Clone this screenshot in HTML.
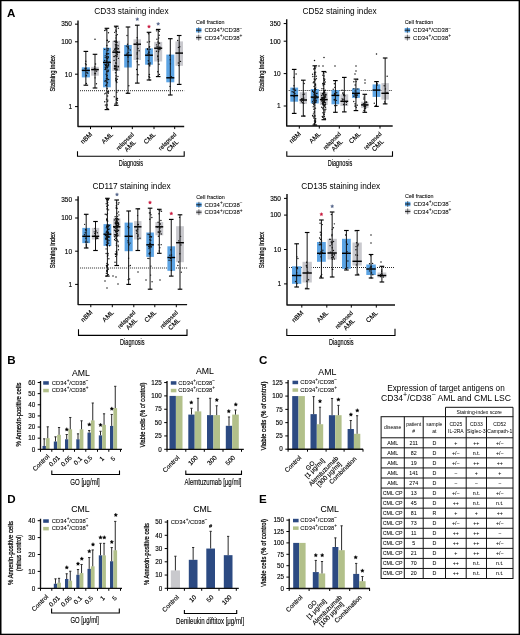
<!DOCTYPE html>
<html><head><meta charset="utf-8"><style>html,body{margin:0;padding:0;background:#fff;width:520px;height:635px;overflow:hidden}svg{display:block;will-change:transform}</style></head>
<body><svg width="520" height="635" viewBox="0 0 520 635" font-family="Liberation Sans">
<rect x="0.00" y="0.00" width="520.00" height="635.00" fill="#fff"/>
<text x="94.30" y="14.30" font-size="8.3" text-anchor="start" font-weight="normal" fill="#000">CD33 staining index</text>
<path d="M78,20.5 V126.5 H184.2" fill="none" stroke="#111" stroke-width="1.45" stroke-linejoin="round"/>
<line x1="75.00" y1="24.17" x2="78.00" y2="24.17" stroke="#000" stroke-width="1.0"/>
<text x="72.00" y="26.47" font-size="6.5" text-anchor="end" font-weight="normal" fill="#000" stroke="#000" stroke-width="0.13">350</text>
<line x1="75.00" y1="41.80" x2="78.00" y2="41.80" stroke="#000" stroke-width="1.0"/>
<text x="72.00" y="44.10" font-size="6.5" text-anchor="end" font-weight="normal" fill="#000" stroke="#000" stroke-width="0.13">100</text>
<line x1="75.00" y1="74.20" x2="78.00" y2="74.20" stroke="#000" stroke-width="1.0"/>
<text x="72.00" y="76.50" font-size="6.5" text-anchor="end" font-weight="normal" fill="#000" stroke="#000" stroke-width="0.13">10</text>
<line x1="75.00" y1="106.60" x2="78.00" y2="106.60" stroke="#000" stroke-width="1.0"/>
<text x="72.00" y="108.90" font-size="6.5" text-anchor="end" font-weight="normal" fill="#000" stroke="#000" stroke-width="0.13">1</text>
<text x="55.10" y="73.30" font-size="7.3" text-anchor="middle" font-weight="normal" fill="#000" transform="rotate(-90 55.10 73.30)" textLength="36.5" lengthAdjust="spacingAndGlyphs" stroke="#000" stroke-width="0.2">Staining index</text>
<line x1="90.50" y1="126.50" x2="90.50" y2="129.10" stroke="#000" stroke-width="1.0"/>
<line x1="111.50" y1="126.50" x2="111.50" y2="129.10" stroke="#000" stroke-width="1.0"/>
<line x1="132.30" y1="126.50" x2="132.30" y2="129.10" stroke="#000" stroke-width="1.0"/>
<line x1="154.00" y1="126.50" x2="154.00" y2="129.10" stroke="#000" stroke-width="1.0"/>
<line x1="174.70" y1="126.50" x2="174.70" y2="129.10" stroke="#000" stroke-width="1.0"/>
<line x1="80" y1="90.70" x2="184.2" y2="90.70" stroke="#000" stroke-width="0.85" stroke-dasharray="1,1"/>
<rect x="81.80" y="67.30" width="8.10" height="10.10" fill="#5ca4e4"/>
<line x1="85.85" y1="51.40" x2="85.85" y2="85.20" stroke="#111" stroke-width="1.0"/>
<line x1="83.55" y1="51.40" x2="88.15" y2="51.40" stroke="#000" stroke-width="1.15"/>
<line x1="83.55" y1="85.20" x2="88.15" y2="85.20" stroke="#000" stroke-width="1.15"/>
<line x1="81.80" y1="70.40" x2="89.90" y2="70.40" stroke="#000" stroke-width="1.45"/>
<circle cx="85.60" cy="68.82" r="0.7" fill="#111"/>
<circle cx="85.50" cy="63.76" r="0.7" fill="#111"/>
<circle cx="86.99" cy="72.43" r="0.7" fill="#111"/>
<circle cx="86.12" cy="68.22" r="0.7" fill="#111"/>
<circle cx="86.41" cy="75.65" r="0.7" fill="#111"/>
<circle cx="86.40" cy="83.43" r="0.7" fill="#111"/>
<circle cx="86.19" cy="64.81" r="0.7" fill="#111"/>
<circle cx="85.80" cy="61.19" r="0.7" fill="#111"/>
<circle cx="85.12" cy="68.49" r="0.7" fill="#111"/>
<circle cx="87.74" cy="73.17" r="0.7" fill="#111"/>
<rect x="91.20" y="66.80" width="7.60" height="8.90" fill="#c9c9ce"/>
<line x1="95.00" y1="54.30" x2="95.00" y2="88.00" stroke="#111" stroke-width="1.0"/>
<line x1="92.70" y1="54.30" x2="97.30" y2="54.30" stroke="#000" stroke-width="1.15"/>
<line x1="92.70" y1="88.00" x2="97.30" y2="88.00" stroke="#000" stroke-width="1.15"/>
<line x1="91.20" y1="69.60" x2="98.80" y2="69.60" stroke="#000" stroke-width="1.45"/>
<circle cx="94.62" cy="66.85" r="0.7" fill="#111"/>
<circle cx="94.88" cy="68.63" r="0.7" fill="#111"/>
<circle cx="94.43" cy="68.71" r="0.7" fill="#111"/>
<circle cx="96.34" cy="69.47" r="0.7" fill="#111"/>
<circle cx="95.05" cy="77.86" r="0.7" fill="#111"/>
<circle cx="96.44" cy="83.79" r="0.7" fill="#111"/>
<circle cx="95.55" cy="64.00" r="0.7" fill="#111"/>
<circle cx="94.93" cy="73.54" r="0.7" fill="#111"/>
<circle cx="96.58" cy="71.15" r="0.7" fill="#111"/>
<circle cx="95.40" cy="73.61" r="0.7" fill="#111"/>
<rect x="103.00" y="47.80" width="7.80" height="39.50" fill="#5ca4e4"/>
<line x1="106.90" y1="28.30" x2="106.90" y2="109.60" stroke="#111" stroke-width="1.0"/>
<line x1="104.60" y1="28.30" x2="109.20" y2="28.30" stroke="#000" stroke-width="1.15"/>
<line x1="104.60" y1="109.60" x2="109.20" y2="109.60" stroke="#000" stroke-width="1.15"/>
<line x1="103.00" y1="62.40" x2="110.80" y2="62.40" stroke="#000" stroke-width="1.45"/>
<circle cx="106.40" cy="53.81" r="0.7" fill="#111"/>
<circle cx="105.51" cy="65.39" r="0.7" fill="#111"/>
<circle cx="105.30" cy="105.10" r="0.7" fill="#111"/>
<circle cx="107.16" cy="75.51" r="0.7" fill="#111"/>
<circle cx="107.29" cy="109.04" r="0.7" fill="#111"/>
<circle cx="106.09" cy="74.21" r="0.7" fill="#111"/>
<circle cx="107.17" cy="66.04" r="0.7" fill="#111"/>
<circle cx="107.38" cy="78.15" r="0.7" fill="#111"/>
<circle cx="105.17" cy="57.58" r="0.7" fill="#111"/>
<circle cx="108.31" cy="65.54" r="0.7" fill="#111"/>
<circle cx="107.83" cy="100.12" r="0.7" fill="#111"/>
<circle cx="104.91" cy="64.20" r="0.7" fill="#111"/>
<circle cx="107.51" cy="82.73" r="0.7" fill="#111"/>
<circle cx="106.73" cy="56.96" r="0.7" fill="#111"/>
<circle cx="106.17" cy="66.96" r="0.7" fill="#111"/>
<circle cx="106.44" cy="64.35" r="0.7" fill="#111"/>
<circle cx="108.51" cy="70.17" r="0.7" fill="#111"/>
<circle cx="106.41" cy="78.51" r="0.7" fill="#111"/>
<circle cx="108.45" cy="32.69" r="0.7" fill="#111"/>
<circle cx="105.77" cy="93.17" r="0.7" fill="#111"/>
<circle cx="108.14" cy="63.56" r="0.7" fill="#111"/>
<circle cx="107.84" cy="50.46" r="0.7" fill="#111"/>
<circle cx="106.71" cy="54.21" r="0.7" fill="#111"/>
<circle cx="107.21" cy="53.77" r="0.7" fill="#111"/>
<circle cx="109.10" cy="62.16" r="0.7" fill="#111"/>
<circle cx="107.26" cy="40.38" r="0.7" fill="#111"/>
<circle cx="106.53" cy="61.52" r="0.7" fill="#111"/>
<circle cx="107.32" cy="109.04" r="0.7" fill="#111"/>
<circle cx="107.34" cy="67.64" r="0.7" fill="#111"/>
<circle cx="107.16" cy="58.26" r="0.7" fill="#111"/>
<circle cx="109.10" cy="41.42" r="0.7" fill="#111"/>
<circle cx="107.29" cy="40.22" r="0.7" fill="#111"/>
<circle cx="104.70" cy="30.50" r="0.7" fill="#111"/>
<circle cx="106.36" cy="84.90" r="0.7" fill="#111"/>
<circle cx="107.84" cy="62.28" r="0.7" fill="#111"/>
<circle cx="108.54" cy="91.64" r="0.7" fill="#111"/>
<circle cx="108.10" cy="56.61" r="0.7" fill="#111"/>
<circle cx="104.70" cy="93.83" r="0.7" fill="#111"/>
<circle cx="107.09" cy="88.45" r="0.7" fill="#111"/>
<circle cx="108.21" cy="48.94" r="0.7" fill="#111"/>
<circle cx="106.80" cy="58.84" r="0.7" fill="#111"/>
<circle cx="108.59" cy="64.66" r="0.7" fill="#111"/>
<circle cx="107.91" cy="108.63" r="0.7" fill="#111"/>
<circle cx="106.61" cy="56.76" r="0.7" fill="#111"/>
<circle cx="105.22" cy="55.87" r="0.7" fill="#111"/>
<circle cx="105.24" cy="67.28" r="0.7" fill="#111"/>
<circle cx="108.29" cy="93.31" r="0.7" fill="#111"/>
<circle cx="107.72" cy="91.90" r="0.7" fill="#111"/>
<circle cx="107.74" cy="67.16" r="0.7" fill="#111"/>
<circle cx="108.65" cy="79.43" r="0.7" fill="#111"/>
<circle cx="104.73" cy="60.48" r="0.7" fill="#111"/>
<circle cx="108.45" cy="42.12" r="0.7" fill="#111"/>
<circle cx="108.55" cy="53.77" r="0.7" fill="#111"/>
<circle cx="105.78" cy="80.45" r="0.7" fill="#111"/>
<circle cx="106.08" cy="81.74" r="0.7" fill="#111"/>
<circle cx="108.02" cy="48.36" r="0.7" fill="#111"/>
<circle cx="104.70" cy="81.12" r="0.7" fill="#111"/>
<circle cx="106.47" cy="99.17" r="0.7" fill="#111"/>
<circle cx="106.89" cy="45.46" r="0.7" fill="#111"/>
<circle cx="107.82" cy="70.96" r="0.7" fill="#111"/>
<circle cx="108.54" cy="64.35" r="0.7" fill="#111"/>
<circle cx="108.67" cy="65.90" r="0.7" fill="#111"/>
<circle cx="104.74" cy="101.82" r="0.7" fill="#111"/>
<circle cx="108.08" cy="71.54" r="0.7" fill="#111"/>
<circle cx="106.25" cy="29.82" r="0.7" fill="#111"/>
<circle cx="107.16" cy="79.37" r="0.7" fill="#111"/>
<circle cx="106.68" cy="66.50" r="0.7" fill="#111"/>
<circle cx="105.51" cy="68.27" r="0.7" fill="#111"/>
<circle cx="108.01" cy="92.06" r="0.7" fill="#111"/>
<circle cx="107.77" cy="58.74" r="0.7" fill="#111"/>
<circle cx="105.18" cy="69.58" r="0.7" fill="#111"/>
<circle cx="106.20" cy="64.34" r="0.7" fill="#111"/>
<circle cx="105.22" cy="69.40" r="0.7" fill="#111"/>
<circle cx="106.77" cy="71.66" r="0.7" fill="#111"/>
<circle cx="106.19" cy="104.84" r="0.7" fill="#111"/>
<circle cx="104.76" cy="49.40" r="0.7" fill="#111"/>
<circle cx="107.22" cy="104.99" r="0.7" fill="#111"/>
<circle cx="106.40" cy="65.26" r="0.7" fill="#111"/>
<circle cx="108.37" cy="57.31" r="0.7" fill="#111"/>
<circle cx="107.63" cy="101.23" r="0.7" fill="#111"/>
<circle cx="106.57" cy="76.09" r="0.7" fill="#111"/>
<circle cx="106.38" cy="106.96" r="0.7" fill="#111"/>
<circle cx="105.88" cy="85.42" r="0.7" fill="#111"/>
<circle cx="107.66" cy="95.98" r="0.7" fill="#111"/>
<circle cx="105.90" cy="64.85" r="0.7" fill="#111"/>
<circle cx="106.80" cy="60.38" r="0.7" fill="#111"/>
<circle cx="105.78" cy="29.88" r="0.7" fill="#111"/>
<rect x="112.30" y="40.80" width="7.80" height="30.20" fill="#c9c9ce"/>
<line x1="116.20" y1="26.20" x2="116.20" y2="105.30" stroke="#111" stroke-width="1.0"/>
<line x1="113.90" y1="26.20" x2="118.50" y2="26.20" stroke="#000" stroke-width="1.15"/>
<line x1="113.90" y1="105.30" x2="118.50" y2="105.30" stroke="#000" stroke-width="1.15"/>
<line x1="112.30" y1="52.20" x2="120.10" y2="52.20" stroke="#000" stroke-width="1.45"/>
<circle cx="115.81" cy="50.81" r="0.7" fill="#111"/>
<circle cx="118.40" cy="66.72" r="0.7" fill="#111"/>
<circle cx="117.45" cy="103.06" r="0.7" fill="#111"/>
<circle cx="118.05" cy="48.82" r="0.7" fill="#111"/>
<circle cx="116.67" cy="44.71" r="0.7" fill="#111"/>
<circle cx="116.56" cy="98.29" r="0.7" fill="#111"/>
<circle cx="115.43" cy="68.56" r="0.7" fill="#111"/>
<circle cx="116.52" cy="81.60" r="0.7" fill="#111"/>
<circle cx="116.40" cy="59.84" r="0.7" fill="#111"/>
<circle cx="114.89" cy="69.14" r="0.7" fill="#111"/>
<circle cx="114.72" cy="66.66" r="0.7" fill="#111"/>
<circle cx="115.24" cy="66.86" r="0.7" fill="#111"/>
<circle cx="116.49" cy="99.50" r="0.7" fill="#111"/>
<circle cx="115.40" cy="44.70" r="0.7" fill="#111"/>
<circle cx="116.06" cy="45.68" r="0.7" fill="#111"/>
<circle cx="115.84" cy="46.89" r="0.7" fill="#111"/>
<circle cx="117.07" cy="49.14" r="0.7" fill="#111"/>
<circle cx="116.08" cy="40.27" r="0.7" fill="#111"/>
<circle cx="116.37" cy="41.26" r="0.7" fill="#111"/>
<circle cx="116.66" cy="69.79" r="0.7" fill="#111"/>
<circle cx="117.36" cy="34.61" r="0.7" fill="#111"/>
<circle cx="114.11" cy="60.39" r="0.7" fill="#111"/>
<circle cx="116.27" cy="56.10" r="0.7" fill="#111"/>
<circle cx="115.06" cy="103.91" r="0.7" fill="#111"/>
<circle cx="117.94" cy="76.51" r="0.7" fill="#111"/>
<circle cx="116.75" cy="53.69" r="0.7" fill="#111"/>
<circle cx="116.39" cy="63.17" r="0.7" fill="#111"/>
<circle cx="118.02" cy="45.73" r="0.7" fill="#111"/>
<circle cx="117.27" cy="79.24" r="0.7" fill="#111"/>
<circle cx="115.87" cy="48.11" r="0.7" fill="#111"/>
<circle cx="117.38" cy="54.26" r="0.7" fill="#111"/>
<circle cx="117.56" cy="69.85" r="0.7" fill="#111"/>
<circle cx="115.96" cy="69.96" r="0.7" fill="#111"/>
<circle cx="117.28" cy="51.57" r="0.7" fill="#111"/>
<circle cx="116.21" cy="65.97" r="0.7" fill="#111"/>
<circle cx="117.06" cy="56.04" r="0.7" fill="#111"/>
<circle cx="116.23" cy="52.87" r="0.7" fill="#111"/>
<circle cx="115.93" cy="41.48" r="0.7" fill="#111"/>
<circle cx="116.95" cy="68.06" r="0.7" fill="#111"/>
<circle cx="115.72" cy="78.21" r="0.7" fill="#111"/>
<circle cx="114.00" cy="50.65" r="0.7" fill="#111"/>
<circle cx="115.94" cy="38.02" r="0.7" fill="#111"/>
<circle cx="114.64" cy="66.03" r="0.7" fill="#111"/>
<circle cx="116.00" cy="75.82" r="0.7" fill="#111"/>
<circle cx="114.20" cy="56.62" r="0.7" fill="#111"/>
<circle cx="116.89" cy="92.24" r="0.7" fill="#111"/>
<circle cx="114.26" cy="96.82" r="0.7" fill="#111"/>
<circle cx="116.23" cy="81.04" r="0.7" fill="#111"/>
<circle cx="116.47" cy="51.69" r="0.7" fill="#111"/>
<circle cx="114.76" cy="66.04" r="0.7" fill="#111"/>
<circle cx="115.64" cy="80.04" r="0.7" fill="#111"/>
<circle cx="116.74" cy="26.46" r="0.7" fill="#111"/>
<circle cx="114.45" cy="68.53" r="0.7" fill="#111"/>
<circle cx="116.13" cy="31.42" r="0.7" fill="#111"/>
<circle cx="115.36" cy="48.82" r="0.7" fill="#111"/>
<circle cx="116.01" cy="42.43" r="0.7" fill="#111"/>
<circle cx="114.00" cy="56.46" r="0.7" fill="#111"/>
<circle cx="116.36" cy="80.28" r="0.7" fill="#111"/>
<circle cx="114.68" cy="32.33" r="0.7" fill="#111"/>
<circle cx="116.16" cy="48.47" r="0.7" fill="#111"/>
<circle cx="115.26" cy="27.19" r="0.7" fill="#111"/>
<circle cx="115.41" cy="48.92" r="0.7" fill="#111"/>
<circle cx="114.71" cy="49.21" r="0.7" fill="#111"/>
<circle cx="115.66" cy="62.95" r="0.7" fill="#111"/>
<circle cx="116.32" cy="41.96" r="0.7" fill="#111"/>
<circle cx="117.41" cy="100.26" r="0.7" fill="#111"/>
<circle cx="116.33" cy="102.78" r="0.7" fill="#111"/>
<circle cx="116.86" cy="47.45" r="0.7" fill="#111"/>
<circle cx="118.40" cy="58.36" r="0.7" fill="#111"/>
<circle cx="116.76" cy="56.63" r="0.7" fill="#111"/>
<circle cx="116.03" cy="66.44" r="0.7" fill="#111"/>
<circle cx="116.47" cy="81.83" r="0.7" fill="#111"/>
<circle cx="118.40" cy="28.16" r="0.7" fill="#111"/>
<circle cx="115.31" cy="55.65" r="0.7" fill="#111"/>
<circle cx="116.48" cy="51.19" r="0.7" fill="#111"/>
<circle cx="118.03" cy="66.17" r="0.7" fill="#111"/>
<circle cx="116.22" cy="35.70" r="0.7" fill="#111"/>
<circle cx="116.94" cy="82.60" r="0.7" fill="#111"/>
<circle cx="115.67" cy="52.67" r="0.7" fill="#111"/>
<circle cx="115.45" cy="72.80" r="0.7" fill="#111"/>
<circle cx="117.09" cy="42.26" r="0.7" fill="#111"/>
<circle cx="115.63" cy="66.01" r="0.7" fill="#111"/>
<circle cx="118.40" cy="48.82" r="0.7" fill="#111"/>
<circle cx="114.28" cy="41.22" r="0.7" fill="#111"/>
<circle cx="118.17" cy="90.43" r="0.7" fill="#111"/>
<circle cx="117.49" cy="98.45" r="0.7" fill="#111"/>
<circle cx="115.69" cy="30.11" r="0.7" fill="#111"/>
<rect x="124.20" y="45.00" width="7.60" height="22.50" fill="#5ca4e4"/>
<line x1="128.00" y1="27.00" x2="128.00" y2="93.30" stroke="#111" stroke-width="1.0"/>
<line x1="125.70" y1="27.00" x2="130.30" y2="27.00" stroke="#000" stroke-width="1.15"/>
<line x1="125.70" y1="93.30" x2="130.30" y2="93.30" stroke="#000" stroke-width="1.15"/>
<line x1="124.20" y1="55.20" x2="131.80" y2="55.20" stroke="#000" stroke-width="1.45"/>
<circle cx="128.03" cy="56.89" r="0.7" fill="#111"/>
<circle cx="126.42" cy="46.10" r="0.7" fill="#111"/>
<circle cx="127.01" cy="35.44" r="0.7" fill="#111"/>
<circle cx="128.18" cy="61.63" r="0.7" fill="#111"/>
<circle cx="127.48" cy="44.25" r="0.7" fill="#111"/>
<circle cx="127.23" cy="53.15" r="0.7" fill="#111"/>
<circle cx="128.63" cy="48.64" r="0.7" fill="#111"/>
<circle cx="130.20" cy="49.95" r="0.7" fill="#111"/>
<circle cx="127.43" cy="93.07" r="0.7" fill="#111"/>
<circle cx="128.19" cy="47.04" r="0.7" fill="#111"/>
<circle cx="128.06" cy="47.05" r="0.7" fill="#111"/>
<circle cx="128.85" cy="85.82" r="0.7" fill="#111"/>
<circle cx="126.85" cy="54.37" r="0.7" fill="#111"/>
<circle cx="128.69" cy="52.61" r="0.7" fill="#111"/>
<rect x="133.50" y="39.30" width="7.50" height="20.70" fill="#c9c9ce"/>
<line x1="137.25" y1="25.20" x2="137.25" y2="83.10" stroke="#111" stroke-width="1.0"/>
<line x1="134.95" y1="25.20" x2="139.55" y2="25.20" stroke="#000" stroke-width="1.15"/>
<line x1="134.95" y1="83.10" x2="139.55" y2="83.10" stroke="#000" stroke-width="1.15"/>
<line x1="133.50" y1="44.20" x2="141.00" y2="44.20" stroke="#000" stroke-width="1.45"/>
<circle cx="137.81" cy="45.04" r="0.7" fill="#111"/>
<circle cx="137.13" cy="61.66" r="0.7" fill="#111"/>
<circle cx="137.14" cy="37.70" r="0.7" fill="#111"/>
<circle cx="138.07" cy="48.53" r="0.7" fill="#111"/>
<circle cx="137.41" cy="74.34" r="0.7" fill="#111"/>
<circle cx="137.08" cy="53.99" r="0.7" fill="#111"/>
<circle cx="137.23" cy="52.60" r="0.7" fill="#111"/>
<circle cx="137.24" cy="58.49" r="0.7" fill="#111"/>
<circle cx="138.07" cy="74.73" r="0.7" fill="#111"/>
<circle cx="137.11" cy="42.50" r="0.7" fill="#111"/>
<circle cx="138.89" cy="64.69" r="0.7" fill="#111"/>
<circle cx="136.62" cy="69.48" r="0.7" fill="#111"/>
<circle cx="139.11" cy="50.72" r="0.7" fill="#111"/>
<circle cx="137.72" cy="58.34" r="0.7" fill="#111"/>
<rect x="145.10" y="48.40" width="7.80" height="16.30" fill="#5ca4e4"/>
<line x1="149.00" y1="32.30" x2="149.00" y2="80.00" stroke="#111" stroke-width="1.0"/>
<line x1="146.70" y1="32.30" x2="151.30" y2="32.30" stroke="#000" stroke-width="1.15"/>
<line x1="146.70" y1="80.00" x2="151.30" y2="80.00" stroke="#000" stroke-width="1.15"/>
<line x1="145.10" y1="55.20" x2="152.90" y2="55.20" stroke="#000" stroke-width="1.45"/>
<circle cx="149.58" cy="46.79" r="0.7" fill="#111"/>
<circle cx="149.60" cy="65.62" r="0.7" fill="#111"/>
<circle cx="147.56" cy="49.55" r="0.7" fill="#111"/>
<circle cx="148.78" cy="52.04" r="0.7" fill="#111"/>
<circle cx="148.61" cy="32.80" r="0.7" fill="#111"/>
<circle cx="150.16" cy="63.05" r="0.7" fill="#111"/>
<circle cx="149.08" cy="54.97" r="0.7" fill="#111"/>
<circle cx="149.82" cy="65.91" r="0.7" fill="#111"/>
<circle cx="147.35" cy="48.76" r="0.7" fill="#111"/>
<circle cx="149.02" cy="52.59" r="0.7" fill="#111"/>
<circle cx="149.04" cy="76.43" r="0.7" fill="#111"/>
<circle cx="149.29" cy="55.26" r="0.7" fill="#111"/>
<circle cx="149.53" cy="41.75" r="0.7" fill="#111"/>
<circle cx="147.27" cy="42.09" r="0.7" fill="#111"/>
<circle cx="149.34" cy="47.17" r="0.7" fill="#111"/>
<circle cx="148.28" cy="60.80" r="0.7" fill="#111"/>
<circle cx="148.29" cy="63.92" r="0.7" fill="#111"/>
<circle cx="149.02" cy="55.20" r="0.7" fill="#111"/>
<circle cx="149.67" cy="77.56" r="0.7" fill="#111"/>
<circle cx="149.87" cy="64.28" r="0.7" fill="#111"/>
<circle cx="150.02" cy="49.25" r="0.7" fill="#111"/>
<circle cx="149.41" cy="74.45" r="0.7" fill="#111"/>
<circle cx="149.89" cy="79.88" r="0.7" fill="#111"/>
<circle cx="148.59" cy="63.65" r="0.7" fill="#111"/>
<circle cx="148.45" cy="33.82" r="0.7" fill="#111"/>
<circle cx="148.08" cy="53.81" r="0.7" fill="#111"/>
<rect x="154.20" y="41.90" width="8.00" height="19.60" fill="#c9c9ce"/>
<line x1="158.20" y1="29.40" x2="158.20" y2="76.60" stroke="#111" stroke-width="1.0"/>
<line x1="155.90" y1="29.40" x2="160.50" y2="29.40" stroke="#000" stroke-width="1.15"/>
<line x1="155.90" y1="76.60" x2="160.50" y2="76.60" stroke="#000" stroke-width="1.15"/>
<line x1="154.20" y1="48.20" x2="162.20" y2="48.20" stroke="#000" stroke-width="1.45"/>
<circle cx="158.01" cy="41.96" r="0.7" fill="#111"/>
<circle cx="159.21" cy="35.24" r="0.7" fill="#111"/>
<circle cx="156.93" cy="39.19" r="0.7" fill="#111"/>
<circle cx="159.80" cy="49.81" r="0.7" fill="#111"/>
<circle cx="156.48" cy="51.18" r="0.7" fill="#111"/>
<circle cx="159.97" cy="49.04" r="0.7" fill="#111"/>
<circle cx="156.50" cy="30.83" r="0.7" fill="#111"/>
<circle cx="159.27" cy="31.32" r="0.7" fill="#111"/>
<circle cx="158.94" cy="43.13" r="0.7" fill="#111"/>
<circle cx="157.79" cy="71.81" r="0.7" fill="#111"/>
<circle cx="159.67" cy="47.24" r="0.7" fill="#111"/>
<circle cx="157.80" cy="55.95" r="0.7" fill="#111"/>
<circle cx="160.05" cy="47.30" r="0.7" fill="#111"/>
<circle cx="158.24" cy="59.32" r="0.7" fill="#111"/>
<circle cx="158.33" cy="30.54" r="0.7" fill="#111"/>
<circle cx="159.44" cy="74.42" r="0.7" fill="#111"/>
<circle cx="157.04" cy="46.82" r="0.7" fill="#111"/>
<circle cx="158.75" cy="38.03" r="0.7" fill="#111"/>
<circle cx="159.04" cy="64.26" r="0.7" fill="#111"/>
<circle cx="156.50" cy="44.87" r="0.7" fill="#111"/>
<circle cx="158.29" cy="48.99" r="0.7" fill="#111"/>
<circle cx="157.76" cy="56.66" r="0.7" fill="#111"/>
<circle cx="159.56" cy="43.17" r="0.7" fill="#111"/>
<circle cx="158.49" cy="61.11" r="0.7" fill="#111"/>
<circle cx="158.16" cy="76.03" r="0.7" fill="#111"/>
<circle cx="158.66" cy="51.67" r="0.7" fill="#111"/>
<rect x="166.30" y="54.60" width="8.00" height="27.70" fill="#5ca4e4"/>
<line x1="170.30" y1="38.70" x2="170.30" y2="95.00" stroke="#111" stroke-width="1.0"/>
<line x1="168.00" y1="38.70" x2="172.60" y2="38.70" stroke="#000" stroke-width="1.15"/>
<line x1="168.00" y1="95.00" x2="172.60" y2="95.00" stroke="#000" stroke-width="1.15"/>
<line x1="166.30" y1="77.80" x2="174.30" y2="77.80" stroke="#000" stroke-width="1.45"/>
<circle cx="170.41" cy="63.86" r="0.7" fill="#111"/>
<circle cx="171.44" cy="76.65" r="0.7" fill="#111"/>
<circle cx="170.01" cy="86.39" r="0.7" fill="#111"/>
<circle cx="169.82" cy="55.24" r="0.7" fill="#111"/>
<circle cx="170.25" cy="59.70" r="0.7" fill="#111"/>
<rect x="175.40" y="41.40" width="7.60" height="24.40" fill="#c9c9ce"/>
<line x1="179.20" y1="35.50" x2="179.20" y2="84.40" stroke="#111" stroke-width="1.0"/>
<line x1="176.90" y1="35.50" x2="181.50" y2="35.50" stroke="#000" stroke-width="1.15"/>
<line x1="176.90" y1="84.40" x2="181.50" y2="84.40" stroke="#000" stroke-width="1.15"/>
<line x1="175.40" y1="53.10" x2="183.00" y2="53.10" stroke="#000" stroke-width="1.45"/>
<circle cx="178.47" cy="47.39" r="0.7" fill="#111"/>
<circle cx="178.34" cy="62.97" r="0.7" fill="#111"/>
<circle cx="178.74" cy="65.62" r="0.7" fill="#111"/>
<circle cx="179.77" cy="46.81" r="0.7" fill="#111"/>
<circle cx="177.71" cy="40.50" r="0.7" fill="#111"/>
<circle cx="180.51" cy="61.39" r="0.7" fill="#111"/>
<polygon points="137.30,17.44 137.82,18.49 138.98,18.65 138.14,19.47 138.34,20.63 137.30,20.08 136.26,20.63 136.46,19.47 135.62,18.65 136.78,18.49" fill="#55658a" stroke="#55658a" stroke-width="0.3"/>
<polygon points="149.00,24.84 149.52,25.89 150.68,26.05 149.84,26.87 150.04,28.03 149.00,27.48 147.96,28.03 148.16,26.87 147.32,26.05 148.48,25.89" fill="#c8183c" stroke="#c8183c" stroke-width="0.3"/>
<polygon points="158.20,22.14 158.72,23.19 159.88,23.35 159.04,24.17 159.24,25.33 158.20,24.78 157.16,25.33 157.36,24.17 156.52,23.35 157.68,23.19" fill="#55658a" stroke="#55658a" stroke-width="0.3"/>
<circle cx="95.00" cy="39.30" r="0.75" fill="#111"/>
<text x="87.84" y="139.56" font-size="6.55" text-anchor="middle" font-weight="normal" fill="#000" transform="rotate(-45 87.84 139.56)" stroke="#000" stroke-width="0.13">nBM</text>
<text x="108.84" y="139.56" font-size="6.55" text-anchor="middle" font-weight="normal" fill="#000" transform="rotate(-45 108.84 139.56)" stroke="#000" stroke-width="0.13">AML</text>
<text x="126.40" y="142.80" font-size="5.9" text-anchor="middle" font-weight="normal" fill="#000" transform="rotate(-45 126.40 142.80)" stroke="#000" stroke-width="0.13">relapsed</text>
<text x="131.70" y="147.40" font-size="6.55" text-anchor="middle" font-weight="normal" fill="#000" transform="rotate(-45 131.70 147.40)" stroke="#000" stroke-width="0.13">AML</text>
<text x="151.21" y="139.69" font-size="6.55" text-anchor="middle" font-weight="normal" fill="#000" transform="rotate(-45 151.21 139.69)" stroke="#000" stroke-width="0.13">CML</text>
<text x="168.80" y="142.80" font-size="5.9" text-anchor="middle" font-weight="normal" fill="#000" transform="rotate(-45 168.80 142.80)" stroke="#000" stroke-width="0.13">relapsed</text>
<text x="174.10" y="147.40" font-size="6.55" text-anchor="middle" font-weight="normal" fill="#000" transform="rotate(-45 174.10 147.40)" stroke="#000" stroke-width="0.13">CML</text>
<path d="M77.5,151.3 V156.2 H184.2 V151.3" fill="none" stroke="#000" stroke-width="1.1"/>
<text x="130.90" y="166.00" font-size="8.2" text-anchor="middle" font-weight="normal" fill="#000" textLength="24.5" lengthAdjust="spacingAndGlyphs" stroke="#000" stroke-width="0.13">Diagnosis</text>
<text x="196.00" y="24.20" font-size="5.4" text-anchor="start" font-weight="normal" fill="#000" stroke="#000" stroke-width="0.06">Cell fraction</text>
<rect x="196.00" y="28.00" width="5.40" height="4.40" fill="#5ca4e4"/>
<line x1="198.70" y1="27.20" x2="198.70" y2="33.20" stroke="#222" stroke-width="0.6"/>
<line x1="196.00" y1="30.20" x2="201.40" y2="30.20" stroke="#111" stroke-width="0.9"/>
<text x="204.40" y="32.30" font-size="6.0" text-anchor="start" font-weight="normal" fill="#000" stroke="#000" stroke-width="0.06">CD34<tspan dy="-2.7" font-size="0.8em">+</tspan><tspan dy="2.7">/CD38</tspan><tspan dy="-2.7" font-size="0.8em">−</tspan></text>
<rect x="196.00" y="35.40" width="5.40" height="4.40" fill="#c9c9ce"/>
<line x1="198.70" y1="34.60" x2="198.70" y2="40.60" stroke="#222" stroke-width="0.6"/>
<line x1="196.00" y1="37.60" x2="201.40" y2="37.60" stroke="#111" stroke-width="0.9"/>
<text x="204.40" y="39.70" font-size="6.0" text-anchor="start" font-weight="normal" fill="#000" stroke="#000" stroke-width="0.06">CD34<tspan dy="-2.7" font-size="0.8em">+</tspan><tspan dy="2.7">/CD38</tspan><tspan dy="-2.7" font-size="0.8em">+</tspan></text>
<text x="302.50" y="14.30" font-size="8.3" text-anchor="start" font-weight="normal" fill="#000">CD52 staining index</text>
<path d="M286.7,19.2 V126 H392.7" fill="none" stroke="#111" stroke-width="1.45" stroke-linejoin="round"/>
<line x1="283.70" y1="23.57" x2="286.70" y2="23.57" stroke="#000" stroke-width="1.0"/>
<text x="280.70" y="25.87" font-size="6.5" text-anchor="end" font-weight="normal" fill="#000" stroke="#000" stroke-width="0.13">350</text>
<line x1="283.70" y1="41.20" x2="286.70" y2="41.20" stroke="#000" stroke-width="1.0"/>
<text x="280.70" y="43.50" font-size="6.5" text-anchor="end" font-weight="normal" fill="#000" stroke="#000" stroke-width="0.13">100</text>
<line x1="283.70" y1="73.60" x2="286.70" y2="73.60" stroke="#000" stroke-width="1.0"/>
<text x="280.70" y="75.90" font-size="6.5" text-anchor="end" font-weight="normal" fill="#000" stroke="#000" stroke-width="0.13">10</text>
<line x1="283.70" y1="106.00" x2="286.70" y2="106.00" stroke="#000" stroke-width="1.0"/>
<text x="280.70" y="108.30" font-size="6.5" text-anchor="end" font-weight="normal" fill="#000" stroke="#000" stroke-width="0.13">1</text>
<text x="263.80" y="73.30" font-size="7.3" text-anchor="middle" font-weight="normal" fill="#000" transform="rotate(-90 263.80 73.30)" textLength="36.5" lengthAdjust="spacingAndGlyphs" stroke="#000" stroke-width="0.2">Staining index</text>
<line x1="299.30" y1="126.00" x2="299.30" y2="128.60" stroke="#000" stroke-width="1.0"/>
<line x1="319.30" y1="126.00" x2="319.30" y2="128.60" stroke="#000" stroke-width="1.0"/>
<line x1="339.30" y1="126.00" x2="339.30" y2="128.60" stroke="#000" stroke-width="1.0"/>
<line x1="359.30" y1="126.00" x2="359.30" y2="128.60" stroke="#000" stroke-width="1.0"/>
<line x1="380.00" y1="126.00" x2="380.00" y2="128.60" stroke="#000" stroke-width="1.0"/>
<line x1="288.7" y1="90.50" x2="392.7" y2="90.50" stroke="#000" stroke-width="0.85" stroke-dasharray="1,1"/>
<rect x="290.30" y="87.60" width="7.80" height="14.10" fill="#5ca4e4"/>
<line x1="294.20" y1="69.40" x2="294.20" y2="113.40" stroke="#111" stroke-width="1.0"/>
<line x1="291.90" y1="69.40" x2="296.50" y2="69.40" stroke="#000" stroke-width="1.15"/>
<line x1="291.90" y1="113.40" x2="296.50" y2="113.40" stroke="#000" stroke-width="1.15"/>
<line x1="290.30" y1="95.60" x2="298.10" y2="95.60" stroke="#000" stroke-width="1.45"/>
<circle cx="292.15" cy="91.74" r="0.7" fill="#111"/>
<circle cx="295.63" cy="90.27" r="0.7" fill="#111"/>
<circle cx="293.95" cy="85.78" r="0.7" fill="#111"/>
<circle cx="294.08" cy="89.16" r="0.7" fill="#111"/>
<circle cx="296.10" cy="74.05" r="0.7" fill="#111"/>
<circle cx="294.41" cy="96.68" r="0.7" fill="#111"/>
<circle cx="295.23" cy="90.48" r="0.7" fill="#111"/>
<circle cx="293.77" cy="96.05" r="0.7" fill="#111"/>
<circle cx="293.60" cy="92.21" r="0.7" fill="#111"/>
<circle cx="293.92" cy="77.55" r="0.7" fill="#111"/>
<circle cx="294.89" cy="93.51" r="0.7" fill="#111"/>
<circle cx="293.10" cy="89.03" r="0.7" fill="#111"/>
<rect x="299.60" y="92.20" width="7.40" height="11.70" fill="#c9c9ce"/>
<line x1="303.30" y1="80.20" x2="303.30" y2="116.10" stroke="#111" stroke-width="1.0"/>
<line x1="301.00" y1="80.20" x2="305.60" y2="80.20" stroke="#000" stroke-width="1.15"/>
<line x1="301.00" y1="116.10" x2="305.60" y2="116.10" stroke="#000" stroke-width="1.15"/>
<line x1="299.60" y1="100.00" x2="307.00" y2="100.00" stroke="#000" stroke-width="1.45"/>
<circle cx="304.15" cy="83.47" r="0.7" fill="#111"/>
<circle cx="302.54" cy="100.34" r="0.7" fill="#111"/>
<circle cx="303.78" cy="103.35" r="0.7" fill="#111"/>
<circle cx="302.59" cy="98.83" r="0.7" fill="#111"/>
<circle cx="304.19" cy="115.98" r="0.7" fill="#111"/>
<circle cx="303.20" cy="94.51" r="0.7" fill="#111"/>
<circle cx="302.56" cy="102.75" r="0.7" fill="#111"/>
<circle cx="301.41" cy="101.80" r="0.7" fill="#111"/>
<circle cx="304.57" cy="94.10" r="0.7" fill="#111"/>
<circle cx="301.77" cy="98.65" r="0.7" fill="#111"/>
<circle cx="301.43" cy="99.48" r="0.7" fill="#111"/>
<circle cx="303.85" cy="98.10" r="0.7" fill="#111"/>
<rect x="310.80" y="89.00" width="8.00" height="14.40" fill="#5ca4e4"/>
<line x1="314.80" y1="65.80" x2="314.80" y2="125.00" stroke="#111" stroke-width="1.0"/>
<line x1="312.50" y1="65.80" x2="317.10" y2="65.80" stroke="#000" stroke-width="1.15"/>
<line x1="312.50" y1="125.00" x2="317.10" y2="125.00" stroke="#000" stroke-width="1.15"/>
<line x1="310.80" y1="97.10" x2="318.80" y2="97.10" stroke="#000" stroke-width="1.45"/>
<circle cx="315.51" cy="120.59" r="0.7" fill="#111"/>
<circle cx="315.77" cy="96.06" r="0.7" fill="#111"/>
<circle cx="312.60" cy="90.82" r="0.7" fill="#111"/>
<circle cx="314.44" cy="123.55" r="0.7" fill="#111"/>
<circle cx="314.84" cy="88.76" r="0.7" fill="#111"/>
<circle cx="315.09" cy="102.52" r="0.7" fill="#111"/>
<circle cx="314.22" cy="78.95" r="0.7" fill="#111"/>
<circle cx="315.13" cy="115.90" r="0.7" fill="#111"/>
<circle cx="314.19" cy="94.76" r="0.7" fill="#111"/>
<circle cx="315.39" cy="88.51" r="0.7" fill="#111"/>
<circle cx="315.38" cy="118.92" r="0.7" fill="#111"/>
<circle cx="314.81" cy="97.10" r="0.7" fill="#111"/>
<circle cx="314.49" cy="72.77" r="0.7" fill="#111"/>
<circle cx="314.14" cy="98.36" r="0.7" fill="#111"/>
<circle cx="314.13" cy="100.29" r="0.7" fill="#111"/>
<circle cx="313.68" cy="104.80" r="0.7" fill="#111"/>
<circle cx="315.19" cy="97.91" r="0.7" fill="#111"/>
<circle cx="314.96" cy="79.73" r="0.7" fill="#111"/>
<circle cx="312.89" cy="76.43" r="0.7" fill="#111"/>
<circle cx="315.61" cy="72.14" r="0.7" fill="#111"/>
<circle cx="315.64" cy="95.36" r="0.7" fill="#111"/>
<circle cx="314.50" cy="68.21" r="0.7" fill="#111"/>
<circle cx="314.46" cy="111.84" r="0.7" fill="#111"/>
<circle cx="313.73" cy="69.01" r="0.7" fill="#111"/>
<circle cx="314.77" cy="73.86" r="0.7" fill="#111"/>
<circle cx="314.57" cy="124.77" r="0.7" fill="#111"/>
<circle cx="312.79" cy="103.14" r="0.7" fill="#111"/>
<circle cx="315.37" cy="122.43" r="0.7" fill="#111"/>
<circle cx="314.47" cy="120.89" r="0.7" fill="#111"/>
<circle cx="314.83" cy="94.05" r="0.7" fill="#111"/>
<circle cx="314.15" cy="82.08" r="0.7" fill="#111"/>
<circle cx="312.60" cy="74.30" r="0.7" fill="#111"/>
<circle cx="314.77" cy="92.79" r="0.7" fill="#111"/>
<circle cx="315.48" cy="84.69" r="0.7" fill="#111"/>
<circle cx="314.96" cy="102.48" r="0.7" fill="#111"/>
<circle cx="315.74" cy="118.81" r="0.7" fill="#111"/>
<circle cx="316.48" cy="96.64" r="0.7" fill="#111"/>
<circle cx="315.78" cy="87.10" r="0.7" fill="#111"/>
<circle cx="313.80" cy="118.05" r="0.7" fill="#111"/>
<circle cx="314.04" cy="103.30" r="0.7" fill="#111"/>
<circle cx="314.00" cy="81.47" r="0.7" fill="#111"/>
<circle cx="313.61" cy="99.98" r="0.7" fill="#111"/>
<circle cx="316.24" cy="76.26" r="0.7" fill="#111"/>
<circle cx="315.16" cy="68.66" r="0.7" fill="#111"/>
<circle cx="314.04" cy="124.06" r="0.7" fill="#111"/>
<circle cx="314.77" cy="105.09" r="0.7" fill="#111"/>
<circle cx="314.86" cy="91.15" r="0.7" fill="#111"/>
<circle cx="312.60" cy="91.39" r="0.7" fill="#111"/>
<circle cx="314.61" cy="92.27" r="0.7" fill="#111"/>
<circle cx="315.83" cy="67.12" r="0.7" fill="#111"/>
<circle cx="314.82" cy="94.14" r="0.7" fill="#111"/>
<circle cx="314.17" cy="97.40" r="0.7" fill="#111"/>
<circle cx="314.41" cy="93.91" r="0.7" fill="#111"/>
<circle cx="314.83" cy="102.49" r="0.7" fill="#111"/>
<circle cx="315.43" cy="98.19" r="0.7" fill="#111"/>
<circle cx="314.10" cy="112.10" r="0.7" fill="#111"/>
<circle cx="315.30" cy="98.29" r="0.7" fill="#111"/>
<circle cx="314.07" cy="86.54" r="0.7" fill="#111"/>
<circle cx="313.86" cy="109.22" r="0.7" fill="#111"/>
<circle cx="316.10" cy="102.01" r="0.7" fill="#111"/>
<circle cx="315.17" cy="79.87" r="0.7" fill="#111"/>
<circle cx="316.19" cy="100.22" r="0.7" fill="#111"/>
<circle cx="314.91" cy="74.22" r="0.7" fill="#111"/>
<circle cx="313.23" cy="97.76" r="0.7" fill="#111"/>
<circle cx="314.73" cy="76.14" r="0.7" fill="#111"/>
<circle cx="317.00" cy="93.32" r="0.7" fill="#111"/>
<circle cx="315.49" cy="108.15" r="0.7" fill="#111"/>
<circle cx="314.76" cy="101.16" r="0.7" fill="#111"/>
<circle cx="313.57" cy="92.59" r="0.7" fill="#111"/>
<circle cx="314.83" cy="90.52" r="0.7" fill="#111"/>
<circle cx="315.11" cy="99.80" r="0.7" fill="#111"/>
<circle cx="314.59" cy="115.84" r="0.7" fill="#111"/>
<circle cx="313.96" cy="91.61" r="0.7" fill="#111"/>
<circle cx="314.65" cy="96.78" r="0.7" fill="#111"/>
<circle cx="316.37" cy="78.65" r="0.7" fill="#111"/>
<circle cx="314.75" cy="66.70" r="0.7" fill="#111"/>
<circle cx="315.61" cy="121.73" r="0.7" fill="#111"/>
<circle cx="315.52" cy="85.15" r="0.7" fill="#111"/>
<circle cx="314.13" cy="102.07" r="0.7" fill="#111"/>
<circle cx="313.25" cy="106.82" r="0.7" fill="#111"/>
<circle cx="312.60" cy="115.51" r="0.7" fill="#111"/>
<circle cx="313.17" cy="116.57" r="0.7" fill="#111"/>
<circle cx="315.48" cy="84.02" r="0.7" fill="#111"/>
<circle cx="316.94" cy="97.97" r="0.7" fill="#111"/>
<circle cx="315.94" cy="89.39" r="0.7" fill="#111"/>
<circle cx="314.46" cy="102.38" r="0.7" fill="#111"/>
<circle cx="315.30" cy="89.60" r="0.7" fill="#111"/>
<circle cx="314.21" cy="103.33" r="0.7" fill="#111"/>
<circle cx="313.10" cy="97.50" r="0.7" fill="#111"/>
<circle cx="315.78" cy="100.77" r="0.7" fill="#111"/>
<circle cx="312.70" cy="101.50" r="0.7" fill="#111"/>
<circle cx="315.38" cy="121.70" r="0.7" fill="#111"/>
<circle cx="315.27" cy="89.50" r="0.7" fill="#111"/>
<circle cx="313.43" cy="113.87" r="0.7" fill="#111"/>
<circle cx="313.27" cy="82.81" r="0.7" fill="#111"/>
<circle cx="314.83" cy="90.41" r="0.7" fill="#111"/>
<circle cx="314.06" cy="95.10" r="0.7" fill="#111"/>
<circle cx="314.45" cy="92.70" r="0.7" fill="#111"/>
<circle cx="316.51" cy="93.62" r="0.7" fill="#111"/>
<circle cx="315.71" cy="95.62" r="0.7" fill="#111"/>
<rect x="319.90" y="92.20" width="7.80" height="12.80" fill="#c9c9ce"/>
<line x1="323.80" y1="71.50" x2="323.80" y2="119.70" stroke="#111" stroke-width="1.0"/>
<line x1="321.50" y1="71.50" x2="326.10" y2="71.50" stroke="#000" stroke-width="1.15"/>
<line x1="321.50" y1="119.70" x2="326.10" y2="119.70" stroke="#000" stroke-width="1.15"/>
<line x1="319.90" y1="99.60" x2="327.70" y2="99.60" stroke="#000" stroke-width="1.45"/>
<circle cx="322.57" cy="97.49" r="0.7" fill="#111"/>
<circle cx="322.82" cy="108.76" r="0.7" fill="#111"/>
<circle cx="325.21" cy="81.94" r="0.7" fill="#111"/>
<circle cx="324.09" cy="75.88" r="0.7" fill="#111"/>
<circle cx="323.19" cy="94.79" r="0.7" fill="#111"/>
<circle cx="325.08" cy="118.63" r="0.7" fill="#111"/>
<circle cx="323.84" cy="109.90" r="0.7" fill="#111"/>
<circle cx="322.61" cy="98.53" r="0.7" fill="#111"/>
<circle cx="325.50" cy="104.28" r="0.7" fill="#111"/>
<circle cx="323.40" cy="94.95" r="0.7" fill="#111"/>
<circle cx="322.57" cy="100.35" r="0.7" fill="#111"/>
<circle cx="323.17" cy="102.29" r="0.7" fill="#111"/>
<circle cx="321.97" cy="88.64" r="0.7" fill="#111"/>
<circle cx="324.16" cy="90.52" r="0.7" fill="#111"/>
<circle cx="323.50" cy="72.71" r="0.7" fill="#111"/>
<circle cx="324.86" cy="95.57" r="0.7" fill="#111"/>
<circle cx="323.05" cy="103.51" r="0.7" fill="#111"/>
<circle cx="321.99" cy="98.10" r="0.7" fill="#111"/>
<circle cx="323.44" cy="102.65" r="0.7" fill="#111"/>
<circle cx="324.99" cy="96.38" r="0.7" fill="#111"/>
<circle cx="325.55" cy="107.26" r="0.7" fill="#111"/>
<circle cx="324.01" cy="97.82" r="0.7" fill="#111"/>
<circle cx="322.37" cy="98.11" r="0.7" fill="#111"/>
<circle cx="324.13" cy="82.97" r="0.7" fill="#111"/>
<circle cx="324.67" cy="112.16" r="0.7" fill="#111"/>
<circle cx="323.81" cy="94.20" r="0.7" fill="#111"/>
<circle cx="324.78" cy="79.26" r="0.7" fill="#111"/>
<circle cx="325.56" cy="94.62" r="0.7" fill="#111"/>
<circle cx="323.52" cy="104.52" r="0.7" fill="#111"/>
<circle cx="325.75" cy="97.12" r="0.7" fill="#111"/>
<circle cx="323.60" cy="92.46" r="0.7" fill="#111"/>
<circle cx="324.39" cy="100.37" r="0.7" fill="#111"/>
<circle cx="324.27" cy="92.63" r="0.7" fill="#111"/>
<circle cx="323.35" cy="102.32" r="0.7" fill="#111"/>
<circle cx="322.58" cy="93.83" r="0.7" fill="#111"/>
<circle cx="322.31" cy="99.93" r="0.7" fill="#111"/>
<circle cx="324.82" cy="92.23" r="0.7" fill="#111"/>
<circle cx="323.10" cy="107.61" r="0.7" fill="#111"/>
<circle cx="324.18" cy="113.92" r="0.7" fill="#111"/>
<circle cx="324.80" cy="105.24" r="0.7" fill="#111"/>
<circle cx="322.47" cy="93.38" r="0.7" fill="#111"/>
<circle cx="324.74" cy="100.24" r="0.7" fill="#111"/>
<circle cx="324.46" cy="105.87" r="0.7" fill="#111"/>
<circle cx="322.72" cy="83.55" r="0.7" fill="#111"/>
<circle cx="324.36" cy="91.23" r="0.7" fill="#111"/>
<circle cx="324.45" cy="116.34" r="0.7" fill="#111"/>
<circle cx="325.26" cy="90.24" r="0.7" fill="#111"/>
<circle cx="325.14" cy="118.48" r="0.7" fill="#111"/>
<circle cx="324.13" cy="102.21" r="0.7" fill="#111"/>
<circle cx="324.96" cy="96.53" r="0.7" fill="#111"/>
<circle cx="324.65" cy="106.07" r="0.7" fill="#111"/>
<circle cx="324.44" cy="102.31" r="0.7" fill="#111"/>
<circle cx="322.63" cy="117.19" r="0.7" fill="#111"/>
<circle cx="322.34" cy="100.96" r="0.7" fill="#111"/>
<circle cx="324.97" cy="104.80" r="0.7" fill="#111"/>
<circle cx="323.63" cy="92.92" r="0.7" fill="#111"/>
<circle cx="324.90" cy="97.56" r="0.7" fill="#111"/>
<circle cx="323.28" cy="105.16" r="0.7" fill="#111"/>
<circle cx="324.49" cy="101.69" r="0.7" fill="#111"/>
<circle cx="324.18" cy="96.91" r="0.7" fill="#111"/>
<circle cx="325.74" cy="94.91" r="0.7" fill="#111"/>
<circle cx="324.37" cy="102.14" r="0.7" fill="#111"/>
<circle cx="322.35" cy="98.59" r="0.7" fill="#111"/>
<circle cx="322.85" cy="104.54" r="0.7" fill="#111"/>
<circle cx="325.05" cy="110.84" r="0.7" fill="#111"/>
<circle cx="323.26" cy="85.69" r="0.7" fill="#111"/>
<circle cx="323.63" cy="88.60" r="0.7" fill="#111"/>
<circle cx="323.20" cy="84.39" r="0.7" fill="#111"/>
<circle cx="324.39" cy="80.46" r="0.7" fill="#111"/>
<circle cx="323.64" cy="101.44" r="0.7" fill="#111"/>
<circle cx="324.61" cy="98.34" r="0.7" fill="#111"/>
<circle cx="323.24" cy="102.22" r="0.7" fill="#111"/>
<circle cx="322.92" cy="112.68" r="0.7" fill="#111"/>
<circle cx="325.40" cy="102.80" r="0.7" fill="#111"/>
<circle cx="322.73" cy="102.84" r="0.7" fill="#111"/>
<circle cx="326.00" cy="72.22" r="0.7" fill="#111"/>
<circle cx="324.00" cy="83.55" r="0.7" fill="#111"/>
<circle cx="324.00" cy="94.03" r="0.7" fill="#111"/>
<circle cx="325.69" cy="94.15" r="0.7" fill="#111"/>
<circle cx="324.94" cy="109.66" r="0.7" fill="#111"/>
<circle cx="325.82" cy="109.16" r="0.7" fill="#111"/>
<circle cx="324.30" cy="114.59" r="0.7" fill="#111"/>
<circle cx="321.76" cy="101.07" r="0.7" fill="#111"/>
<circle cx="321.69" cy="107.26" r="0.7" fill="#111"/>
<circle cx="324.66" cy="84.25" r="0.7" fill="#111"/>
<circle cx="323.42" cy="93.98" r="0.7" fill="#111"/>
<circle cx="323.82" cy="78.46" r="0.7" fill="#111"/>
<circle cx="321.67" cy="95.51" r="0.7" fill="#111"/>
<circle cx="323.26" cy="102.96" r="0.7" fill="#111"/>
<circle cx="322.73" cy="98.62" r="0.7" fill="#111"/>
<circle cx="321.98" cy="97.56" r="0.7" fill="#111"/>
<circle cx="322.78" cy="75.13" r="0.7" fill="#111"/>
<circle cx="322.61" cy="100.00" r="0.7" fill="#111"/>
<circle cx="322.29" cy="116.40" r="0.7" fill="#111"/>
<circle cx="326.00" cy="94.86" r="0.7" fill="#111"/>
<circle cx="323.49" cy="73.13" r="0.7" fill="#111"/>
<circle cx="322.29" cy="103.23" r="0.7" fill="#111"/>
<circle cx="321.94" cy="98.27" r="0.7" fill="#111"/>
<circle cx="323.50" cy="97.77" r="0.7" fill="#111"/>
<circle cx="324.22" cy="98.20" r="0.7" fill="#111"/>
<rect x="331.50" y="90.10" width="7.80" height="14.20" fill="#5ca4e4"/>
<line x1="335.40" y1="80.60" x2="335.40" y2="112.30" stroke="#111" stroke-width="1.0"/>
<line x1="333.10" y1="80.60" x2="337.70" y2="80.60" stroke="#000" stroke-width="1.15"/>
<line x1="333.10" y1="112.30" x2="337.70" y2="112.30" stroke="#000" stroke-width="1.15"/>
<line x1="331.50" y1="95.40" x2="339.30" y2="95.40" stroke="#000" stroke-width="1.45"/>
<circle cx="334.59" cy="93.40" r="0.7" fill="#111"/>
<circle cx="333.20" cy="89.21" r="0.7" fill="#111"/>
<circle cx="335.28" cy="105.70" r="0.7" fill="#111"/>
<circle cx="334.96" cy="94.60" r="0.7" fill="#111"/>
<circle cx="336.79" cy="105.46" r="0.7" fill="#111"/>
<circle cx="336.44" cy="100.36" r="0.7" fill="#111"/>
<circle cx="334.49" cy="94.37" r="0.7" fill="#111"/>
<circle cx="336.73" cy="92.80" r="0.7" fill="#111"/>
<circle cx="334.69" cy="105.61" r="0.7" fill="#111"/>
<circle cx="334.25" cy="99.99" r="0.7" fill="#111"/>
<circle cx="334.37" cy="99.50" r="0.7" fill="#111"/>
<circle cx="334.79" cy="87.34" r="0.7" fill="#111"/>
<circle cx="334.34" cy="83.81" r="0.7" fill="#111"/>
<circle cx="335.77" cy="90.63" r="0.7" fill="#111"/>
<rect x="340.40" y="94.30" width="7.80" height="11.70" fill="#c9c9ce"/>
<line x1="344.30" y1="77.40" x2="344.30" y2="111.90" stroke="#111" stroke-width="1.0"/>
<line x1="342.00" y1="77.40" x2="346.60" y2="77.40" stroke="#000" stroke-width="1.15"/>
<line x1="342.00" y1="111.90" x2="346.60" y2="111.90" stroke="#000" stroke-width="1.15"/>
<line x1="340.40" y1="101.30" x2="348.20" y2="101.30" stroke="#000" stroke-width="1.45"/>
<circle cx="342.10" cy="90.13" r="0.7" fill="#111"/>
<circle cx="343.51" cy="104.54" r="0.7" fill="#111"/>
<circle cx="343.98" cy="99.23" r="0.7" fill="#111"/>
<circle cx="342.69" cy="99.34" r="0.7" fill="#111"/>
<circle cx="342.31" cy="100.94" r="0.7" fill="#111"/>
<circle cx="344.83" cy="95.69" r="0.7" fill="#111"/>
<circle cx="342.96" cy="92.80" r="0.7" fill="#111"/>
<circle cx="342.13" cy="98.83" r="0.7" fill="#111"/>
<circle cx="342.88" cy="93.80" r="0.7" fill="#111"/>
<circle cx="343.83" cy="95.49" r="0.7" fill="#111"/>
<circle cx="343.70" cy="94.48" r="0.7" fill="#111"/>
<circle cx="346.37" cy="102.30" r="0.7" fill="#111"/>
<circle cx="346.28" cy="104.47" r="0.7" fill="#111"/>
<circle cx="344.14" cy="94.51" r="0.7" fill="#111"/>
<rect x="352.00" y="88.40" width="7.90" height="9.50" fill="#5ca4e4"/>
<line x1="355.95" y1="79.10" x2="355.95" y2="110.60" stroke="#111" stroke-width="1.0"/>
<line x1="353.65" y1="79.10" x2="358.25" y2="79.10" stroke="#000" stroke-width="1.15"/>
<line x1="353.65" y1="110.60" x2="358.25" y2="110.60" stroke="#000" stroke-width="1.15"/>
<line x1="352.00" y1="93.30" x2="359.90" y2="93.30" stroke="#000" stroke-width="1.45"/>
<circle cx="355.15" cy="85.00" r="0.7" fill="#111"/>
<circle cx="355.46" cy="95.75" r="0.7" fill="#111"/>
<circle cx="353.84" cy="81.76" r="0.7" fill="#111"/>
<circle cx="353.75" cy="101.44" r="0.7" fill="#111"/>
<circle cx="356.58" cy="97.56" r="0.7" fill="#111"/>
<circle cx="357.54" cy="79.46" r="0.7" fill="#111"/>
<circle cx="356.10" cy="81.61" r="0.7" fill="#111"/>
<circle cx="357.05" cy="95.33" r="0.7" fill="#111"/>
<circle cx="357.84" cy="88.97" r="0.7" fill="#111"/>
<circle cx="354.42" cy="93.86" r="0.7" fill="#111"/>
<circle cx="356.57" cy="95.97" r="0.7" fill="#111"/>
<circle cx="355.17" cy="94.53" r="0.7" fill="#111"/>
<circle cx="355.12" cy="95.87" r="0.7" fill="#111"/>
<circle cx="355.11" cy="103.82" r="0.7" fill="#111"/>
<circle cx="355.58" cy="97.65" r="0.7" fill="#111"/>
<circle cx="355.21" cy="105.16" r="0.7" fill="#111"/>
<circle cx="357.26" cy="105.29" r="0.7" fill="#111"/>
<circle cx="353.88" cy="88.82" r="0.7" fill="#111"/>
<circle cx="356.95" cy="94.91" r="0.7" fill="#111"/>
<circle cx="356.27" cy="107.33" r="0.7" fill="#111"/>
<circle cx="355.11" cy="90.90" r="0.7" fill="#111"/>
<circle cx="356.88" cy="93.97" r="0.7" fill="#111"/>
<circle cx="353.85" cy="96.32" r="0.7" fill="#111"/>
<circle cx="355.16" cy="106.42" r="0.7" fill="#111"/>
<rect x="361.10" y="101.70" width="7.40" height="6.30" fill="#c9c9ce"/>
<line x1="364.80" y1="94.30" x2="364.80" y2="112.30" stroke="#111" stroke-width="1.0"/>
<line x1="362.50" y1="94.30" x2="367.10" y2="94.30" stroke="#000" stroke-width="1.15"/>
<line x1="362.50" y1="112.30" x2="367.10" y2="112.30" stroke="#000" stroke-width="1.15"/>
<line x1="361.10" y1="104.90" x2="368.50" y2="104.90" stroke="#000" stroke-width="1.45"/>
<circle cx="364.42" cy="108.83" r="0.7" fill="#111"/>
<circle cx="364.53" cy="110.75" r="0.7" fill="#111"/>
<circle cx="365.18" cy="108.65" r="0.7" fill="#111"/>
<circle cx="365.53" cy="106.43" r="0.7" fill="#111"/>
<circle cx="364.47" cy="106.50" r="0.7" fill="#111"/>
<circle cx="364.75" cy="103.00" r="0.7" fill="#111"/>
<circle cx="366.63" cy="102.57" r="0.7" fill="#111"/>
<circle cx="364.91" cy="106.78" r="0.7" fill="#111"/>
<circle cx="364.01" cy="110.44" r="0.7" fill="#111"/>
<circle cx="363.35" cy="103.69" r="0.7" fill="#111"/>
<circle cx="365.02" cy="102.91" r="0.7" fill="#111"/>
<circle cx="363.88" cy="106.12" r="0.7" fill="#111"/>
<circle cx="365.88" cy="104.96" r="0.7" fill="#111"/>
<circle cx="365.86" cy="101.98" r="0.7" fill="#111"/>
<circle cx="364.78" cy="105.69" r="0.7" fill="#111"/>
<circle cx="363.97" cy="97.11" r="0.7" fill="#111"/>
<circle cx="364.22" cy="94.67" r="0.7" fill="#111"/>
<circle cx="365.65" cy="107.94" r="0.7" fill="#111"/>
<circle cx="363.85" cy="99.01" r="0.7" fill="#111"/>
<circle cx="366.57" cy="101.97" r="0.7" fill="#111"/>
<rect x="372.60" y="84.40" width="7.80" height="12.50" fill="#5ca4e4"/>
<line x1="376.50" y1="81.60" x2="376.50" y2="106.40" stroke="#111" stroke-width="1.0"/>
<line x1="374.20" y1="81.60" x2="378.80" y2="81.60" stroke="#000" stroke-width="1.15"/>
<line x1="374.20" y1="106.40" x2="378.80" y2="106.40" stroke="#000" stroke-width="1.15"/>
<line x1="372.60" y1="90.10" x2="380.40" y2="90.10" stroke="#000" stroke-width="1.45"/>
<circle cx="375.88" cy="105.49" r="0.7" fill="#111"/>
<circle cx="376.71" cy="84.87" r="0.7" fill="#111"/>
<circle cx="377.16" cy="85.04" r="0.7" fill="#111"/>
<circle cx="374.30" cy="103.19" r="0.7" fill="#111"/>
<circle cx="377.19" cy="83.19" r="0.7" fill="#111"/>
<rect x="381.40" y="83.10" width="7.50" height="16.50" fill="#c9c9ce"/>
<line x1="385.15" y1="58.00" x2="385.15" y2="103.90" stroke="#111" stroke-width="1.0"/>
<line x1="382.85" y1="58.00" x2="387.45" y2="58.00" stroke="#000" stroke-width="1.15"/>
<line x1="382.85" y1="103.90" x2="387.45" y2="103.90" stroke="#000" stroke-width="1.15"/>
<line x1="381.40" y1="93.30" x2="388.90" y2="93.30" stroke="#000" stroke-width="1.45"/>
<circle cx="387.18" cy="76.24" r="0.7" fill="#111"/>
<circle cx="387.05" cy="92.41" r="0.7" fill="#111"/>
<circle cx="384.62" cy="101.90" r="0.7" fill="#111"/>
<circle cx="384.19" cy="85.74" r="0.7" fill="#111"/>
<circle cx="385.20" cy="103.52" r="0.7" fill="#111"/>
<circle cx="385.45" cy="88.91" r="0.7" fill="#111"/>
<circle cx="376.50" cy="54.10" r="0.75" fill="#111"/>
<circle cx="324.00" cy="57.50" r="0.75" fill="#111"/>
<circle cx="314.50" cy="60.50" r="0.75" fill="#111"/>
<circle cx="335.00" cy="66.00" r="0.75" fill="#111"/>
<circle cx="356.00" cy="66.00" r="0.75" fill="#111"/>
<circle cx="356.00" cy="71.00" r="0.75" fill="#111"/>
<circle cx="365.00" cy="80.00" r="0.75" fill="#111"/>
<circle cx="365.00" cy="83.00" r="0.75" fill="#111"/>
<circle cx="323.00" cy="66.00" r="0.75" fill="#111"/>
<circle cx="319.00" cy="66.00" r="0.75" fill="#111"/>
<circle cx="355.00" cy="74.00" r="0.75" fill="#111"/>
<text x="296.64" y="139.06" font-size="6.55" text-anchor="middle" font-weight="normal" fill="#000" transform="rotate(-45 296.64 139.06)" stroke="#000" stroke-width="0.13">nBM</text>
<text x="316.64" y="139.06" font-size="6.55" text-anchor="middle" font-weight="normal" fill="#000" transform="rotate(-45 316.64 139.06)" stroke="#000" stroke-width="0.13">AML</text>
<text x="333.40" y="142.30" font-size="5.9" text-anchor="middle" font-weight="normal" fill="#000" transform="rotate(-45 333.40 142.30)" stroke="#000" stroke-width="0.13">relapsed</text>
<text x="338.70" y="146.90" font-size="6.55" text-anchor="middle" font-weight="normal" fill="#000" transform="rotate(-45 338.70 146.90)" stroke="#000" stroke-width="0.13">AML</text>
<text x="356.51" y="139.19" font-size="6.55" text-anchor="middle" font-weight="normal" fill="#000" transform="rotate(-45 356.51 139.19)" stroke="#000" stroke-width="0.13">CML</text>
<text x="374.10" y="142.30" font-size="5.9" text-anchor="middle" font-weight="normal" fill="#000" transform="rotate(-45 374.10 142.30)" stroke="#000" stroke-width="0.13">relapsed</text>
<text x="379.40" y="146.90" font-size="6.55" text-anchor="middle" font-weight="normal" fill="#000" transform="rotate(-45 379.40 146.90)" stroke="#000" stroke-width="0.13">CML</text>
<path d="M286.8,151.3 V156.3 H392.5 V151.3" fill="none" stroke="#000" stroke-width="1.1"/>
<text x="340.00" y="166.30" font-size="8.2" text-anchor="middle" font-weight="normal" fill="#000" textLength="24.5" lengthAdjust="spacingAndGlyphs" stroke="#000" stroke-width="0.13">Diagnosis</text>
<text x="404.70" y="24.20" font-size="5.4" text-anchor="start" font-weight="normal" fill="#000" stroke="#000" stroke-width="0.06">Cell fraction</text>
<rect x="404.70" y="28.00" width="5.40" height="4.40" fill="#5ca4e4"/>
<line x1="407.40" y1="27.20" x2="407.40" y2="33.20" stroke="#222" stroke-width="0.6"/>
<line x1="404.70" y1="30.20" x2="410.10" y2="30.20" stroke="#111" stroke-width="0.9"/>
<text x="413.10" y="32.30" font-size="6.0" text-anchor="start" font-weight="normal" fill="#000" stroke="#000" stroke-width="0.06">CD34<tspan dy="-2.7" font-size="0.8em">+</tspan><tspan dy="2.7">/CD38</tspan><tspan dy="-2.7" font-size="0.8em">−</tspan></text>
<rect x="404.70" y="35.40" width="5.40" height="4.40" fill="#c9c9ce"/>
<line x1="407.40" y1="34.60" x2="407.40" y2="40.60" stroke="#222" stroke-width="0.6"/>
<line x1="404.70" y1="37.60" x2="410.10" y2="37.60" stroke="#111" stroke-width="0.9"/>
<text x="413.10" y="39.70" font-size="6.0" text-anchor="start" font-weight="normal" fill="#000" stroke="#000" stroke-width="0.06">CD34<tspan dy="-2.7" font-size="0.8em">+</tspan><tspan dy="2.7">/CD38</tspan><tspan dy="-2.7" font-size="0.8em">+</tspan></text>
<text x="92.50" y="189.00" font-size="8.3" text-anchor="start" font-weight="normal" fill="#000">CD117 staining index</text>
<path d="M78.1,196.2 V304.6 H187.1" fill="none" stroke="#111" stroke-width="1.45" stroke-linejoin="round"/>
<line x1="75.10" y1="199.94" x2="78.10" y2="199.94" stroke="#000" stroke-width="1.0"/>
<text x="72.10" y="202.24" font-size="6.5" text-anchor="end" font-weight="normal" fill="#000" stroke="#000" stroke-width="0.13">350</text>
<line x1="75.10" y1="218.00" x2="78.10" y2="218.00" stroke="#000" stroke-width="1.0"/>
<text x="72.10" y="220.30" font-size="6.5" text-anchor="end" font-weight="normal" fill="#000" stroke="#000" stroke-width="0.13">100</text>
<line x1="75.10" y1="251.20" x2="78.10" y2="251.20" stroke="#000" stroke-width="1.0"/>
<text x="72.10" y="253.50" font-size="6.5" text-anchor="end" font-weight="normal" fill="#000" stroke="#000" stroke-width="0.13">10</text>
<line x1="75.10" y1="284.40" x2="78.10" y2="284.40" stroke="#000" stroke-width="1.0"/>
<text x="72.10" y="286.70" font-size="6.5" text-anchor="end" font-weight="normal" fill="#000" stroke="#000" stroke-width="0.13">1</text>
<text x="55.20" y="250.00" font-size="7.3" text-anchor="middle" font-weight="normal" fill="#000" transform="rotate(-90 55.20 250.00)" textLength="36.5" lengthAdjust="spacingAndGlyphs" stroke="#000" stroke-width="0.2">Staining index</text>
<line x1="90.80" y1="304.60" x2="90.80" y2="307.20" stroke="#000" stroke-width="1.0"/>
<line x1="112.30" y1="304.60" x2="112.30" y2="307.20" stroke="#000" stroke-width="1.0"/>
<line x1="133.80" y1="304.60" x2="133.80" y2="307.20" stroke="#000" stroke-width="1.0"/>
<line x1="154.80" y1="304.60" x2="154.80" y2="307.20" stroke="#000" stroke-width="1.0"/>
<line x1="176.30" y1="304.60" x2="176.30" y2="307.20" stroke="#000" stroke-width="1.0"/>
<line x1="80.1" y1="268.00" x2="187.1" y2="268.00" stroke="#000" stroke-width="0.85" stroke-dasharray="1,1"/>
<rect x="82.30" y="227.90" width="7.80" height="15.20" fill="#5ca4e4"/>
<line x1="86.20" y1="214.30" x2="86.20" y2="248.00" stroke="#111" stroke-width="1.0"/>
<line x1="83.90" y1="214.30" x2="88.50" y2="214.30" stroke="#000" stroke-width="1.15"/>
<line x1="83.90" y1="248.00" x2="88.50" y2="248.00" stroke="#000" stroke-width="1.15"/>
<line x1="82.30" y1="236.30" x2="90.10" y2="236.30" stroke="#000" stroke-width="1.45"/>
<circle cx="86.38" cy="244.78" r="0.7" fill="#111"/>
<circle cx="85.91" cy="238.21" r="0.7" fill="#111"/>
<circle cx="86.78" cy="247.51" r="0.7" fill="#111"/>
<circle cx="86.41" cy="245.96" r="0.7" fill="#111"/>
<circle cx="84.64" cy="224.37" r="0.7" fill="#111"/>
<circle cx="85.19" cy="232.82" r="0.7" fill="#111"/>
<circle cx="85.54" cy="229.79" r="0.7" fill="#111"/>
<circle cx="86.28" cy="230.08" r="0.7" fill="#111"/>
<circle cx="86.05" cy="214.73" r="0.7" fill="#111"/>
<circle cx="85.49" cy="242.00" r="0.7" fill="#111"/>
<circle cx="87.74" cy="242.10" r="0.7" fill="#111"/>
<circle cx="84.49" cy="234.70" r="0.7" fill="#111"/>
<rect x="91.80" y="227.90" width="7.40" height="11.60" fill="#c9c9ce"/>
<line x1="95.50" y1="221.50" x2="95.50" y2="250.50" stroke="#111" stroke-width="1.0"/>
<line x1="93.20" y1="221.50" x2="97.80" y2="221.50" stroke="#000" stroke-width="1.15"/>
<line x1="93.20" y1="250.50" x2="97.80" y2="250.50" stroke="#000" stroke-width="1.15"/>
<line x1="91.80" y1="236.30" x2="99.20" y2="236.30" stroke="#000" stroke-width="1.45"/>
<circle cx="96.35" cy="238.67" r="0.7" fill="#111"/>
<circle cx="94.21" cy="231.84" r="0.7" fill="#111"/>
<circle cx="95.08" cy="235.35" r="0.7" fill="#111"/>
<circle cx="95.06" cy="228.56" r="0.7" fill="#111"/>
<circle cx="96.87" cy="237.55" r="0.7" fill="#111"/>
<circle cx="97.26" cy="232.68" r="0.7" fill="#111"/>
<circle cx="96.03" cy="231.04" r="0.7" fill="#111"/>
<circle cx="94.66" cy="233.60" r="0.7" fill="#111"/>
<circle cx="97.70" cy="238.38" r="0.7" fill="#111"/>
<circle cx="97.51" cy="238.28" r="0.7" fill="#111"/>
<rect x="103.50" y="224.10" width="7.80" height="21.80" fill="#5ca4e4"/>
<line x1="107.40" y1="198.30" x2="107.40" y2="276.10" stroke="#111" stroke-width="1.0"/>
<line x1="105.10" y1="198.30" x2="109.70" y2="198.30" stroke="#000" stroke-width="1.15"/>
<line x1="105.10" y1="276.10" x2="109.70" y2="276.10" stroke="#000" stroke-width="1.15"/>
<line x1="103.50" y1="234.20" x2="111.30" y2="234.20" stroke="#000" stroke-width="1.45"/>
<circle cx="106.51" cy="214.73" r="0.7" fill="#111"/>
<circle cx="107.53" cy="228.50" r="0.7" fill="#111"/>
<circle cx="109.60" cy="245.70" r="0.7" fill="#111"/>
<circle cx="107.37" cy="230.41" r="0.7" fill="#111"/>
<circle cx="107.26" cy="202.77" r="0.7" fill="#111"/>
<circle cx="106.49" cy="199.55" r="0.7" fill="#111"/>
<circle cx="107.44" cy="224.82" r="0.7" fill="#111"/>
<circle cx="107.45" cy="239.27" r="0.7" fill="#111"/>
<circle cx="108.06" cy="233.59" r="0.7" fill="#111"/>
<circle cx="106.99" cy="209.04" r="0.7" fill="#111"/>
<circle cx="107.23" cy="240.90" r="0.7" fill="#111"/>
<circle cx="106.69" cy="226.01" r="0.7" fill="#111"/>
<circle cx="107.29" cy="236.85" r="0.7" fill="#111"/>
<circle cx="108.14" cy="253.36" r="0.7" fill="#111"/>
<circle cx="107.52" cy="243.65" r="0.7" fill="#111"/>
<circle cx="107.79" cy="230.05" r="0.7" fill="#111"/>
<circle cx="107.77" cy="202.61" r="0.7" fill="#111"/>
<circle cx="106.48" cy="265.56" r="0.7" fill="#111"/>
<circle cx="108.46" cy="199.50" r="0.7" fill="#111"/>
<circle cx="106.73" cy="219.01" r="0.7" fill="#111"/>
<circle cx="106.96" cy="242.23" r="0.7" fill="#111"/>
<circle cx="107.89" cy="237.07" r="0.7" fill="#111"/>
<circle cx="106.15" cy="235.43" r="0.7" fill="#111"/>
<circle cx="107.84" cy="239.68" r="0.7" fill="#111"/>
<circle cx="106.65" cy="265.63" r="0.7" fill="#111"/>
<circle cx="108.96" cy="240.48" r="0.7" fill="#111"/>
<circle cx="108.63" cy="243.13" r="0.7" fill="#111"/>
<circle cx="107.03" cy="239.57" r="0.7" fill="#111"/>
<circle cx="108.17" cy="199.91" r="0.7" fill="#111"/>
<circle cx="107.24" cy="226.34" r="0.7" fill="#111"/>
<circle cx="107.89" cy="241.91" r="0.7" fill="#111"/>
<circle cx="107.49" cy="213.48" r="0.7" fill="#111"/>
<circle cx="106.21" cy="237.17" r="0.7" fill="#111"/>
<circle cx="106.78" cy="206.30" r="0.7" fill="#111"/>
<circle cx="107.94" cy="254.09" r="0.7" fill="#111"/>
<circle cx="107.56" cy="237.26" r="0.7" fill="#111"/>
<circle cx="106.90" cy="226.76" r="0.7" fill="#111"/>
<circle cx="107.73" cy="265.29" r="0.7" fill="#111"/>
<circle cx="107.39" cy="236.59" r="0.7" fill="#111"/>
<circle cx="106.74" cy="271.24" r="0.7" fill="#111"/>
<circle cx="108.12" cy="233.27" r="0.7" fill="#111"/>
<circle cx="106.26" cy="244.62" r="0.7" fill="#111"/>
<circle cx="107.46" cy="224.64" r="0.7" fill="#111"/>
<circle cx="108.39" cy="274.64" r="0.7" fill="#111"/>
<circle cx="108.25" cy="269.31" r="0.7" fill="#111"/>
<circle cx="105.44" cy="235.38" r="0.7" fill="#111"/>
<circle cx="107.41" cy="270.99" r="0.7" fill="#111"/>
<circle cx="108.55" cy="226.65" r="0.7" fill="#111"/>
<circle cx="106.21" cy="203.69" r="0.7" fill="#111"/>
<circle cx="107.93" cy="227.14" r="0.7" fill="#111"/>
<circle cx="108.84" cy="258.72" r="0.7" fill="#111"/>
<circle cx="106.80" cy="267.10" r="0.7" fill="#111"/>
<circle cx="106.86" cy="200.97" r="0.7" fill="#111"/>
<circle cx="106.73" cy="219.57" r="0.7" fill="#111"/>
<circle cx="106.80" cy="270.22" r="0.7" fill="#111"/>
<circle cx="106.82" cy="232.04" r="0.7" fill="#111"/>
<circle cx="106.86" cy="220.67" r="0.7" fill="#111"/>
<circle cx="108.89" cy="237.06" r="0.7" fill="#111"/>
<circle cx="107.26" cy="238.27" r="0.7" fill="#111"/>
<circle cx="108.62" cy="209.85" r="0.7" fill="#111"/>
<circle cx="107.10" cy="226.96" r="0.7" fill="#111"/>
<circle cx="108.48" cy="229.41" r="0.7" fill="#111"/>
<circle cx="108.21" cy="236.01" r="0.7" fill="#111"/>
<circle cx="106.12" cy="248.90" r="0.7" fill="#111"/>
<circle cx="106.06" cy="239.59" r="0.7" fill="#111"/>
<circle cx="107.74" cy="234.79" r="0.7" fill="#111"/>
<circle cx="107.63" cy="229.38" r="0.7" fill="#111"/>
<circle cx="108.70" cy="236.87" r="0.7" fill="#111"/>
<circle cx="107.92" cy="231.79" r="0.7" fill="#111"/>
<circle cx="106.78" cy="236.53" r="0.7" fill="#111"/>
<circle cx="106.87" cy="245.63" r="0.7" fill="#111"/>
<circle cx="109.22" cy="225.56" r="0.7" fill="#111"/>
<circle cx="108.41" cy="232.53" r="0.7" fill="#111"/>
<circle cx="107.81" cy="255.52" r="0.7" fill="#111"/>
<circle cx="109.14" cy="229.01" r="0.7" fill="#111"/>
<circle cx="106.94" cy="231.45" r="0.7" fill="#111"/>
<circle cx="105.80" cy="238.82" r="0.7" fill="#111"/>
<circle cx="105.97" cy="238.58" r="0.7" fill="#111"/>
<circle cx="107.48" cy="256.13" r="0.7" fill="#111"/>
<circle cx="106.15" cy="253.43" r="0.7" fill="#111"/>
<circle cx="107.47" cy="208.20" r="0.7" fill="#111"/>
<circle cx="107.33" cy="243.88" r="0.7" fill="#111"/>
<circle cx="106.37" cy="273.20" r="0.7" fill="#111"/>
<circle cx="106.90" cy="266.20" r="0.7" fill="#111"/>
<circle cx="106.24" cy="227.83" r="0.7" fill="#111"/>
<circle cx="107.76" cy="221.09" r="0.7" fill="#111"/>
<circle cx="106.67" cy="236.21" r="0.7" fill="#111"/>
<circle cx="108.04" cy="264.40" r="0.7" fill="#111"/>
<circle cx="107.78" cy="232.85" r="0.7" fill="#111"/>
<circle cx="108.26" cy="236.64" r="0.7" fill="#111"/>
<circle cx="108.25" cy="205.14" r="0.7" fill="#111"/>
<circle cx="106.93" cy="263.51" r="0.7" fill="#111"/>
<circle cx="105.24" cy="214.20" r="0.7" fill="#111"/>
<circle cx="108.48" cy="225.13" r="0.7" fill="#111"/>
<circle cx="109.06" cy="236.99" r="0.7" fill="#111"/>
<circle cx="106.49" cy="275.97" r="0.7" fill="#111"/>
<circle cx="106.97" cy="238.54" r="0.7" fill="#111"/>
<circle cx="106.40" cy="237.06" r="0.7" fill="#111"/>
<circle cx="106.80" cy="244.76" r="0.7" fill="#111"/>
<circle cx="106.20" cy="232.26" r="0.7" fill="#111"/>
<rect x="113.00" y="218.40" width="7.40" height="18.40" fill="#c9c9ce"/>
<line x1="116.70" y1="200.00" x2="116.70" y2="265.50" stroke="#111" stroke-width="1.0"/>
<line x1="114.40" y1="200.00" x2="119.00" y2="200.00" stroke="#000" stroke-width="1.15"/>
<line x1="114.40" y1="265.50" x2="119.00" y2="265.50" stroke="#000" stroke-width="1.15"/>
<line x1="113.00" y1="226.80" x2="120.40" y2="226.80" stroke="#000" stroke-width="1.45"/>
<circle cx="114.68" cy="236.77" r="0.7" fill="#111"/>
<circle cx="115.68" cy="231.88" r="0.7" fill="#111"/>
<circle cx="117.71" cy="240.91" r="0.7" fill="#111"/>
<circle cx="116.68" cy="253.44" r="0.7" fill="#111"/>
<circle cx="118.74" cy="224.25" r="0.7" fill="#111"/>
<circle cx="116.42" cy="207.24" r="0.7" fill="#111"/>
<circle cx="118.14" cy="245.19" r="0.7" fill="#111"/>
<circle cx="114.50" cy="227.57" r="0.7" fill="#111"/>
<circle cx="115.40" cy="223.73" r="0.7" fill="#111"/>
<circle cx="116.60" cy="221.76" r="0.7" fill="#111"/>
<circle cx="114.58" cy="239.50" r="0.7" fill="#111"/>
<circle cx="118.90" cy="202.77" r="0.7" fill="#111"/>
<circle cx="116.11" cy="251.59" r="0.7" fill="#111"/>
<circle cx="118.28" cy="224.00" r="0.7" fill="#111"/>
<circle cx="116.34" cy="238.40" r="0.7" fill="#111"/>
<circle cx="116.07" cy="236.24" r="0.7" fill="#111"/>
<circle cx="114.50" cy="230.30" r="0.7" fill="#111"/>
<circle cx="115.96" cy="226.93" r="0.7" fill="#111"/>
<circle cx="116.73" cy="221.28" r="0.7" fill="#111"/>
<circle cx="116.18" cy="221.54" r="0.7" fill="#111"/>
<circle cx="115.19" cy="253.92" r="0.7" fill="#111"/>
<circle cx="115.40" cy="218.63" r="0.7" fill="#111"/>
<circle cx="116.48" cy="221.14" r="0.7" fill="#111"/>
<circle cx="115.70" cy="223.31" r="0.7" fill="#111"/>
<circle cx="115.81" cy="235.03" r="0.7" fill="#111"/>
<circle cx="116.20" cy="225.26" r="0.7" fill="#111"/>
<circle cx="114.50" cy="234.79" r="0.7" fill="#111"/>
<circle cx="115.32" cy="240.62" r="0.7" fill="#111"/>
<circle cx="118.66" cy="219.21" r="0.7" fill="#111"/>
<circle cx="115.79" cy="234.94" r="0.7" fill="#111"/>
<circle cx="114.50" cy="219.89" r="0.7" fill="#111"/>
<circle cx="115.02" cy="262.21" r="0.7" fill="#111"/>
<circle cx="116.55" cy="225.57" r="0.7" fill="#111"/>
<circle cx="115.94" cy="234.51" r="0.7" fill="#111"/>
<circle cx="116.73" cy="251.93" r="0.7" fill="#111"/>
<circle cx="117.38" cy="221.83" r="0.7" fill="#111"/>
<circle cx="116.20" cy="219.04" r="0.7" fill="#111"/>
<circle cx="116.50" cy="225.26" r="0.7" fill="#111"/>
<circle cx="118.17" cy="204.29" r="0.7" fill="#111"/>
<circle cx="118.14" cy="222.91" r="0.7" fill="#111"/>
<circle cx="116.72" cy="223.62" r="0.7" fill="#111"/>
<circle cx="116.99" cy="222.36" r="0.7" fill="#111"/>
<circle cx="117.43" cy="231.39" r="0.7" fill="#111"/>
<circle cx="117.18" cy="208.37" r="0.7" fill="#111"/>
<circle cx="116.92" cy="254.78" r="0.7" fill="#111"/>
<circle cx="116.09" cy="231.69" r="0.7" fill="#111"/>
<circle cx="117.40" cy="236.03" r="0.7" fill="#111"/>
<circle cx="118.90" cy="214.89" r="0.7" fill="#111"/>
<circle cx="116.47" cy="208.58" r="0.7" fill="#111"/>
<circle cx="115.88" cy="238.49" r="0.7" fill="#111"/>
<circle cx="116.11" cy="222.93" r="0.7" fill="#111"/>
<circle cx="116.22" cy="208.04" r="0.7" fill="#111"/>
<circle cx="116.46" cy="235.54" r="0.7" fill="#111"/>
<circle cx="118.58" cy="230.50" r="0.7" fill="#111"/>
<circle cx="116.34" cy="220.36" r="0.7" fill="#111"/>
<circle cx="117.00" cy="234.06" r="0.7" fill="#111"/>
<circle cx="117.79" cy="230.59" r="0.7" fill="#111"/>
<circle cx="117.59" cy="227.61" r="0.7" fill="#111"/>
<circle cx="116.40" cy="219.61" r="0.7" fill="#111"/>
<circle cx="117.43" cy="231.59" r="0.7" fill="#111"/>
<circle cx="118.30" cy="225.82" r="0.7" fill="#111"/>
<circle cx="115.67" cy="256.41" r="0.7" fill="#111"/>
<circle cx="118.33" cy="223.49" r="0.7" fill="#111"/>
<circle cx="117.01" cy="223.02" r="0.7" fill="#111"/>
<circle cx="116.44" cy="243.17" r="0.7" fill="#111"/>
<circle cx="115.91" cy="223.06" r="0.7" fill="#111"/>
<circle cx="118.52" cy="211.90" r="0.7" fill="#111"/>
<circle cx="118.31" cy="246.67" r="0.7" fill="#111"/>
<circle cx="117.08" cy="219.14" r="0.7" fill="#111"/>
<circle cx="117.32" cy="225.41" r="0.7" fill="#111"/>
<circle cx="116.25" cy="224.12" r="0.7" fill="#111"/>
<circle cx="116.17" cy="237.35" r="0.7" fill="#111"/>
<circle cx="115.17" cy="216.68" r="0.7" fill="#111"/>
<circle cx="117.36" cy="218.42" r="0.7" fill="#111"/>
<circle cx="116.63" cy="250.86" r="0.7" fill="#111"/>
<circle cx="117.02" cy="239.78" r="0.7" fill="#111"/>
<circle cx="118.19" cy="222.90" r="0.7" fill="#111"/>
<circle cx="117.95" cy="235.23" r="0.7" fill="#111"/>
<circle cx="116.33" cy="205.64" r="0.7" fill="#111"/>
<circle cx="115.67" cy="254.28" r="0.7" fill="#111"/>
<circle cx="117.79" cy="220.05" r="0.7" fill="#111"/>
<circle cx="116.32" cy="245.30" r="0.7" fill="#111"/>
<circle cx="115.86" cy="254.36" r="0.7" fill="#111"/>
<circle cx="115.83" cy="231.25" r="0.7" fill="#111"/>
<circle cx="117.22" cy="233.53" r="0.7" fill="#111"/>
<circle cx="116.45" cy="202.86" r="0.7" fill="#111"/>
<circle cx="116.60" cy="252.78" r="0.7" fill="#111"/>
<circle cx="118.08" cy="241.76" r="0.7" fill="#111"/>
<circle cx="117.66" cy="216.35" r="0.7" fill="#111"/>
<circle cx="117.08" cy="213.19" r="0.7" fill="#111"/>
<circle cx="116.26" cy="220.91" r="0.7" fill="#111"/>
<circle cx="115.12" cy="222.85" r="0.7" fill="#111"/>
<circle cx="117.64" cy="229.15" r="0.7" fill="#111"/>
<circle cx="116.30" cy="234.68" r="0.7" fill="#111"/>
<circle cx="115.69" cy="228.76" r="0.7" fill="#111"/>
<circle cx="118.45" cy="249.81" r="0.7" fill="#111"/>
<circle cx="115.70" cy="230.66" r="0.7" fill="#111"/>
<circle cx="115.99" cy="254.44" r="0.7" fill="#111"/>
<circle cx="116.22" cy="223.72" r="0.7" fill="#111"/>
<circle cx="117.27" cy="223.57" r="0.7" fill="#111"/>
<rect x="124.60" y="222.60" width="8.10" height="28.60" fill="#5ca4e4"/>
<line x1="128.65" y1="211.00" x2="128.65" y2="284.40" stroke="#111" stroke-width="1.0"/>
<line x1="126.35" y1="211.00" x2="130.95" y2="211.00" stroke="#000" stroke-width="1.15"/>
<line x1="126.35" y1="284.40" x2="130.95" y2="284.40" stroke="#000" stroke-width="1.15"/>
<line x1="124.60" y1="236.30" x2="132.70" y2="236.30" stroke="#000" stroke-width="1.45"/>
<circle cx="128.14" cy="242.67" r="0.7" fill="#111"/>
<circle cx="128.82" cy="236.00" r="0.7" fill="#111"/>
<circle cx="128.80" cy="227.41" r="0.7" fill="#111"/>
<circle cx="128.72" cy="266.08" r="0.7" fill="#111"/>
<circle cx="130.06" cy="243.11" r="0.7" fill="#111"/>
<circle cx="128.47" cy="236.58" r="0.7" fill="#111"/>
<circle cx="128.51" cy="228.03" r="0.7" fill="#111"/>
<circle cx="128.61" cy="258.31" r="0.7" fill="#111"/>
<circle cx="128.17" cy="279.65" r="0.7" fill="#111"/>
<circle cx="127.96" cy="226.57" r="0.7" fill="#111"/>
<circle cx="129.14" cy="244.75" r="0.7" fill="#111"/>
<circle cx="127.87" cy="240.85" r="0.7" fill="#111"/>
<circle cx="129.59" cy="279.02" r="0.7" fill="#111"/>
<circle cx="130.33" cy="265.49" r="0.7" fill="#111"/>
<rect x="134.10" y="221.10" width="7.40" height="18.40" fill="#c9c9ce"/>
<line x1="137.80" y1="208.80" x2="137.80" y2="250.50" stroke="#111" stroke-width="1.0"/>
<line x1="135.50" y1="208.80" x2="140.10" y2="208.80" stroke="#000" stroke-width="1.15"/>
<line x1="135.50" y1="250.50" x2="140.10" y2="250.50" stroke="#000" stroke-width="1.15"/>
<line x1="134.10" y1="226.80" x2="141.50" y2="226.80" stroke="#000" stroke-width="1.45"/>
<circle cx="138.24" cy="224.50" r="0.7" fill="#111"/>
<circle cx="136.94" cy="231.24" r="0.7" fill="#111"/>
<circle cx="137.82" cy="236.40" r="0.7" fill="#111"/>
<circle cx="138.12" cy="235.00" r="0.7" fill="#111"/>
<circle cx="139.99" cy="238.22" r="0.7" fill="#111"/>
<circle cx="136.31" cy="230.29" r="0.7" fill="#111"/>
<circle cx="137.41" cy="226.61" r="0.7" fill="#111"/>
<circle cx="137.58" cy="215.62" r="0.7" fill="#111"/>
<circle cx="138.07" cy="238.94" r="0.7" fill="#111"/>
<circle cx="137.97" cy="224.61" r="0.7" fill="#111"/>
<circle cx="138.97" cy="208.92" r="0.7" fill="#111"/>
<circle cx="135.98" cy="226.54" r="0.7" fill="#111"/>
<circle cx="136.65" cy="233.27" r="0.7" fill="#111"/>
<circle cx="137.69" cy="229.17" r="0.7" fill="#111"/>
<rect x="146.30" y="232.50" width="7.60" height="24.40" fill="#5ca4e4"/>
<line x1="150.10" y1="208.20" x2="150.10" y2="289.20" stroke="#111" stroke-width="1.0"/>
<line x1="147.80" y1="208.20" x2="152.40" y2="208.20" stroke="#000" stroke-width="1.15"/>
<line x1="147.80" y1="289.20" x2="152.40" y2="289.20" stroke="#000" stroke-width="1.15"/>
<line x1="146.30" y1="244.80" x2="153.90" y2="244.80" stroke="#000" stroke-width="1.45"/>
<circle cx="150.64" cy="275.11" r="0.7" fill="#111"/>
<circle cx="149.73" cy="243.31" r="0.7" fill="#111"/>
<circle cx="150.26" cy="236.40" r="0.7" fill="#111"/>
<circle cx="150.54" cy="243.74" r="0.7" fill="#111"/>
<circle cx="152.08" cy="281.81" r="0.7" fill="#111"/>
<circle cx="147.90" cy="258.41" r="0.7" fill="#111"/>
<circle cx="149.43" cy="213.06" r="0.7" fill="#111"/>
<circle cx="148.75" cy="246.44" r="0.7" fill="#111"/>
<circle cx="149.54" cy="247.14" r="0.7" fill="#111"/>
<circle cx="149.36" cy="254.10" r="0.7" fill="#111"/>
<circle cx="149.58" cy="237.11" r="0.7" fill="#111"/>
<circle cx="149.02" cy="248.62" r="0.7" fill="#111"/>
<circle cx="148.93" cy="246.67" r="0.7" fill="#111"/>
<circle cx="150.78" cy="240.30" r="0.7" fill="#111"/>
<circle cx="151.17" cy="236.90" r="0.7" fill="#111"/>
<circle cx="149.22" cy="253.54" r="0.7" fill="#111"/>
<circle cx="149.28" cy="234.82" r="0.7" fill="#111"/>
<circle cx="149.94" cy="246.02" r="0.7" fill="#111"/>
<circle cx="151.10" cy="246.47" r="0.7" fill="#111"/>
<circle cx="150.96" cy="214.70" r="0.7" fill="#111"/>
<circle cx="148.06" cy="234.29" r="0.7" fill="#111"/>
<circle cx="150.91" cy="266.08" r="0.7" fill="#111"/>
<circle cx="151.86" cy="217.48" r="0.7" fill="#111"/>
<circle cx="150.00" cy="252.76" r="0.7" fill="#111"/>
<circle cx="151.47" cy="236.68" r="0.7" fill="#111"/>
<circle cx="149.75" cy="219.28" r="0.7" fill="#111"/>
<circle cx="150.19" cy="212.86" r="0.7" fill="#111"/>
<circle cx="151.16" cy="247.00" r="0.7" fill="#111"/>
<circle cx="149.79" cy="239.82" r="0.7" fill="#111"/>
<circle cx="148.98" cy="258.51" r="0.7" fill="#111"/>
<rect x="155.40" y="222.00" width="7.80" height="13.30" fill="#c9c9ce"/>
<line x1="159.30" y1="209.30" x2="159.30" y2="253.30" stroke="#111" stroke-width="1.0"/>
<line x1="157.00" y1="209.30" x2="161.60" y2="209.30" stroke="#000" stroke-width="1.15"/>
<line x1="157.00" y1="253.30" x2="161.60" y2="253.30" stroke="#000" stroke-width="1.15"/>
<line x1="155.40" y1="226.80" x2="163.20" y2="226.80" stroke="#000" stroke-width="1.45"/>
<circle cx="161.23" cy="234.07" r="0.7" fill="#111"/>
<circle cx="158.20" cy="231.91" r="0.7" fill="#111"/>
<circle cx="158.43" cy="232.16" r="0.7" fill="#111"/>
<circle cx="157.44" cy="226.96" r="0.7" fill="#111"/>
<circle cx="159.24" cy="251.01" r="0.7" fill="#111"/>
<circle cx="158.98" cy="213.68" r="0.7" fill="#111"/>
<circle cx="161.20" cy="244.63" r="0.7" fill="#111"/>
<circle cx="160.93" cy="220.50" r="0.7" fill="#111"/>
<circle cx="160.06" cy="227.94" r="0.7" fill="#111"/>
<circle cx="158.07" cy="222.28" r="0.7" fill="#111"/>
<circle cx="159.85" cy="232.65" r="0.7" fill="#111"/>
<circle cx="160.58" cy="231.14" r="0.7" fill="#111"/>
<circle cx="160.27" cy="223.92" r="0.7" fill="#111"/>
<circle cx="158.34" cy="244.86" r="0.7" fill="#111"/>
<circle cx="158.95" cy="209.91" r="0.7" fill="#111"/>
<circle cx="159.83" cy="247.71" r="0.7" fill="#111"/>
<circle cx="160.14" cy="210.86" r="0.7" fill="#111"/>
<circle cx="161.15" cy="226.57" r="0.7" fill="#111"/>
<circle cx="159.92" cy="224.11" r="0.7" fill="#111"/>
<circle cx="158.39" cy="236.18" r="0.7" fill="#111"/>
<circle cx="159.79" cy="226.38" r="0.7" fill="#111"/>
<circle cx="161.50" cy="211.22" r="0.7" fill="#111"/>
<rect x="167.40" y="246.30" width="7.70" height="24.50" fill="#5ca4e4"/>
<line x1="171.25" y1="219.40" x2="171.25" y2="276.10" stroke="#111" stroke-width="1.0"/>
<line x1="168.95" y1="219.40" x2="173.55" y2="219.40" stroke="#000" stroke-width="1.15"/>
<line x1="168.95" y1="276.10" x2="173.55" y2="276.10" stroke="#000" stroke-width="1.15"/>
<line x1="167.40" y1="257.50" x2="175.10" y2="257.50" stroke="#000" stroke-width="1.45"/>
<circle cx="169.84" cy="255.14" r="0.7" fill="#111"/>
<circle cx="171.54" cy="254.97" r="0.7" fill="#111"/>
<circle cx="171.14" cy="260.49" r="0.7" fill="#111"/>
<circle cx="171.44" cy="270.47" r="0.7" fill="#111"/>
<circle cx="170.83" cy="249.87" r="0.7" fill="#111"/>
<circle cx="170.48" cy="258.55" r="0.7" fill="#111"/>
<circle cx="169.05" cy="260.24" r="0.7" fill="#111"/>
<rect x="176.10" y="226.20" width="7.80" height="36.00" fill="#c9c9ce"/>
<line x1="180.00" y1="214.80" x2="180.00" y2="289.20" stroke="#111" stroke-width="1.0"/>
<line x1="177.70" y1="214.80" x2="182.30" y2="214.80" stroke="#000" stroke-width="1.15"/>
<line x1="177.70" y1="289.20" x2="182.30" y2="289.20" stroke="#000" stroke-width="1.15"/>
<line x1="176.10" y1="242.70" x2="183.90" y2="242.70" stroke="#000" stroke-width="1.45"/>
<circle cx="179.51" cy="217.34" r="0.7" fill="#111"/>
<circle cx="181.32" cy="272.16" r="0.7" fill="#111"/>
<circle cx="178.64" cy="262.02" r="0.7" fill="#111"/>
<circle cx="180.63" cy="236.34" r="0.7" fill="#111"/>
<circle cx="177.86" cy="265.49" r="0.7" fill="#111"/>
<circle cx="179.91" cy="253.68" r="0.7" fill="#111"/>
<circle cx="178.69" cy="240.87" r="0.7" fill="#111"/>
<circle cx="180.93" cy="245.00" r="0.7" fill="#111"/>
<polygon points="117.00,192.74 117.52,193.79 118.68,193.95 117.84,194.77 118.04,195.93 117.00,195.38 115.96,195.93 116.16,194.77 115.32,193.95 116.48,193.79" fill="#55658a" stroke="#55658a" stroke-width="0.3"/>
<polygon points="150.00,200.74 150.52,201.79 151.68,201.95 150.84,202.77 151.04,203.93 150.00,203.38 148.96,203.93 149.16,202.77 148.32,201.95 149.48,201.79" fill="#c8183c" stroke="#c8183c" stroke-width="0.3"/>
<polygon points="171.30,211.74 171.82,212.79 172.98,212.95 172.14,213.77 172.34,214.93 171.30,214.38 170.26,214.93 170.46,213.77 169.62,212.95 170.78,212.79" fill="#c8183c" stroke="#c8183c" stroke-width="0.3"/>
<circle cx="105.00" cy="281.00" r="0.75" fill="#111"/>
<circle cx="107.00" cy="288.00" r="0.75" fill="#111"/>
<circle cx="116.00" cy="277.00" r="0.75" fill="#111"/>
<circle cx="118.00" cy="284.00" r="0.75" fill="#111"/>
<circle cx="113.00" cy="276.00" r="0.75" fill="#111"/>
<circle cx="138.00" cy="272.00" r="0.75" fill="#111"/>
<circle cx="146.00" cy="280.00" r="0.75" fill="#111"/>
<circle cx="160.00" cy="280.00" r="0.75" fill="#111"/>
<text x="88.14" y="317.66" font-size="6.55" text-anchor="middle" font-weight="normal" fill="#000" transform="rotate(-45 88.14 317.66)" stroke="#000" stroke-width="0.13">nBM</text>
<text x="109.64" y="317.66" font-size="6.55" text-anchor="middle" font-weight="normal" fill="#000" transform="rotate(-45 109.64 317.66)" stroke="#000" stroke-width="0.13">AML</text>
<text x="127.90" y="320.90" font-size="5.9" text-anchor="middle" font-weight="normal" fill="#000" transform="rotate(-45 127.90 320.90)" stroke="#000" stroke-width="0.13">relapsed</text>
<text x="133.20" y="325.50" font-size="6.55" text-anchor="middle" font-weight="normal" fill="#000" transform="rotate(-45 133.20 325.50)" stroke="#000" stroke-width="0.13">AML</text>
<text x="152.01" y="317.79" font-size="6.55" text-anchor="middle" font-weight="normal" fill="#000" transform="rotate(-45 152.01 317.79)" stroke="#000" stroke-width="0.13">CML</text>
<text x="170.40" y="320.90" font-size="5.9" text-anchor="middle" font-weight="normal" fill="#000" transform="rotate(-45 170.40 320.90)" stroke="#000" stroke-width="0.13">relapsed</text>
<text x="175.70" y="325.50" font-size="6.55" text-anchor="middle" font-weight="normal" fill="#000" transform="rotate(-45 175.70 325.50)" stroke="#000" stroke-width="0.13">CML</text>
<path d="M78.5,329.2 V335.4 H187 V329.2" fill="none" stroke="#000" stroke-width="1.1"/>
<text x="132.30" y="345.00" font-size="8.2" text-anchor="middle" font-weight="normal" fill="#000" textLength="24.5" lengthAdjust="spacingAndGlyphs" stroke="#000" stroke-width="0.13">Diagnosis</text>
<text x="196.20" y="198.80" font-size="5.4" text-anchor="start" font-weight="normal" fill="#000" stroke="#000" stroke-width="0.06">Cell fraction</text>
<rect x="196.20" y="202.60" width="5.40" height="4.40" fill="#5ca4e4"/>
<line x1="198.90" y1="201.80" x2="198.90" y2="207.80" stroke="#222" stroke-width="0.6"/>
<line x1="196.20" y1="204.80" x2="201.60" y2="204.80" stroke="#111" stroke-width="0.9"/>
<text x="204.60" y="206.90" font-size="6.0" text-anchor="start" font-weight="normal" fill="#000" stroke="#000" stroke-width="0.06">CD34<tspan dy="-2.7" font-size="0.8em">+</tspan><tspan dy="2.7">/CD38</tspan><tspan dy="-2.7" font-size="0.8em">−</tspan></text>
<rect x="196.20" y="210.00" width="5.40" height="4.40" fill="#c9c9ce"/>
<line x1="198.90" y1="209.20" x2="198.90" y2="215.20" stroke="#222" stroke-width="0.6"/>
<line x1="196.20" y1="212.20" x2="201.60" y2="212.20" stroke="#111" stroke-width="0.9"/>
<text x="204.60" y="214.30" font-size="6.0" text-anchor="start" font-weight="normal" fill="#000" stroke="#000" stroke-width="0.06">CD34<tspan dy="-2.7" font-size="0.8em">+</tspan><tspan dy="2.7">/CD38</tspan><tspan dy="-2.7" font-size="0.8em">+</tspan></text>
<text x="301.30" y="189.20" font-size="8.3" text-anchor="start" font-weight="normal" fill="#000">CD135 staining index</text>
<path d="M287,194 V305 H395" fill="none" stroke="#111" stroke-width="1.45" stroke-linejoin="round"/>
<line x1="284.00" y1="198.40" x2="287.00" y2="198.40" stroke="#000" stroke-width="1.0"/>
<text x="281.00" y="200.70" font-size="6.5" text-anchor="end" font-weight="normal" fill="#000" stroke="#000" stroke-width="0.13">350</text>
<line x1="284.00" y1="215.10" x2="287.00" y2="215.10" stroke="#000" stroke-width="1.0"/>
<text x="281.00" y="217.40" font-size="6.5" text-anchor="end" font-weight="normal" fill="#000" stroke="#000" stroke-width="0.13">100</text>
<line x1="284.00" y1="249.50" x2="287.00" y2="249.50" stroke="#000" stroke-width="1.0"/>
<text x="281.00" y="251.80" font-size="6.5" text-anchor="end" font-weight="normal" fill="#000" stroke="#000" stroke-width="0.13">10</text>
<line x1="284.00" y1="283.90" x2="287.00" y2="283.90" stroke="#000" stroke-width="1.0"/>
<text x="281.00" y="286.20" font-size="6.5" text-anchor="end" font-weight="normal" fill="#000" stroke="#000" stroke-width="0.13">1</text>
<text x="264.10" y="250.00" font-size="7.3" text-anchor="middle" font-weight="normal" fill="#000" transform="rotate(-90 264.10 250.00)" textLength="36.5" lengthAdjust="spacingAndGlyphs" stroke="#000" stroke-width="0.2">Staining index</text>
<line x1="301.80" y1="305.00" x2="301.80" y2="307.60" stroke="#000" stroke-width="1.0"/>
<line x1="326.80" y1="305.00" x2="326.80" y2="307.60" stroke="#000" stroke-width="1.0"/>
<line x1="351.30" y1="305.00" x2="351.30" y2="307.60" stroke="#000" stroke-width="1.0"/>
<line x1="376.30" y1="305.00" x2="376.30" y2="307.60" stroke="#000" stroke-width="1.0"/>
<line x1="289" y1="267.50" x2="395" y2="267.50" stroke="#000" stroke-width="0.85" stroke-dasharray="1,1"/>
<rect x="292.00" y="266.30" width="9.30" height="17.50" fill="#5ca4e4"/>
<line x1="296.65" y1="243.80" x2="296.65" y2="287.00" stroke="#111" stroke-width="1.0"/>
<line x1="294.35" y1="243.80" x2="298.95" y2="243.80" stroke="#000" stroke-width="1.15"/>
<line x1="294.35" y1="287.00" x2="298.95" y2="287.00" stroke="#000" stroke-width="1.15"/>
<line x1="292.00" y1="275.50" x2="301.30" y2="275.50" stroke="#000" stroke-width="1.45"/>
<circle cx="297.02" cy="283.60" r="0.7" fill="#111"/>
<circle cx="296.68" cy="272.73" r="0.7" fill="#111"/>
<circle cx="297.45" cy="268.67" r="0.7" fill="#111"/>
<circle cx="295.51" cy="281.54" r="0.7" fill="#111"/>
<circle cx="297.00" cy="256.86" r="0.7" fill="#111"/>
<circle cx="296.35" cy="267.46" r="0.7" fill="#111"/>
<circle cx="297.55" cy="267.61" r="0.7" fill="#111"/>
<circle cx="297.93" cy="258.51" r="0.7" fill="#111"/>
<rect x="302.50" y="261.80" width="9.30" height="20.70" fill="#c9c9ce"/>
<line x1="307.15" y1="232.50" x2="307.15" y2="288.80" stroke="#111" stroke-width="1.0"/>
<line x1="304.85" y1="232.50" x2="309.45" y2="232.50" stroke="#000" stroke-width="1.15"/>
<line x1="304.85" y1="288.80" x2="309.45" y2="288.80" stroke="#000" stroke-width="1.15"/>
<line x1="302.50" y1="273.00" x2="311.80" y2="273.00" stroke="#000" stroke-width="1.45"/>
<circle cx="306.46" cy="265.50" r="0.7" fill="#111"/>
<circle cx="305.97" cy="288.09" r="0.7" fill="#111"/>
<circle cx="308.64" cy="279.77" r="0.7" fill="#111"/>
<circle cx="307.86" cy="271.83" r="0.7" fill="#111"/>
<circle cx="306.63" cy="262.28" r="0.7" fill="#111"/>
<circle cx="306.93" cy="267.35" r="0.7" fill="#111"/>
<circle cx="306.41" cy="265.95" r="0.7" fill="#111"/>
<circle cx="306.72" cy="281.15" r="0.7" fill="#111"/>
<rect x="317.00" y="242.00" width="8.80" height="19.80" fill="#5ca4e4"/>
<line x1="321.40" y1="220.00" x2="321.40" y2="278.00" stroke="#111" stroke-width="1.0"/>
<line x1="319.10" y1="220.00" x2="323.70" y2="220.00" stroke="#000" stroke-width="1.15"/>
<line x1="319.10" y1="278.00" x2="323.70" y2="278.00" stroke="#000" stroke-width="1.15"/>
<line x1="317.00" y1="253.30" x2="325.80" y2="253.30" stroke="#000" stroke-width="1.45"/>
<circle cx="320.82" cy="275.86" r="0.7" fill="#111"/>
<circle cx="322.22" cy="224.60" r="0.7" fill="#111"/>
<circle cx="319.31" cy="244.71" r="0.7" fill="#111"/>
<circle cx="322.51" cy="252.63" r="0.7" fill="#111"/>
<circle cx="320.29" cy="232.31" r="0.7" fill="#111"/>
<circle cx="320.73" cy="256.84" r="0.7" fill="#111"/>
<circle cx="320.50" cy="239.59" r="0.7" fill="#111"/>
<circle cx="322.88" cy="250.20" r="0.7" fill="#111"/>
<circle cx="321.83" cy="251.79" r="0.7" fill="#111"/>
<circle cx="321.22" cy="234.91" r="0.7" fill="#111"/>
<circle cx="321.44" cy="252.72" r="0.7" fill="#111"/>
<circle cx="320.07" cy="223.25" r="0.7" fill="#111"/>
<circle cx="320.24" cy="243.85" r="0.7" fill="#111"/>
<circle cx="321.45" cy="244.82" r="0.7" fill="#111"/>
<circle cx="320.93" cy="244.55" r="0.7" fill="#111"/>
<circle cx="319.89" cy="254.13" r="0.7" fill="#111"/>
<circle cx="320.85" cy="239.19" r="0.7" fill="#111"/>
<circle cx="320.95" cy="234.95" r="0.7" fill="#111"/>
<circle cx="319.59" cy="237.94" r="0.7" fill="#111"/>
<circle cx="320.55" cy="276.69" r="0.7" fill="#111"/>
<circle cx="321.66" cy="274.57" r="0.7" fill="#111"/>
<circle cx="319.81" cy="242.18" r="0.7" fill="#111"/>
<circle cx="321.64" cy="241.02" r="0.7" fill="#111"/>
<circle cx="321.42" cy="233.23" r="0.7" fill="#111"/>
<circle cx="320.92" cy="244.66" r="0.7" fill="#111"/>
<circle cx="320.74" cy="251.94" r="0.7" fill="#111"/>
<rect x="327.50" y="238.80" width="9.30" height="20.70" fill="#c9c9ce"/>
<line x1="332.15" y1="212.00" x2="332.15" y2="277.00" stroke="#111" stroke-width="1.0"/>
<line x1="329.85" y1="212.00" x2="334.45" y2="212.00" stroke="#000" stroke-width="1.15"/>
<line x1="329.85" y1="277.00" x2="334.45" y2="277.00" stroke="#000" stroke-width="1.15"/>
<line x1="327.50" y1="253.00" x2="336.80" y2="253.00" stroke="#000" stroke-width="1.45"/>
<circle cx="331.91" cy="235.76" r="0.7" fill="#111"/>
<circle cx="331.96" cy="242.47" r="0.7" fill="#111"/>
<circle cx="329.95" cy="239.40" r="0.7" fill="#111"/>
<circle cx="333.44" cy="227.77" r="0.7" fill="#111"/>
<circle cx="332.01" cy="234.37" r="0.7" fill="#111"/>
<circle cx="331.09" cy="241.91" r="0.7" fill="#111"/>
<circle cx="334.28" cy="253.98" r="0.7" fill="#111"/>
<circle cx="330.36" cy="252.16" r="0.7" fill="#111"/>
<circle cx="333.42" cy="250.48" r="0.7" fill="#111"/>
<circle cx="333.60" cy="257.83" r="0.7" fill="#111"/>
<circle cx="331.63" cy="244.01" r="0.7" fill="#111"/>
<circle cx="332.24" cy="247.78" r="0.7" fill="#111"/>
<circle cx="332.89" cy="253.78" r="0.7" fill="#111"/>
<circle cx="332.45" cy="259.38" r="0.7" fill="#111"/>
<circle cx="333.55" cy="256.67" r="0.7" fill="#111"/>
<circle cx="332.17" cy="229.37" r="0.7" fill="#111"/>
<circle cx="330.10" cy="245.66" r="0.7" fill="#111"/>
<circle cx="333.03" cy="257.24" r="0.7" fill="#111"/>
<circle cx="333.57" cy="241.45" r="0.7" fill="#111"/>
<circle cx="332.72" cy="269.39" r="0.7" fill="#111"/>
<circle cx="334.35" cy="254.94" r="0.7" fill="#111"/>
<circle cx="334.35" cy="223.85" r="0.7" fill="#111"/>
<circle cx="329.95" cy="239.31" r="0.7" fill="#111"/>
<circle cx="334.35" cy="258.97" r="0.7" fill="#111"/>
<circle cx="332.29" cy="254.04" r="0.7" fill="#111"/>
<circle cx="331.95" cy="242.29" r="0.7" fill="#111"/>
<circle cx="331.71" cy="257.81" r="0.7" fill="#111"/>
<circle cx="332.43" cy="269.33" r="0.7" fill="#111"/>
<circle cx="332.11" cy="255.20" r="0.7" fill="#111"/>
<circle cx="331.35" cy="214.46" r="0.7" fill="#111"/>
<rect x="342.00" y="238.80" width="8.80" height="30.00" fill="#5ca4e4"/>
<line x1="346.40" y1="230.50" x2="346.40" y2="270.00" stroke="#111" stroke-width="1.0"/>
<line x1="344.10" y1="230.50" x2="348.70" y2="230.50" stroke="#000" stroke-width="1.15"/>
<line x1="344.10" y1="270.00" x2="348.70" y2="270.00" stroke="#000" stroke-width="1.15"/>
<line x1="342.00" y1="253.30" x2="350.80" y2="253.30" stroke="#000" stroke-width="1.45"/>
<circle cx="346.38" cy="241.95" r="0.7" fill="#111"/>
<circle cx="345.48" cy="268.52" r="0.7" fill="#111"/>
<circle cx="348.46" cy="253.42" r="0.7" fill="#111"/>
<circle cx="347.12" cy="251.65" r="0.7" fill="#111"/>
<circle cx="347.91" cy="260.95" r="0.7" fill="#111"/>
<circle cx="345.62" cy="234.94" r="0.7" fill="#111"/>
<circle cx="347.42" cy="244.30" r="0.7" fill="#111"/>
<circle cx="347.72" cy="267.83" r="0.7" fill="#111"/>
<rect x="352.50" y="242.50" width="9.30" height="23.00" fill="#c9c9ce"/>
<line x1="357.15" y1="230.50" x2="357.15" y2="275.00" stroke="#111" stroke-width="1.0"/>
<line x1="354.85" y1="230.50" x2="359.45" y2="230.50" stroke="#000" stroke-width="1.15"/>
<line x1="354.85" y1="275.00" x2="359.45" y2="275.00" stroke="#000" stroke-width="1.15"/>
<line x1="352.50" y1="261.30" x2="361.80" y2="261.30" stroke="#000" stroke-width="1.45"/>
<circle cx="355.96" cy="246.58" r="0.7" fill="#111"/>
<circle cx="358.41" cy="244.09" r="0.7" fill="#111"/>
<circle cx="357.50" cy="255.30" r="0.7" fill="#111"/>
<circle cx="356.54" cy="242.74" r="0.7" fill="#111"/>
<circle cx="355.67" cy="254.92" r="0.7" fill="#111"/>
<circle cx="358.38" cy="274.22" r="0.7" fill="#111"/>
<circle cx="355.91" cy="249.82" r="0.7" fill="#111"/>
<circle cx="356.33" cy="264.88" r="0.7" fill="#111"/>
<circle cx="357.86" cy="245.79" r="0.7" fill="#111"/>
<circle cx="355.19" cy="230.73" r="0.7" fill="#111"/>
<rect x="366.30" y="264.50" width="9.50" height="10.50" fill="#5ca4e4"/>
<line x1="371.05" y1="254.50" x2="371.05" y2="278.00" stroke="#111" stroke-width="1.0"/>
<line x1="368.75" y1="254.50" x2="373.35" y2="254.50" stroke="#000" stroke-width="1.15"/>
<line x1="368.75" y1="278.00" x2="373.35" y2="278.00" stroke="#000" stroke-width="1.15"/>
<line x1="366.30" y1="269.00" x2="375.80" y2="269.00" stroke="#000" stroke-width="1.45"/>
<circle cx="369.48" cy="270.91" r="0.7" fill="#111"/>
<circle cx="371.22" cy="267.03" r="0.7" fill="#111"/>
<circle cx="371.57" cy="272.92" r="0.7" fill="#111"/>
<circle cx="370.72" cy="255.66" r="0.7" fill="#111"/>
<circle cx="370.14" cy="267.40" r="0.7" fill="#111"/>
<circle cx="372.87" cy="274.70" r="0.7" fill="#111"/>
<circle cx="371.06" cy="266.49" r="0.7" fill="#111"/>
<circle cx="371.20" cy="277.88" r="0.7" fill="#111"/>
<circle cx="372.59" cy="263.40" r="0.7" fill="#111"/>
<circle cx="369.56" cy="263.75" r="0.7" fill="#111"/>
<rect x="377.50" y="272.50" width="8.80" height="5.00" fill="#c9c9ce"/>
<line x1="381.90" y1="266.30" x2="381.90" y2="282.00" stroke="#111" stroke-width="1.0"/>
<line x1="379.60" y1="266.30" x2="384.20" y2="266.30" stroke="#000" stroke-width="1.15"/>
<line x1="379.60" y1="282.00" x2="384.20" y2="282.00" stroke="#000" stroke-width="1.15"/>
<line x1="377.50" y1="275.50" x2="386.30" y2="275.50" stroke="#000" stroke-width="1.45"/>
<circle cx="381.65" cy="271.36" r="0.7" fill="#111"/>
<circle cx="382.15" cy="274.83" r="0.7" fill="#111"/>
<circle cx="383.39" cy="277.04" r="0.7" fill="#111"/>
<circle cx="380.66" cy="276.11" r="0.7" fill="#111"/>
<circle cx="381.73" cy="273.21" r="0.7" fill="#111"/>
<circle cx="380.57" cy="274.60" r="0.7" fill="#111"/>
<circle cx="381.70" cy="270.05" r="0.7" fill="#111"/>
<circle cx="380.38" cy="276.61" r="0.7" fill="#111"/>
<polygon points="321.40,212.54 321.92,213.59 323.08,213.75 322.24,214.57 322.44,215.73 321.40,215.18 320.36,215.73 320.56,214.57 319.72,213.75 320.88,213.59" fill="#c8183c" stroke="#c8183c" stroke-width="0.3"/>
<polygon points="332.20,204.54 332.72,205.59 333.88,205.75 333.04,206.57 333.24,207.73 332.20,207.18 331.16,207.73 331.36,206.57 330.52,205.75 331.68,205.59" fill="#55658a" stroke="#55658a" stroke-width="0.3"/>
<circle cx="371.00" cy="235.00" r="0.75" fill="#111"/>
<circle cx="371.00" cy="243.00" r="0.75" fill="#111"/>
<circle cx="381.00" cy="262.00" r="0.75" fill="#111"/>
<text x="299.14" y="318.06" font-size="6.55" text-anchor="middle" font-weight="normal" fill="#000" transform="rotate(-45 299.14 318.06)" stroke="#000" stroke-width="0.13">nBM</text>
<text x="324.14" y="318.06" font-size="6.55" text-anchor="middle" font-weight="normal" fill="#000" transform="rotate(-45 324.14 318.06)" stroke="#000" stroke-width="0.13">AML</text>
<text x="345.40" y="321.30" font-size="5.9" text-anchor="middle" font-weight="normal" fill="#000" transform="rotate(-45 345.40 321.30)" stroke="#000" stroke-width="0.13">relapsed</text>
<text x="350.70" y="325.90" font-size="6.55" text-anchor="middle" font-weight="normal" fill="#000" transform="rotate(-45 350.70 325.90)" stroke="#000" stroke-width="0.13">AML</text>
<text x="373.51" y="318.19" font-size="6.55" text-anchor="middle" font-weight="normal" fill="#000" transform="rotate(-45 373.51 318.19)" stroke="#000" stroke-width="0.13">CML</text>
<path d="M286.8,328.8 V335.5 H395 V328.8" fill="none" stroke="#000" stroke-width="1.1"/>
<text x="341.30" y="345.00" font-size="8.2" text-anchor="middle" font-weight="normal" fill="#000" textLength="24.5" lengthAdjust="spacingAndGlyphs" stroke="#000" stroke-width="0.13">Diagnosis</text>
<text x="405.00" y="198.00" font-size="5.4" text-anchor="start" font-weight="normal" fill="#000" stroke="#000" stroke-width="0.06">Cell fraction</text>
<rect x="405.00" y="201.80" width="5.40" height="4.40" fill="#5ca4e4"/>
<line x1="407.70" y1="201.00" x2="407.70" y2="207.00" stroke="#222" stroke-width="0.6"/>
<line x1="405.00" y1="204.00" x2="410.40" y2="204.00" stroke="#111" stroke-width="0.9"/>
<text x="413.40" y="206.10" font-size="6.0" text-anchor="start" font-weight="normal" fill="#000" stroke="#000" stroke-width="0.06">CD34<tspan dy="-2.7" font-size="0.8em">+</tspan><tspan dy="2.7">/CD38</tspan><tspan dy="-2.7" font-size="0.8em">−</tspan></text>
<rect x="405.00" y="209.20" width="5.40" height="4.40" fill="#c9c9ce"/>
<line x1="407.70" y1="208.40" x2="407.70" y2="214.40" stroke="#222" stroke-width="0.6"/>
<line x1="405.00" y1="211.40" x2="410.40" y2="211.40" stroke="#111" stroke-width="0.9"/>
<text x="413.40" y="213.50" font-size="6.0" text-anchor="start" font-weight="normal" fill="#000" stroke="#000" stroke-width="0.06">CD34<tspan dy="-2.7" font-size="0.8em">+</tspan><tspan dy="2.7">/CD38</tspan><tspan dy="-2.7" font-size="0.8em">+</tspan></text>
<rect x="42.50" y="445.96" width="3.40" height="3.34" fill="#2c4a82"/>
<line x1="44.20" y1="445.96" x2="44.20" y2="438.84" stroke="#2a2a2a" stroke-width="1.0"/>
<line x1="43.10" y1="438.84" x2="45.30" y2="438.84" stroke="#2a2a2a" stroke-width="1.0"/>
<rect x="45.90" y="438.17" width="3.70" height="11.13" fill="#b2c08a"/>
<line x1="47.75" y1="438.17" x2="47.75" y2="426.82" stroke="#2a2a2a" stroke-width="1.0"/>
<line x1="46.65" y1="426.82" x2="48.85" y2="426.82" stroke="#2a2a2a" stroke-width="1.0"/>
<rect x="53.80" y="441.51" width="3.40" height="7.79" fill="#2c4a82"/>
<line x1="55.50" y1="441.51" x2="55.50" y2="436.83" stroke="#2a2a2a" stroke-width="1.0"/>
<line x1="54.40" y1="436.83" x2="56.60" y2="436.83" stroke="#2a2a2a" stroke-width="1.0"/>
<rect x="57.20" y="434.83" width="3.70" height="14.47" fill="#b2c08a"/>
<line x1="59.05" y1="434.83" x2="59.05" y2="427.49" stroke="#2a2a2a" stroke-width="1.0"/>
<line x1="57.95" y1="427.49" x2="60.15" y2="427.49" stroke="#2a2a2a" stroke-width="1.0"/>
<rect x="65.00" y="439.28" width="3.40" height="10.02" fill="#2c4a82"/>
<line x1="66.70" y1="439.28" x2="66.70" y2="434.50" stroke="#2a2a2a" stroke-width="1.0"/>
<line x1="65.60" y1="434.50" x2="67.80" y2="434.50" stroke="#2a2a2a" stroke-width="1.0"/>
<rect x="68.40" y="429.27" width="3.70" height="20.03" fill="#b2c08a"/>
<line x1="70.25" y1="429.27" x2="70.25" y2="417.47" stroke="#2a2a2a" stroke-width="1.0"/>
<line x1="69.15" y1="417.47" x2="71.35" y2="417.47" stroke="#2a2a2a" stroke-width="1.0"/>
<rect x="76.30" y="439.28" width="3.40" height="10.02" fill="#2c4a82"/>
<line x1="78.00" y1="439.28" x2="78.00" y2="433.83" stroke="#2a2a2a" stroke-width="1.0"/>
<line x1="76.90" y1="433.83" x2="79.10" y2="433.83" stroke="#2a2a2a" stroke-width="1.0"/>
<rect x="79.70" y="429.27" width="3.70" height="20.03" fill="#b2c08a"/>
<line x1="81.55" y1="429.27" x2="81.55" y2="420.81" stroke="#2a2a2a" stroke-width="1.0"/>
<line x1="80.45" y1="420.81" x2="82.65" y2="420.81" stroke="#2a2a2a" stroke-width="1.0"/>
<rect x="87.50" y="432.61" width="3.40" height="16.70" fill="#2c4a82"/>
<line x1="89.20" y1="432.61" x2="89.20" y2="430.49" stroke="#2a2a2a" stroke-width="1.0"/>
<line x1="88.10" y1="430.49" x2="90.30" y2="430.49" stroke="#2a2a2a" stroke-width="1.0"/>
<rect x="90.90" y="420.36" width="3.70" height="28.94" fill="#b2c08a"/>
<line x1="92.75" y1="420.36" x2="92.75" y2="403.00" stroke="#2a2a2a" stroke-width="1.0"/>
<line x1="91.65" y1="403.00" x2="93.85" y2="403.00" stroke="#2a2a2a" stroke-width="1.0"/>
<rect x="98.80" y="435.39" width="3.40" height="13.91" fill="#2c4a82"/>
<line x1="100.50" y1="435.39" x2="100.50" y2="431.27" stroke="#2a2a2a" stroke-width="1.0"/>
<line x1="99.40" y1="431.27" x2="101.60" y2="431.27" stroke="#2a2a2a" stroke-width="1.0"/>
<rect x="102.20" y="424.81" width="3.70" height="24.49" fill="#b2c08a"/>
<line x1="104.05" y1="424.81" x2="104.05" y2="413.80" stroke="#2a2a2a" stroke-width="1.0"/>
<line x1="102.95" y1="413.80" x2="105.15" y2="413.80" stroke="#2a2a2a" stroke-width="1.0"/>
<rect x="110.00" y="425.93" width="3.40" height="23.37" fill="#2c4a82"/>
<line x1="111.70" y1="425.93" x2="111.70" y2="414.46" stroke="#2a2a2a" stroke-width="1.0"/>
<line x1="110.60" y1="414.46" x2="112.80" y2="414.46" stroke="#2a2a2a" stroke-width="1.0"/>
<rect x="113.40" y="408.12" width="3.70" height="41.18" fill="#b2c08a"/>
<line x1="115.25" y1="408.12" x2="115.25" y2="386.30" stroke="#2a2a2a" stroke-width="1.0"/>
<line x1="114.15" y1="386.30" x2="116.35" y2="386.30" stroke="#2a2a2a" stroke-width="1.0"/>
<path d="M40.5,381 V449.3 H122" fill="none" stroke="#111" stroke-width="1.35" stroke-linejoin="round"/>
<line x1="37.70" y1="449.30" x2="40.50" y2="449.30" stroke="#000" stroke-width="1.0"/>
<text x="35.20" y="451.50" font-size="6.3" text-anchor="end" font-weight="normal" fill="#000" stroke="#000" stroke-width="0.13">0</text>
<line x1="37.70" y1="438.17" x2="40.50" y2="438.17" stroke="#000" stroke-width="1.0"/>
<text x="35.20" y="440.37" font-size="6.3" text-anchor="end" font-weight="normal" fill="#000" stroke="#000" stroke-width="0.13">10</text>
<line x1="37.70" y1="427.04" x2="40.50" y2="427.04" stroke="#000" stroke-width="1.0"/>
<text x="35.20" y="429.24" font-size="6.3" text-anchor="end" font-weight="normal" fill="#000" stroke="#000" stroke-width="0.13">20</text>
<line x1="37.70" y1="415.91" x2="40.50" y2="415.91" stroke="#000" stroke-width="1.0"/>
<text x="35.20" y="418.11" font-size="6.3" text-anchor="end" font-weight="normal" fill="#000" stroke="#000" stroke-width="0.13">30</text>
<line x1="37.70" y1="404.78" x2="40.50" y2="404.78" stroke="#000" stroke-width="1.0"/>
<text x="35.20" y="406.98" font-size="6.3" text-anchor="end" font-weight="normal" fill="#000" stroke="#000" stroke-width="0.13">40</text>
<line x1="37.70" y1="393.65" x2="40.50" y2="393.65" stroke="#000" stroke-width="1.0"/>
<text x="35.20" y="395.85" font-size="6.3" text-anchor="end" font-weight="normal" fill="#000" stroke="#000" stroke-width="0.13">50</text>
<line x1="37.70" y1="382.52" x2="40.50" y2="382.52" stroke="#000" stroke-width="1.0"/>
<text x="35.20" y="384.72" font-size="6.3" text-anchor="end" font-weight="normal" fill="#000" stroke="#000" stroke-width="0.13">60</text>
<line x1="40.50" y1="449.30" x2="40.50" y2="451.80" stroke="#000" stroke-width="1.0"/>
<line x1="51.80" y1="449.30" x2="51.80" y2="451.80" stroke="#000" stroke-width="1.0"/>
<line x1="63.30" y1="449.30" x2="63.30" y2="451.80" stroke="#000" stroke-width="1.0"/>
<line x1="74.50" y1="449.30" x2="74.50" y2="451.80" stroke="#000" stroke-width="1.0"/>
<line x1="85.80" y1="449.30" x2="85.80" y2="451.80" stroke="#000" stroke-width="1.0"/>
<line x1="97.50" y1="449.30" x2="97.50" y2="451.80" stroke="#000" stroke-width="1.0"/>
<line x1="108.80" y1="449.30" x2="108.80" y2="451.80" stroke="#000" stroke-width="1.0"/>
<line x1="120.50" y1="449.30" x2="120.50" y2="451.80" stroke="#000" stroke-width="1.0"/>
<polygon points="66.80,427.57 67.37,428.72 68.64,428.90 67.72,429.80 67.94,431.06 66.80,430.47 65.66,431.06 65.88,429.80 64.96,428.90 66.23,428.72" fill="#000" stroke="#000" stroke-width="0.3"/>
<polygon points="89.30,422.57 89.87,423.72 91.14,423.90 90.22,424.80 90.44,426.06 89.30,425.47 88.16,426.06 88.38,424.80 87.46,423.90 88.73,423.72" fill="#000" stroke="#000" stroke-width="0.3"/>
<polygon points="100.50,423.07 101.07,424.22 102.34,424.40 101.42,425.30 101.64,426.56 100.50,425.97 99.36,426.56 99.58,425.30 98.66,424.40 99.93,424.22" fill="#000" stroke="#000" stroke-width="0.3"/>
<polygon points="111.80,406.87 112.37,408.02 113.64,408.20 112.72,409.10 112.94,410.36 111.80,409.77 110.66,410.36 110.88,409.10 109.96,408.20 111.23,408.02" fill="#000" stroke="#000" stroke-width="0.3"/>
<text x="81.00" y="375.50" font-size="8.7" text-anchor="middle" font-weight="normal" fill="#000" stroke="#000" stroke-width="0.05">AML</text>
<rect x="169.50" y="395.90" width="6.40" height="53.40" fill="#2c4a82"/>
<rect x="175.90" y="395.90" width="6.60" height="53.40" fill="#b2c08a"/>
<rect x="188.30" y="414.59" width="6.40" height="34.71" fill="#2c4a82"/>
<line x1="191.50" y1="414.59" x2="191.50" y2="408.29" stroke="#2a2a2a" stroke-width="1.0"/>
<line x1="190.40" y1="408.29" x2="192.60" y2="408.29" stroke="#2a2a2a" stroke-width="1.0"/>
<rect x="194.70" y="411.39" width="6.60" height="37.91" fill="#b2c08a"/>
<line x1="198.00" y1="411.39" x2="198.00" y2="398.30" stroke="#2a2a2a" stroke-width="1.0"/>
<line x1="196.90" y1="398.30" x2="199.10" y2="398.30" stroke="#2a2a2a" stroke-width="1.0"/>
<rect x="207.00" y="415.12" width="6.40" height="34.18" fill="#2c4a82"/>
<line x1="210.20" y1="415.12" x2="210.20" y2="398.30" stroke="#2a2a2a" stroke-width="1.0"/>
<line x1="209.10" y1="398.30" x2="211.30" y2="398.30" stroke="#2a2a2a" stroke-width="1.0"/>
<rect x="213.40" y="415.12" width="6.60" height="34.18" fill="#b2c08a"/>
<line x1="216.70" y1="415.12" x2="216.70" y2="405.78" stroke="#2a2a2a" stroke-width="1.0"/>
<line x1="215.60" y1="405.78" x2="217.80" y2="405.78" stroke="#2a2a2a" stroke-width="1.0"/>
<rect x="225.80" y="425.80" width="6.40" height="23.50" fill="#2c4a82"/>
<line x1="229.00" y1="425.80" x2="229.00" y2="416.99" stroke="#2a2a2a" stroke-width="1.0"/>
<line x1="227.90" y1="416.99" x2="230.10" y2="416.99" stroke="#2a2a2a" stroke-width="1.0"/>
<rect x="232.20" y="414.59" width="6.60" height="34.71" fill="#b2c08a"/>
<line x1="235.50" y1="414.59" x2="235.50" y2="410.00" stroke="#2a2a2a" stroke-width="1.0"/>
<line x1="234.40" y1="410.00" x2="236.60" y2="410.00" stroke="#2a2a2a" stroke-width="1.0"/>
<path d="M167,381 V449.3 H243.8" fill="none" stroke="#111" stroke-width="1.35" stroke-linejoin="round"/>
<line x1="164.20" y1="449.30" x2="167.00" y2="449.30" stroke="#000" stroke-width="1.0"/>
<text x="161.70" y="451.50" font-size="6.3" text-anchor="end" font-weight="normal" fill="#000" stroke="#000" stroke-width="0.13">0</text>
<line x1="164.20" y1="435.95" x2="167.00" y2="435.95" stroke="#000" stroke-width="1.0"/>
<text x="161.70" y="438.15" font-size="6.3" text-anchor="end" font-weight="normal" fill="#000" stroke="#000" stroke-width="0.13">25</text>
<line x1="164.20" y1="422.60" x2="167.00" y2="422.60" stroke="#000" stroke-width="1.0"/>
<text x="161.70" y="424.80" font-size="6.3" text-anchor="end" font-weight="normal" fill="#000" stroke="#000" stroke-width="0.13">50</text>
<line x1="164.20" y1="409.25" x2="167.00" y2="409.25" stroke="#000" stroke-width="1.0"/>
<text x="161.70" y="411.45" font-size="6.3" text-anchor="end" font-weight="normal" fill="#000" stroke="#000" stroke-width="0.13">75</text>
<line x1="164.20" y1="395.90" x2="167.00" y2="395.90" stroke="#000" stroke-width="1.0"/>
<text x="161.70" y="398.10" font-size="6.3" text-anchor="end" font-weight="normal" fill="#000" stroke="#000" stroke-width="0.13">100</text>
<line x1="164.20" y1="382.55" x2="167.00" y2="382.55" stroke="#000" stroke-width="1.0"/>
<text x="161.70" y="384.75" font-size="6.3" text-anchor="end" font-weight="normal" fill="#000" stroke="#000" stroke-width="0.13">125</text>
<line x1="167.00" y1="449.30" x2="167.00" y2="451.80" stroke="#000" stroke-width="1.0"/>
<line x1="185.80" y1="449.30" x2="185.80" y2="451.80" stroke="#000" stroke-width="1.0"/>
<line x1="204.30" y1="449.30" x2="204.30" y2="451.80" stroke="#000" stroke-width="1.0"/>
<line x1="223.00" y1="449.30" x2="223.00" y2="451.80" stroke="#000" stroke-width="1.0"/>
<line x1="241.50" y1="449.30" x2="241.50" y2="451.80" stroke="#000" stroke-width="1.0"/>
<polygon points="191.30,400.57 191.87,401.72 193.14,401.90 192.22,402.80 192.44,404.06 191.30,403.47 190.16,404.06 190.38,402.80 189.46,401.90 190.73,401.72" fill="#000" stroke="#000" stroke-width="0.3"/>
<polygon points="216.80,398.07 217.37,399.22 218.64,399.40 217.72,400.30 217.94,401.56 216.80,400.97 215.66,401.56 215.88,400.30 214.96,399.40 216.23,399.22" fill="#000" stroke="#000" stroke-width="0.3"/>
<polygon points="228.80,409.37 229.37,410.52 230.64,410.70 229.72,411.60 229.94,412.86 228.80,412.27 227.66,412.86 227.88,411.60 226.96,410.70 228.23,410.52" fill="#000" stroke="#000" stroke-width="0.3"/>
<polygon points="235.80,402.57 236.37,403.72 237.64,403.90 236.72,404.80 236.94,406.06 235.80,405.47 234.66,406.06 234.88,404.80 233.96,403.90 235.23,403.72" fill="#000" stroke="#000" stroke-width="0.3"/>
<text x="205.00" y="374.30" font-size="8.7" text-anchor="middle" font-weight="normal" fill="#000" stroke="#000" stroke-width="0.05">AML</text>
<rect x="292.20" y="396.08" width="6.30" height="53.12" fill="#2c4a82"/>
<rect x="298.50" y="396.08" width="6.40" height="53.12" fill="#b2c08a"/>
<rect x="310.50" y="414.14" width="6.30" height="35.06" fill="#2c4a82"/>
<line x1="313.65" y1="414.14" x2="313.65" y2="396.61" stroke="#2a2a2a" stroke-width="1.0"/>
<line x1="312.55" y1="396.61" x2="314.75" y2="396.61" stroke="#2a2a2a" stroke-width="1.0"/>
<rect x="316.80" y="424.23" width="6.40" height="24.97" fill="#b2c08a"/>
<line x1="320.00" y1="424.23" x2="320.00" y2="407.24" stroke="#2a2a2a" stroke-width="1.0"/>
<line x1="318.90" y1="407.24" x2="321.10" y2="407.24" stroke="#2a2a2a" stroke-width="1.0"/>
<rect x="328.90" y="415.20" width="6.30" height="34.00" fill="#2c4a82"/>
<line x1="332.05" y1="415.20" x2="332.05" y2="398.47" stroke="#2a2a2a" stroke-width="1.0"/>
<line x1="330.95" y1="398.47" x2="333.15" y2="398.47" stroke="#2a2a2a" stroke-width="1.0"/>
<rect x="335.20" y="415.20" width="6.40" height="34.00" fill="#b2c08a"/>
<line x1="338.40" y1="415.20" x2="338.40" y2="405.38" stroke="#2a2a2a" stroke-width="1.0"/>
<line x1="337.30" y1="405.38" x2="339.50" y2="405.38" stroke="#2a2a2a" stroke-width="1.0"/>
<rect x="347.60" y="429.01" width="6.30" height="20.19" fill="#2c4a82"/>
<line x1="350.75" y1="429.01" x2="350.75" y2="420.52" stroke="#2a2a2a" stroke-width="1.0"/>
<line x1="349.65" y1="420.52" x2="351.85" y2="420.52" stroke="#2a2a2a" stroke-width="1.0"/>
<rect x="353.90" y="433.80" width="6.40" height="15.40" fill="#b2c08a"/>
<line x1="357.10" y1="433.80" x2="357.10" y2="415.73" stroke="#2a2a2a" stroke-width="1.0"/>
<line x1="356.00" y1="415.73" x2="358.20" y2="415.73" stroke="#2a2a2a" stroke-width="1.0"/>
<path d="M288.1,380 V449.2 H363.1" fill="none" stroke="#111" stroke-width="1.35" stroke-linejoin="round"/>
<line x1="285.30" y1="449.20" x2="288.10" y2="449.20" stroke="#000" stroke-width="1.0"/>
<text x="282.80" y="451.40" font-size="6.3" text-anchor="end" font-weight="normal" fill="#000" stroke="#000" stroke-width="0.13">0</text>
<line x1="285.30" y1="435.92" x2="288.10" y2="435.92" stroke="#000" stroke-width="1.0"/>
<text x="282.80" y="438.12" font-size="6.3" text-anchor="end" font-weight="normal" fill="#000" stroke="#000" stroke-width="0.13">25</text>
<line x1="285.30" y1="422.64" x2="288.10" y2="422.64" stroke="#000" stroke-width="1.0"/>
<text x="282.80" y="424.84" font-size="6.3" text-anchor="end" font-weight="normal" fill="#000" stroke="#000" stroke-width="0.13">50</text>
<line x1="285.30" y1="409.36" x2="288.10" y2="409.36" stroke="#000" stroke-width="1.0"/>
<text x="282.80" y="411.56" font-size="6.3" text-anchor="end" font-weight="normal" fill="#000" stroke="#000" stroke-width="0.13">75</text>
<line x1="285.30" y1="396.08" x2="288.10" y2="396.08" stroke="#000" stroke-width="1.0"/>
<text x="282.80" y="398.28" font-size="6.3" text-anchor="end" font-weight="normal" fill="#000" stroke="#000" stroke-width="0.13">100</text>
<line x1="285.30" y1="382.80" x2="288.10" y2="382.80" stroke="#000" stroke-width="1.0"/>
<text x="282.80" y="385.00" font-size="6.3" text-anchor="end" font-weight="normal" fill="#000" stroke="#000" stroke-width="0.13">125</text>
<line x1="288.10" y1="449.20" x2="288.10" y2="451.70" stroke="#000" stroke-width="1.0"/>
<line x1="307.50" y1="449.20" x2="307.50" y2="451.70" stroke="#000" stroke-width="1.0"/>
<line x1="326.10" y1="449.20" x2="326.10" y2="451.70" stroke="#000" stroke-width="1.0"/>
<line x1="344.10" y1="449.20" x2="344.10" y2="451.70" stroke="#000" stroke-width="1.0"/>
<line x1="363.00" y1="449.20" x2="363.00" y2="451.70" stroke="#000" stroke-width="1.0"/>
<polygon points="320.00,399.27 320.57,400.42 321.84,400.60 320.92,401.50 321.14,402.76 320.00,402.17 318.86,402.76 319.08,401.50 318.16,400.60 319.43,400.42" fill="#000" stroke="#000" stroke-width="0.3"/>
<polygon points="338.40,397.67 338.97,398.82 340.24,399.00 339.32,399.90 339.54,401.16 338.40,400.57 337.26,401.16 337.48,399.90 336.56,399.00 337.83,398.82" fill="#000" stroke="#000" stroke-width="0.3"/>
<polygon points="350.90,412.67 351.47,413.82 352.74,414.00 351.82,414.90 352.04,416.16 350.90,415.57 349.76,416.16 349.98,414.90 349.06,414.00 350.33,413.82" fill="#000" stroke="#000" stroke-width="0.3"/>
<polygon points="357.30,408.57 357.87,409.72 359.14,409.90 358.22,410.80 358.44,412.06 357.30,411.47 356.16,412.06 356.38,410.80 355.46,409.90 356.73,409.72" fill="#000" stroke="#000" stroke-width="0.3"/>
<text x="327.30" y="375.20" font-size="8.7" text-anchor="middle" font-weight="normal" fill="#000" stroke="#000" stroke-width="0.05">AML</text>
<rect x="293.20" y="542.90" width="6.00" height="45.60" fill="#2c4a82"/>
<rect x="299.20" y="542.90" width="6.40" height="45.60" fill="#b2c08a"/>
<rect x="312.80" y="572.08" width="6.00" height="16.42" fill="#2c4a82"/>
<line x1="315.80" y1="572.08" x2="315.80" y2="560.41" stroke="#2a2a2a" stroke-width="1.0"/>
<line x1="314.70" y1="560.41" x2="316.90" y2="560.41" stroke="#2a2a2a" stroke-width="1.0"/>
<rect x="318.80" y="573.45" width="6.40" height="15.05" fill="#b2c08a"/>
<line x1="322.00" y1="573.45" x2="322.00" y2="561.50" stroke="#2a2a2a" stroke-width="1.0"/>
<line x1="320.90" y1="561.50" x2="323.10" y2="561.50" stroke="#2a2a2a" stroke-width="1.0"/>
<rect x="332.40" y="547.00" width="6.00" height="41.50" fill="#2c4a82"/>
<line x1="335.40" y1="547.00" x2="335.40" y2="537.88" stroke="#2a2a2a" stroke-width="1.0"/>
<line x1="334.30" y1="537.88" x2="336.50" y2="537.88" stroke="#2a2a2a" stroke-width="1.0"/>
<rect x="338.40" y="550.20" width="6.40" height="38.30" fill="#b2c08a"/>
<line x1="341.60" y1="550.20" x2="341.60" y2="525.80" stroke="#2a2a2a" stroke-width="1.0"/>
<line x1="340.50" y1="525.80" x2="342.70" y2="525.80" stroke="#2a2a2a" stroke-width="1.0"/>
<rect x="353.20" y="573.91" width="6.00" height="14.59" fill="#2c4a82"/>
<line x1="356.20" y1="573.91" x2="356.20" y2="563.42" stroke="#2a2a2a" stroke-width="1.0"/>
<line x1="355.10" y1="563.42" x2="357.30" y2="563.42" stroke="#2a2a2a" stroke-width="1.0"/>
<rect x="359.20" y="581.20" width="6.40" height="7.30" fill="#b2c08a"/>
<line x1="362.40" y1="581.20" x2="362.40" y2="576.51" stroke="#2a2a2a" stroke-width="1.0"/>
<line x1="361.30" y1="576.51" x2="363.50" y2="576.51" stroke="#2a2a2a" stroke-width="1.0"/>
<path d="M289.2,518.8 V588.5 H370" fill="none" stroke="#111" stroke-width="1.35" stroke-linejoin="round"/>
<line x1="286.40" y1="588.50" x2="289.20" y2="588.50" stroke="#000" stroke-width="1.0"/>
<text x="283.90" y="590.70" font-size="6.3" text-anchor="end" font-weight="normal" fill="#000" stroke="#000" stroke-width="0.13">0</text>
<line x1="286.40" y1="577.10" x2="289.20" y2="577.10" stroke="#000" stroke-width="1.0"/>
<text x="283.90" y="579.30" font-size="6.3" text-anchor="end" font-weight="normal" fill="#000" stroke="#000" stroke-width="0.13">25</text>
<line x1="286.40" y1="565.70" x2="289.20" y2="565.70" stroke="#000" stroke-width="1.0"/>
<text x="283.90" y="567.90" font-size="6.3" text-anchor="end" font-weight="normal" fill="#000" stroke="#000" stroke-width="0.13">50</text>
<line x1="286.40" y1="554.30" x2="289.20" y2="554.30" stroke="#000" stroke-width="1.0"/>
<text x="283.90" y="556.50" font-size="6.3" text-anchor="end" font-weight="normal" fill="#000" stroke="#000" stroke-width="0.13">75</text>
<line x1="286.40" y1="542.90" x2="289.20" y2="542.90" stroke="#000" stroke-width="1.0"/>
<text x="283.90" y="545.10" font-size="6.3" text-anchor="end" font-weight="normal" fill="#000" stroke="#000" stroke-width="0.13">100</text>
<line x1="286.40" y1="531.50" x2="289.20" y2="531.50" stroke="#000" stroke-width="1.0"/>
<text x="283.90" y="533.70" font-size="6.3" text-anchor="end" font-weight="normal" fill="#000" stroke="#000" stroke-width="0.13">125</text>
<line x1="286.40" y1="520.10" x2="289.20" y2="520.10" stroke="#000" stroke-width="1.0"/>
<text x="283.90" y="522.30" font-size="6.3" text-anchor="end" font-weight="normal" fill="#000" stroke="#000" stroke-width="0.13">150</text>
<line x1="289.20" y1="588.50" x2="289.20" y2="591.00" stroke="#000" stroke-width="1.0"/>
<line x1="309.10" y1="588.50" x2="309.10" y2="591.00" stroke="#000" stroke-width="1.0"/>
<line x1="329.70" y1="588.50" x2="329.70" y2="591.00" stroke="#000" stroke-width="1.0"/>
<line x1="349.70" y1="588.50" x2="349.70" y2="591.00" stroke="#000" stroke-width="1.0"/>
<line x1="369.60" y1="588.50" x2="369.60" y2="591.00" stroke="#000" stroke-width="1.0"/>
<polygon points="315.80,553.37 316.37,554.52 317.64,554.70 316.72,555.60 316.94,556.86 315.80,556.27 314.66,556.86 314.88,555.60 313.96,554.70 315.23,554.52" fill="#000" stroke="#000" stroke-width="0.3"/>
<polygon points="322.20,553.37 322.77,554.52 324.04,554.70 323.12,555.60 323.34,556.86 322.20,556.27 321.06,556.86 321.28,555.60 320.36,554.70 321.63,554.52" fill="#000" stroke="#000" stroke-width="0.3"/>
<polygon points="355.70,555.47 356.27,556.62 357.54,556.80 356.62,557.70 356.84,558.96 355.70,558.37 354.56,558.96 354.78,557.70 353.86,556.80 355.13,556.62" fill="#000" stroke="#000" stroke-width="0.3"/>
<polygon points="362.40,568.87 362.97,570.02 364.24,570.20 363.32,571.10 363.54,572.36 362.40,571.77 361.26,572.36 361.48,571.10 360.56,570.20 361.83,570.02" fill="#000" stroke="#000" stroke-width="0.3"/>
<text x="329.60" y="512.40" font-size="8.7" text-anchor="middle" font-weight="normal" fill="#000" stroke="#000" stroke-width="0.05">CML</text>
<rect x="53.80" y="583.74" width="3.40" height="4.56" fill="#2c4a82"/>
<line x1="55.50" y1="583.74" x2="55.50" y2="578.84" stroke="#2a2a2a" stroke-width="1.0"/>
<line x1="54.40" y1="578.84" x2="56.60" y2="578.84" stroke="#2a2a2a" stroke-width="1.0"/>
<rect x="57.20" y="582.72" width="3.70" height="5.58" fill="#b2c08a"/>
<line x1="59.05" y1="582.72" x2="59.05" y2="578.33" stroke="#2a2a2a" stroke-width="1.0"/>
<line x1="57.95" y1="578.33" x2="60.15" y2="578.33" stroke="#2a2a2a" stroke-width="1.0"/>
<rect x="65.00" y="579.00" width="3.40" height="9.29" fill="#2c4a82"/>
<line x1="66.70" y1="579.00" x2="66.70" y2="573.77" stroke="#2a2a2a" stroke-width="1.0"/>
<line x1="65.60" y1="573.77" x2="67.80" y2="573.77" stroke="#2a2a2a" stroke-width="1.0"/>
<rect x="68.40" y="580.69" width="3.70" height="7.60" fill="#b2c08a"/>
<line x1="70.25" y1="580.69" x2="70.25" y2="571.23" stroke="#2a2a2a" stroke-width="1.0"/>
<line x1="69.15" y1="571.23" x2="71.35" y2="571.23" stroke="#2a2a2a" stroke-width="1.0"/>
<rect x="76.30" y="574.78" width="3.40" height="13.52" fill="#2c4a82"/>
<line x1="78.00" y1="574.78" x2="78.00" y2="569.54" stroke="#2a2a2a" stroke-width="1.0"/>
<line x1="76.90" y1="569.54" x2="79.10" y2="569.54" stroke="#2a2a2a" stroke-width="1.0"/>
<rect x="79.70" y="573.09" width="3.70" height="15.21" fill="#b2c08a"/>
<line x1="81.55" y1="573.09" x2="81.55" y2="564.47" stroke="#2a2a2a" stroke-width="1.0"/>
<line x1="80.45" y1="564.47" x2="82.65" y2="564.47" stroke="#2a2a2a" stroke-width="1.0"/>
<rect x="87.50" y="568.87" width="3.40" height="19.43" fill="#2c4a82"/>
<line x1="89.20" y1="568.87" x2="89.20" y2="557.54" stroke="#2a2a2a" stroke-width="1.0"/>
<line x1="88.10" y1="557.54" x2="90.30" y2="557.54" stroke="#2a2a2a" stroke-width="1.0"/>
<rect x="90.90" y="566.33" width="3.70" height="21.97" fill="#b2c08a"/>
<line x1="92.75" y1="566.33" x2="92.75" y2="549.94" stroke="#2a2a2a" stroke-width="1.0"/>
<line x1="91.65" y1="549.94" x2="93.85" y2="549.94" stroke="#2a2a2a" stroke-width="1.0"/>
<rect x="98.80" y="555.34" width="3.40" height="32.95" fill="#2c4a82"/>
<line x1="100.50" y1="555.34" x2="100.50" y2="543.35" stroke="#2a2a2a" stroke-width="1.0"/>
<line x1="99.40" y1="543.35" x2="101.60" y2="543.35" stroke="#2a2a2a" stroke-width="1.0"/>
<rect x="102.20" y="555.34" width="3.70" height="32.95" fill="#b2c08a"/>
<line x1="104.05" y1="555.34" x2="104.05" y2="543.35" stroke="#2a2a2a" stroke-width="1.0"/>
<line x1="102.95" y1="543.35" x2="105.15" y2="543.35" stroke="#2a2a2a" stroke-width="1.0"/>
<rect x="110.00" y="561.26" width="3.40" height="27.04" fill="#2c4a82"/>
<line x1="111.70" y1="561.26" x2="111.70" y2="547.57" stroke="#2a2a2a" stroke-width="1.0"/>
<line x1="110.60" y1="547.57" x2="112.80" y2="547.57" stroke="#2a2a2a" stroke-width="1.0"/>
<rect x="113.40" y="550.27" width="3.70" height="38.02" fill="#b2c08a"/>
<line x1="115.25" y1="550.27" x2="115.25" y2="521.38" stroke="#2a2a2a" stroke-width="1.0"/>
<line x1="114.15" y1="521.38" x2="116.35" y2="521.38" stroke="#2a2a2a" stroke-width="1.0"/>
<path d="M40.5,518.8 V588.3 H122" fill="none" stroke="#111" stroke-width="1.35" stroke-linejoin="round"/>
<line x1="37.70" y1="588.30" x2="40.50" y2="588.30" stroke="#000" stroke-width="1.0"/>
<text x="35.20" y="590.50" font-size="6.3" text-anchor="end" font-weight="normal" fill="#000" stroke="#000" stroke-width="0.13">0</text>
<line x1="37.70" y1="571.40" x2="40.50" y2="571.40" stroke="#000" stroke-width="1.0"/>
<text x="35.20" y="573.60" font-size="6.3" text-anchor="end" font-weight="normal" fill="#000" stroke="#000" stroke-width="0.13">10</text>
<line x1="37.70" y1="554.50" x2="40.50" y2="554.50" stroke="#000" stroke-width="1.0"/>
<text x="35.20" y="556.70" font-size="6.3" text-anchor="end" font-weight="normal" fill="#000" stroke="#000" stroke-width="0.13">20</text>
<line x1="37.70" y1="537.60" x2="40.50" y2="537.60" stroke="#000" stroke-width="1.0"/>
<text x="35.20" y="539.80" font-size="6.3" text-anchor="end" font-weight="normal" fill="#000" stroke="#000" stroke-width="0.13">30</text>
<line x1="37.70" y1="520.70" x2="40.50" y2="520.70" stroke="#000" stroke-width="1.0"/>
<text x="35.20" y="522.90" font-size="6.3" text-anchor="end" font-weight="normal" fill="#000" stroke="#000" stroke-width="0.13">40</text>
<line x1="40.50" y1="588.30" x2="40.50" y2="590.80" stroke="#000" stroke-width="1.0"/>
<line x1="51.80" y1="588.30" x2="51.80" y2="590.80" stroke="#000" stroke-width="1.0"/>
<line x1="63.30" y1="588.30" x2="63.30" y2="590.80" stroke="#000" stroke-width="1.0"/>
<line x1="74.50" y1="588.30" x2="74.50" y2="590.80" stroke="#000" stroke-width="1.0"/>
<line x1="85.80" y1="588.30" x2="85.80" y2="590.80" stroke="#000" stroke-width="1.0"/>
<line x1="97.50" y1="588.30" x2="97.50" y2="590.80" stroke="#000" stroke-width="1.0"/>
<line x1="108.80" y1="588.30" x2="108.80" y2="590.80" stroke="#000" stroke-width="1.0"/>
<line x1="120.50" y1="588.30" x2="120.50" y2="590.80" stroke="#000" stroke-width="1.0"/>
<polygon points="66.80,565.57 67.37,566.72 68.64,566.90 67.72,567.80 67.94,569.06 66.80,568.47 65.66,569.06 65.88,567.80 64.96,566.90 66.23,566.72" fill="#000" stroke="#000" stroke-width="0.3"/>
<polygon points="78.00,561.87 78.57,563.02 79.84,563.20 78.92,564.10 79.14,565.36 78.00,564.77 76.86,565.36 77.08,564.10 76.16,563.20 77.43,563.02" fill="#000" stroke="#000" stroke-width="0.3"/>
<polygon points="81.80,556.87 82.37,558.02 83.64,558.20 82.72,559.10 82.94,560.36 81.80,559.77 80.66,560.36 80.88,559.10 79.96,558.20 81.23,558.02" fill="#000" stroke="#000" stroke-width="0.3"/>
<polygon points="89.30,549.37 89.87,550.52 91.14,550.70 90.22,551.60 90.44,552.86 89.30,552.27 88.16,552.86 88.38,551.60 87.46,550.70 88.73,550.52" fill="#000" stroke="#000" stroke-width="0.3"/>
<polygon points="93.00,542.57 93.57,543.72 94.84,543.90 93.92,544.80 94.14,546.06 93.00,545.47 91.86,546.06 92.08,544.80 91.16,543.90 92.43,543.72" fill="#000" stroke="#000" stroke-width="0.3"/>
<polygon points="100.50,535.57 101.07,536.72 102.34,536.90 101.42,537.80 101.64,539.06 100.50,538.47 99.36,539.06 99.58,537.80 98.66,536.90 99.93,536.72" fill="#000" stroke="#000" stroke-width="0.3"/>
<polygon points="104.30,535.57 104.87,536.72 106.14,536.90 105.22,537.80 105.44,539.06 104.30,538.47 103.16,539.06 103.38,537.80 102.46,536.90 103.73,536.72" fill="#000" stroke="#000" stroke-width="0.3"/>
<polygon points="111.80,540.07 112.37,541.22 113.64,541.40 112.72,542.30 112.94,543.56 111.80,542.97 110.66,543.56 110.88,542.30 109.96,541.40 111.23,541.22" fill="#000" stroke="#000" stroke-width="0.3"/>
<polygon points="115.80,513.07 116.37,514.22 117.64,514.40 116.72,515.30 116.94,516.56 115.80,515.97 114.66,516.56 114.88,515.30 113.96,514.40 115.23,514.22" fill="#000" stroke="#000" stroke-width="0.3"/>
<text x="80.50" y="512.30" font-size="8.7" text-anchor="middle" font-weight="normal" fill="#000" stroke="#000" stroke-width="0.05">CML</text>
<rect x="170.80" y="570.41" width="9.20" height="17.89" fill="#c9c9cd"/>
<line x1="175.40" y1="570.41" x2="175.40" y2="556.23" stroke="#2a2a2a" stroke-width="1.0"/>
<line x1="174.30" y1="556.23" x2="176.50" y2="556.23" stroke="#2a2a2a" stroke-width="1.0"/>
<rect x="188.80" y="559.81" width="8.70" height="28.49" fill="#2c4a82"/>
<line x1="193.15" y1="559.81" x2="193.15" y2="547.49" stroke="#2a2a2a" stroke-width="1.0"/>
<line x1="192.05" y1="547.49" x2="194.25" y2="547.49" stroke="#2a2a2a" stroke-width="1.0"/>
<rect x="206.30" y="548.55" width="8.70" height="39.75" fill="#2c4a82"/>
<line x1="210.65" y1="548.55" x2="210.65" y2="531.32" stroke="#2a2a2a" stroke-width="1.0"/>
<line x1="209.55" y1="531.32" x2="211.75" y2="531.32" stroke="#2a2a2a" stroke-width="1.0"/>
<rect x="223.80" y="555.17" width="8.70" height="33.12" fill="#2c4a82"/>
<line x1="228.15" y1="555.17" x2="228.15" y2="536.36" stroke="#2a2a2a" stroke-width="1.0"/>
<line x1="227.05" y1="536.36" x2="229.25" y2="536.36" stroke="#2a2a2a" stroke-width="1.0"/>
<path d="M167.5,520 V588.3 H238.8" fill="none" stroke="#111" stroke-width="1.35" stroke-linejoin="round"/>
<line x1="164.70" y1="588.30" x2="167.50" y2="588.30" stroke="#000" stroke-width="1.0"/>
<text x="162.20" y="590.50" font-size="6.3" text-anchor="end" font-weight="normal" fill="#000" stroke="#000" stroke-width="0.13">0</text>
<line x1="164.70" y1="575.05" x2="167.50" y2="575.05" stroke="#000" stroke-width="1.0"/>
<text x="162.20" y="577.25" font-size="6.3" text-anchor="end" font-weight="normal" fill="#000" stroke="#000" stroke-width="0.13">10</text>
<line x1="164.70" y1="561.80" x2="167.50" y2="561.80" stroke="#000" stroke-width="1.0"/>
<text x="162.20" y="564.00" font-size="6.3" text-anchor="end" font-weight="normal" fill="#000" stroke="#000" stroke-width="0.13">20</text>
<line x1="164.70" y1="548.55" x2="167.50" y2="548.55" stroke="#000" stroke-width="1.0"/>
<text x="162.20" y="550.75" font-size="6.3" text-anchor="end" font-weight="normal" fill="#000" stroke="#000" stroke-width="0.13">30</text>
<line x1="164.70" y1="535.30" x2="167.50" y2="535.30" stroke="#000" stroke-width="1.0"/>
<text x="162.20" y="537.50" font-size="6.3" text-anchor="end" font-weight="normal" fill="#000" stroke="#000" stroke-width="0.13">40</text>
<line x1="164.70" y1="522.05" x2="167.50" y2="522.05" stroke="#000" stroke-width="1.0"/>
<text x="162.20" y="524.25" font-size="6.3" text-anchor="end" font-weight="normal" fill="#000" stroke="#000" stroke-width="0.13">50</text>
<line x1="167.50" y1="588.30" x2="167.50" y2="590.80" stroke="#000" stroke-width="1.0"/>
<line x1="184.40" y1="588.30" x2="184.40" y2="590.80" stroke="#000" stroke-width="1.0"/>
<line x1="201.70" y1="588.30" x2="201.70" y2="590.80" stroke="#000" stroke-width="1.0"/>
<line x1="219.00" y1="588.30" x2="219.00" y2="590.80" stroke="#000" stroke-width="1.0"/>
<line x1="236.30" y1="588.30" x2="236.30" y2="590.80" stroke="#000" stroke-width="1.0"/>
<text x="202.50" y="512.30" font-size="8.7" text-anchor="middle" font-weight="normal" fill="#000" stroke="#000" stroke-width="0.05">CML</text>
<text x="7.00" y="16.80" font-size="11.6" text-anchor="start" font-weight="bold" fill="#000">A</text>
<text x="7.30" y="364.30" font-size="11.6" text-anchor="start" font-weight="bold" fill="#000">B</text>
<text x="259.00" y="364.30" font-size="11.6" text-anchor="start" font-weight="bold" fill="#000">C</text>
<text x="7.30" y="502.60" font-size="11.6" text-anchor="start" font-weight="bold" fill="#000">D</text>
<text x="259.00" y="502.80" font-size="11.6" text-anchor="start" font-weight="bold" fill="#000">E</text>
<rect x="43.20" y="381.20" width="5.60" height="3.50" fill="#2c4a82"/>
<text x="51.80" y="384.50" font-size="5.8" text-anchor="start" font-weight="normal" fill="#000" stroke="#000" stroke-width="0.06">CD34<tspan dy="-3.0" font-size="0.8em">+</tspan><tspan dy="3.0">/CD38</tspan><tspan dy="-3.0" font-size="0.8em">−</tspan></text>
<rect x="43.20" y="388.80" width="5.60" height="3.50" fill="#b2c08a"/>
<text x="51.80" y="392.10" font-size="5.8" text-anchor="start" font-weight="normal" fill="#000" stroke="#000" stroke-width="0.06">CD34<tspan dy="-3.0" font-size="0.8em">+</tspan><tspan dy="3.0">/CD38</tspan><tspan dy="-3.0" font-size="0.8em">+</tspan></text>
<rect x="170.80" y="381.20" width="5.60" height="3.50" fill="#2c4a82"/>
<text x="178.30" y="384.50" font-size="5.8" text-anchor="start" font-weight="normal" fill="#000" stroke="#000" stroke-width="0.06">CD34<tspan dy="-3.0" font-size="0.8em">+</tspan><tspan dy="3.0">/CD38</tspan><tspan dy="-3.0" font-size="0.8em">−</tspan></text>
<rect x="170.80" y="388.80" width="5.60" height="3.50" fill="#b2c08a"/>
<text x="178.30" y="392.10" font-size="5.8" text-anchor="start" font-weight="normal" fill="#000" stroke="#000" stroke-width="0.06">CD34<tspan dy="-3.0" font-size="0.8em">+</tspan><tspan dy="3.0">/CD38</tspan><tspan dy="-3.0" font-size="0.8em">+</tspan></text>
<rect x="292.50" y="380.70" width="5.60" height="3.50" fill="#2c4a82"/>
<text x="300.30" y="384.00" font-size="5.8" text-anchor="start" font-weight="normal" fill="#000" stroke="#000" stroke-width="0.06">CD34<tspan dy="-3.0" font-size="0.8em">+</tspan><tspan dy="3.0">/CD38</tspan><tspan dy="-3.0" font-size="0.8em">−</tspan></text>
<rect x="292.50" y="388.30" width="5.60" height="3.50" fill="#b2c08a"/>
<text x="300.30" y="391.60" font-size="5.8" text-anchor="start" font-weight="normal" fill="#000" stroke="#000" stroke-width="0.06">CD34<tspan dy="-3.0" font-size="0.8em">+</tspan><tspan dy="3.0">/CD38</tspan><tspan dy="-3.0" font-size="0.8em">+</tspan></text>
<rect x="293.00" y="518.80" width="5.60" height="3.50" fill="#2c4a82"/>
<text x="300.30" y="522.10" font-size="5.8" text-anchor="start" font-weight="normal" fill="#000" stroke="#000" stroke-width="0.06">CD34<tspan dy="-3.0" font-size="0.8em">+</tspan><tspan dy="3.0">/CD38</tspan><tspan dy="-3.0" font-size="0.8em">−</tspan></text>
<rect x="293.00" y="526.40" width="5.60" height="3.50" fill="#b2c08a"/>
<text x="300.30" y="529.70" font-size="5.8" text-anchor="start" font-weight="normal" fill="#000" stroke="#000" stroke-width="0.06">CD34<tspan dy="-3.0" font-size="0.8em">+</tspan><tspan dy="3.0">/CD38</tspan><tspan dy="-3.0" font-size="0.8em">+</tspan></text>
<rect x="43.20" y="519.30" width="5.60" height="3.50" fill="#2c4a82"/>
<text x="51.80" y="522.60" font-size="5.8" text-anchor="start" font-weight="normal" fill="#000" stroke="#000" stroke-width="0.06">CD34<tspan dy="-3.0" font-size="0.8em">+</tspan><tspan dy="3.0">/CD38</tspan><tspan dy="-3.0" font-size="0.8em">−</tspan></text>
<rect x="43.20" y="526.90" width="5.60" height="3.50" fill="#b2c08a"/>
<text x="51.80" y="530.20" font-size="5.8" text-anchor="start" font-weight="normal" fill="#000" stroke="#000" stroke-width="0.06">CD34<tspan dy="-3.0" font-size="0.8em">+</tspan><tspan dy="3.0">/CD38</tspan><tspan dy="-3.0" font-size="0.8em">+</tspan></text>
<text x="170.80" y="524.10" font-size="5.8" text-anchor="start" font-weight="normal" fill="#000" stroke="#000" stroke-width="0.06">CD34<tspan dy="-3.0" font-size="0.8em">+</tspan><tspan dy="3.0">/CD38</tspan><tspan dy="-3.0" font-size="0.8em">−</tspan></text>
<text x="210.50" y="528.00" font-size="5.6" text-anchor="middle" font-weight="normal" fill="#000" stroke="#000" stroke-width="0.13">#</text>
<text x="21.40" y="414.50" font-size="7.2" text-anchor="middle" font-weight="normal" fill="#000" transform="rotate(-90 21.40 414.50)" textLength="64" lengthAdjust="spacingAndGlyphs" stroke="#000" stroke-width="0.24">% Annexin-positive cells</text>
<text x="144.50" y="415.00" font-size="7.2" text-anchor="middle" font-weight="normal" fill="#000" transform="rotate(-90 144.50 415.00)" textLength="65" lengthAdjust="spacingAndGlyphs" stroke="#000" stroke-width="0.24">Viable cells (% of control)</text>
<text x="266.20" y="416.00" font-size="7.2" text-anchor="middle" font-weight="normal" fill="#000" transform="rotate(-90 266.20 416.00)" textLength="69" lengthAdjust="spacingAndGlyphs" stroke="#000" stroke-width="0.24">Viable cells (% of control)</text>
<text x="266.20" y="553.00" font-size="7.2" text-anchor="middle" font-weight="normal" fill="#000" transform="rotate(-90 266.20 553.00)" textLength="68" lengthAdjust="spacingAndGlyphs" stroke="#000" stroke-width="0.24">Viable cells (% of control)</text>
<text x="13.20" y="553.00" font-size="7.2" text-anchor="middle" font-weight="normal" fill="#000" transform="rotate(-90 13.20 553.00)" textLength="64" lengthAdjust="spacingAndGlyphs" stroke="#000" stroke-width="0.24">% Annexin-positive cells</text>
<text x="20.80" y="553.00" font-size="7.2" text-anchor="middle" font-weight="normal" fill="#000" transform="rotate(-90 20.80 553.00)" textLength="36" lengthAdjust="spacingAndGlyphs" stroke="#000" stroke-width="0.24">(minus control)</text>
<text x="148.50" y="554.00" font-size="7.2" text-anchor="middle" font-weight="normal" fill="#000" transform="rotate(-90 148.50 554.00)" textLength="62" lengthAdjust="spacingAndGlyphs" stroke="#000" stroke-width="0.24">% Annexin-positive cells</text>
<text x="49.90" y="457.00" font-size="6.4" text-anchor="end" font-weight="normal" fill="#000" transform="rotate(-45 49.90 457.00)" stroke="#000" stroke-width="0.13">Control</text>
<text x="60.20" y="458.20" font-size="6.4" text-anchor="end" font-weight="normal" fill="#000" transform="rotate(-45 60.20 458.20)" stroke="#000" stroke-width="0.13">0.01</text>
<text x="72.40" y="458.20" font-size="6.4" text-anchor="end" font-weight="normal" fill="#000" transform="rotate(-45 72.40 458.20)" stroke="#000" stroke-width="0.13">0.05</text>
<text x="82.50" y="459.10" font-size="6.4" text-anchor="end" font-weight="normal" fill="#000" transform="rotate(-45 82.50 459.10)" stroke="#000" stroke-width="0.13">0.1</text>
<text x="92.70" y="458.20" font-size="6.4" text-anchor="end" font-weight="normal" fill="#000" transform="rotate(-45 92.70 458.20)" stroke="#000" stroke-width="0.13">0.5</text>
<text x="104.60" y="459.10" font-size="6.4" text-anchor="end" font-weight="normal" fill="#000" transform="rotate(-45 104.60 459.10)" stroke="#000" stroke-width="0.13">1</text>
<text x="115.70" y="459.10" font-size="6.4" text-anchor="end" font-weight="normal" fill="#000" transform="rotate(-45 115.70 459.10)" stroke="#000" stroke-width="0.13">5</text>
<text x="48.90" y="597.20" font-size="6.4" text-anchor="end" font-weight="normal" fill="#000" transform="rotate(-45 48.90 597.20)" stroke="#000" stroke-width="0.13">Control</text>
<text x="60.40" y="598.50" font-size="6.4" text-anchor="end" font-weight="normal" fill="#000" transform="rotate(-45 60.40 598.50)" stroke="#000" stroke-width="0.13">0.01</text>
<text x="72.40" y="598.50" font-size="6.4" text-anchor="end" font-weight="normal" fill="#000" transform="rotate(-45 72.40 598.50)" stroke="#000" stroke-width="0.13">0.05</text>
<text x="82.50" y="598.50" font-size="6.4" text-anchor="end" font-weight="normal" fill="#000" transform="rotate(-45 82.50 598.50)" stroke="#000" stroke-width="0.13">0.1</text>
<text x="93.60" y="598.50" font-size="6.4" text-anchor="end" font-weight="normal" fill="#000" transform="rotate(-45 93.60 598.50)" stroke="#000" stroke-width="0.13">0.5</text>
<text x="105.20" y="598.50" font-size="6.4" text-anchor="end" font-weight="normal" fill="#000" transform="rotate(-45 105.20 598.50)" stroke="#000" stroke-width="0.13">1</text>
<text x="117.20" y="598.50" font-size="6.4" text-anchor="end" font-weight="normal" fill="#000" transform="rotate(-45 117.20 598.50)" stroke="#000" stroke-width="0.13">5</text>
<text x="179.90" y="458.30" font-size="6.4" text-anchor="end" font-weight="normal" fill="#000" transform="rotate(-45 179.90 458.30)" stroke="#000" stroke-width="0.13">Control</text>
<text x="198.40" y="458.30" font-size="6.4" text-anchor="end" font-weight="normal" fill="#000" transform="rotate(-45 198.40 458.30)" stroke="#000" stroke-width="0.13">100</text>
<text x="217.40" y="458.30" font-size="6.4" text-anchor="end" font-weight="normal" fill="#000" transform="rotate(-45 217.40 458.30)" stroke="#000" stroke-width="0.13">300</text>
<text x="235.60" y="458.30" font-size="6.4" text-anchor="end" font-weight="normal" fill="#000" transform="rotate(-45 235.60 458.30)" stroke="#000" stroke-width="0.13">500</text>
<text x="179.40" y="597.80" font-size="6.4" text-anchor="end" font-weight="normal" fill="#000" transform="rotate(-45 179.40 597.80)" stroke="#000" stroke-width="0.13">Control</text>
<text x="196.70" y="597.80" font-size="6.4" text-anchor="end" font-weight="normal" fill="#000" transform="rotate(-45 196.70 597.80)" stroke="#000" stroke-width="0.13">10</text>
<text x="214.00" y="597.80" font-size="6.4" text-anchor="end" font-weight="normal" fill="#000" transform="rotate(-45 214.00 597.80)" stroke="#000" stroke-width="0.13">50</text>
<text x="232.10" y="597.80" font-size="6.4" text-anchor="end" font-weight="normal" fill="#000" transform="rotate(-45 232.10 597.80)" stroke="#000" stroke-width="0.13">100</text>
<text x="301.80" y="458.30" font-size="6.4" text-anchor="end" font-weight="normal" fill="#000" transform="rotate(-45 301.80 458.30)" stroke="#000" stroke-width="0.13">Control</text>
<text x="315.30" y="463.60" font-size="6.4" text-anchor="end" font-weight="normal" fill="#000" transform="rotate(-45 315.30 463.60)" stroke="#000" stroke-width="0.13">GO</text>
<text x="324.90" y="461.10" font-size="6.4" text-anchor="end" font-weight="normal" fill="#000" transform="rotate(-45 324.90 461.10)" stroke="#000" stroke-width="0.13">[1 μg/ml]</text>
<text x="338.80" y="458.80" font-size="6.4" text-anchor="end" font-weight="normal" fill="#000" transform="rotate(-45 338.80 458.80)" stroke="#000" stroke-width="0.13">Alemtuzumab</text>
<text x="341.70" y="464.50" font-size="6.4" text-anchor="end" font-weight="normal" fill="#000" transform="rotate(-45 341.70 464.50)" stroke="#000" stroke-width="0.13">[300 μg/ml]</text>
<text x="357.10" y="459.20" font-size="6.4" text-anchor="end" font-weight="normal" fill="#000" transform="rotate(-45 357.10 459.20)" stroke="#000" stroke-width="0.13">Combination</text>
<text x="303.10" y="597.80" font-size="6.4" text-anchor="end" font-weight="normal" fill="#000" transform="rotate(-45 303.10 597.80)" stroke="#000" stroke-width="0.13">Control</text>
<text x="317.30" y="602.70" font-size="6.4" text-anchor="end" font-weight="normal" fill="#000" transform="rotate(-45 317.30 602.70)" stroke="#000" stroke-width="0.13">GO</text>
<text x="326.80" y="601.80" font-size="6.4" text-anchor="end" font-weight="normal" fill="#000" transform="rotate(-45 326.80 601.80)" stroke="#000" stroke-width="0.13">[1 μg/ml]</text>
<text x="342.40" y="597.80" font-size="6.4" text-anchor="end" font-weight="normal" fill="#000" transform="rotate(-45 342.40 597.80)" stroke="#000" stroke-width="0.13">Alemtuzumab</text>
<text x="344.10" y="604.40" font-size="6.4" text-anchor="end" font-weight="normal" fill="#000" transform="rotate(-45 344.10 604.40)" stroke="#000" stroke-width="0.13">[100 μg/ml]</text>
<text x="362.30" y="597.80" font-size="6.4" text-anchor="end" font-weight="normal" fill="#000" transform="rotate(-45 362.30 597.80)" stroke="#000" stroke-width="0.13">Combination</text>
<path d="M51.8,470.5 V474.5 H119.5 V470.5" fill="none" stroke="#000" stroke-width="1.1"/>
<text x="85.00" y="484.60" font-size="8.8" text-anchor="middle" font-weight="normal" fill="#000" textLength="29.5" lengthAdjust="spacingAndGlyphs" stroke="#000" stroke-width="0.13">GO [μg/ml]</text>
<path d="M185.8,470.6 V474.4 H241.5 V470.6" fill="none" stroke="#000" stroke-width="1.1"/>
<text x="213.00" y="485.00" font-size="8.8" text-anchor="middle" font-weight="normal" fill="#000" textLength="57" lengthAdjust="spacingAndGlyphs" stroke="#000" stroke-width="0.13">Alemtuzumab [μg/ml]</text>
<path d="M51.6,608.6 V613 H119.3 V608.6" fill="none" stroke="#000" stroke-width="1.1"/>
<text x="84.70" y="623.20" font-size="8.8" text-anchor="middle" font-weight="normal" fill="#000" textLength="28.6" lengthAdjust="spacingAndGlyphs" stroke="#000" stroke-width="0.13">GO [μg/ml]</text>
<path d="M184.4,610 V613.5 H236.7 V610" fill="none" stroke="#000" stroke-width="1.1"/>
<text x="210.10" y="624.00" font-size="8.8" text-anchor="middle" font-weight="normal" fill="#000" textLength="68" lengthAdjust="spacingAndGlyphs" stroke="#000" stroke-width="0.13">Denileukin diftitox [μg/ml]</text>
<text x="446.00" y="390.80" font-size="8.2" text-anchor="middle" font-weight="normal" fill="#000">Expression of target antigens on</text>
<text x="446.00" y="400.60" font-size="8.6" text-anchor="middle" font-weight="normal" fill="#000">CD34<tspan dy="-3.2" font-size="7">+</tspan><tspan dy="3.2">/CD38</tspan><tspan dy="-3.2" font-size="7">−</tspan><tspan dy="3.2"> AML and CML LSC</tspan></text>
<path d="M445.5,416.7 V407.3 H513 V416.7" fill="none" stroke="#111" stroke-width="1"/>
<text x="479.25" y="413.60" font-size="5" text-anchor="middle" font-weight="normal" fill="#000">Staining-index score</text>
<rect x="381.1" y="416.7" width="131.89999999999998" height="161.8" fill="none" stroke="#111" stroke-width="1"/>
<line x1="404.30" y1="416.70" x2="404.30" y2="578.50" stroke="#111" stroke-width="1"/>
<line x1="423.20" y1="416.70" x2="423.20" y2="578.50" stroke="#111" stroke-width="1"/>
<line x1="445.50" y1="416.70" x2="445.50" y2="578.50" stroke="#111" stroke-width="1"/>
<line x1="466.20" y1="416.70" x2="466.20" y2="578.50" stroke="#111" stroke-width="1"/>
<line x1="486.50" y1="416.70" x2="486.50" y2="578.50" stroke="#111" stroke-width="1"/>
<line x1="381.10" y1="437.80" x2="513.00" y2="437.80" stroke="#111" stroke-width="1"/>
<line x1="381.10" y1="447.85" x2="513.00" y2="447.85" stroke="#111" stroke-width="1"/>
<line x1="381.10" y1="457.90" x2="513.00" y2="457.90" stroke="#111" stroke-width="1"/>
<line x1="381.10" y1="467.95" x2="513.00" y2="467.95" stroke="#111" stroke-width="1"/>
<line x1="381.10" y1="478.00" x2="513.00" y2="478.00" stroke="#111" stroke-width="1"/>
<line x1="381.10" y1="488.05" x2="513.00" y2="488.05" stroke="#111" stroke-width="1"/>
<line x1="381.10" y1="498.10" x2="513.00" y2="498.10" stroke="#111" stroke-width="1"/>
<line x1="381.10" y1="508.15" x2="513.00" y2="508.15" stroke="#111" stroke-width="1"/>
<line x1="381.10" y1="518.20" x2="513.00" y2="518.20" stroke="#111" stroke-width="1"/>
<line x1="381.10" y1="528.25" x2="513.00" y2="528.25" stroke="#111" stroke-width="1"/>
<line x1="381.10" y1="538.30" x2="513.00" y2="538.30" stroke="#111" stroke-width="1"/>
<line x1="381.10" y1="548.35" x2="513.00" y2="548.35" stroke="#111" stroke-width="1"/>
<line x1="381.10" y1="558.40" x2="513.00" y2="558.40" stroke="#111" stroke-width="1"/>
<line x1="381.10" y1="568.45" x2="513.00" y2="568.45" stroke="#111" stroke-width="1"/>
<line x1="381.10" y1="578.50" x2="513.00" y2="578.50" stroke="#111" stroke-width="1"/>
<text x="392.70" y="429.20" font-size="5" text-anchor="middle" font-weight="normal" fill="#000">disease</text>
<text x="413.75" y="425.60" font-size="5" text-anchor="middle" font-weight="normal" fill="#000">patient</text>
<text x="413.75" y="432.60" font-size="5" text-anchor="middle" font-weight="normal" fill="#000">#</text>
<text x="434.35" y="425.60" font-size="5" text-anchor="middle" font-weight="normal" fill="#000">sample</text>
<text x="434.35" y="432.60" font-size="5" text-anchor="middle" font-weight="normal" fill="#000">at</text>
<text x="455.85" y="425.60" font-size="5" text-anchor="middle" font-weight="normal" fill="#000">CD25</text>
<text x="455.85" y="432.60" font-size="5" text-anchor="middle" font-weight="normal" fill="#000">IL-2RA</text>
<text x="476.35" y="425.60" font-size="5" text-anchor="middle" font-weight="normal" fill="#000">CD33</text>
<text x="476.35" y="432.60" font-size="5" text-anchor="middle" font-weight="normal" fill="#000" textLength="18.80000000000001" lengthAdjust="spacingAndGlyphs">Siglec-3</text>
<text x="499.75" y="425.60" font-size="5" text-anchor="middle" font-weight="normal" fill="#000">CD52</text>
<text x="499.75" y="432.60" font-size="5" text-anchor="middle" font-weight="normal" fill="#000" textLength="25.0" lengthAdjust="spacingAndGlyphs">Campath-1</text>
<text x="392.70" y="444.72" font-size="5.3" text-anchor="middle" font-weight="normal" fill="#000" stroke="#000" stroke-width="0.04">AML</text>
<text x="413.75" y="444.72" font-size="5.3" text-anchor="middle" font-weight="normal" fill="#000" stroke="#000" stroke-width="0.04">211</text>
<text x="434.35" y="444.72" font-size="5.3" text-anchor="middle" font-weight="normal" fill="#000" stroke="#000" stroke-width="0.04">D</text>
<text x="455.85" y="444.72" font-size="5.3" text-anchor="middle" font-weight="normal" fill="#000" stroke="#000" stroke-width="0.04">+</text>
<text x="476.35" y="444.72" font-size="5.3" text-anchor="middle" font-weight="normal" fill="#000" stroke="#000" stroke-width="0.04">++</text>
<text x="499.75" y="444.72" font-size="5.3" text-anchor="middle" font-weight="normal" fill="#000" stroke="#000" stroke-width="0.04">+/−</text>
<text x="392.70" y="454.77" font-size="5.3" text-anchor="middle" font-weight="normal" fill="#000" stroke="#000" stroke-width="0.04">AML</text>
<text x="413.75" y="454.77" font-size="5.3" text-anchor="middle" font-weight="normal" fill="#000" stroke="#000" stroke-width="0.04">82</text>
<text x="434.35" y="454.77" font-size="5.3" text-anchor="middle" font-weight="normal" fill="#000" stroke="#000" stroke-width="0.04">D</text>
<text x="455.85" y="454.77" font-size="5.3" text-anchor="middle" font-weight="normal" fill="#000" stroke="#000" stroke-width="0.04">+/−</text>
<text x="476.35" y="454.77" font-size="5.3" text-anchor="middle" font-weight="normal" fill="#000" stroke="#000" stroke-width="0.04">n.t.</text>
<text x="499.75" y="454.77" font-size="5.3" text-anchor="middle" font-weight="normal" fill="#000" stroke="#000" stroke-width="0.04">+/−</text>
<text x="392.70" y="464.82" font-size="5.3" text-anchor="middle" font-weight="normal" fill="#000" stroke="#000" stroke-width="0.04">AML</text>
<text x="413.75" y="464.82" font-size="5.3" text-anchor="middle" font-weight="normal" fill="#000" stroke="#000" stroke-width="0.04">19</text>
<text x="434.35" y="464.82" font-size="5.3" text-anchor="middle" font-weight="normal" fill="#000" stroke="#000" stroke-width="0.04">D</text>
<text x="455.85" y="464.82" font-size="5.3" text-anchor="middle" font-weight="normal" fill="#000" stroke="#000" stroke-width="0.04">+/−</text>
<text x="476.35" y="464.82" font-size="5.3" text-anchor="middle" font-weight="normal" fill="#000" stroke="#000" stroke-width="0.04">++</text>
<text x="499.75" y="464.82" font-size="5.3" text-anchor="middle" font-weight="normal" fill="#000" stroke="#000" stroke-width="0.04">++</text>
<text x="392.70" y="474.87" font-size="5.3" text-anchor="middle" font-weight="normal" fill="#000" stroke="#000" stroke-width="0.04">AML</text>
<text x="413.75" y="474.87" font-size="5.3" text-anchor="middle" font-weight="normal" fill="#000" stroke="#000" stroke-width="0.04">141</text>
<text x="434.35" y="474.87" font-size="5.3" text-anchor="middle" font-weight="normal" fill="#000" stroke="#000" stroke-width="0.04">D</text>
<text x="455.85" y="474.87" font-size="5.3" text-anchor="middle" font-weight="normal" fill="#000" stroke="#000" stroke-width="0.04">−</text>
<text x="476.35" y="474.87" font-size="5.3" text-anchor="middle" font-weight="normal" fill="#000" stroke="#000" stroke-width="0.04">+</text>
<text x="499.75" y="474.87" font-size="5.3" text-anchor="middle" font-weight="normal" fill="#000" stroke="#000" stroke-width="0.04">+</text>
<text x="392.70" y="484.92" font-size="5.3" text-anchor="middle" font-weight="normal" fill="#000" stroke="#000" stroke-width="0.04">AML</text>
<text x="413.75" y="484.92" font-size="5.3" text-anchor="middle" font-weight="normal" fill="#000" stroke="#000" stroke-width="0.04">274</text>
<text x="434.35" y="484.92" font-size="5.3" text-anchor="middle" font-weight="normal" fill="#000" stroke="#000" stroke-width="0.04">D</text>
<text x="455.85" y="484.92" font-size="5.3" text-anchor="middle" font-weight="normal" fill="#000" stroke="#000" stroke-width="0.04">−</text>
<text x="476.35" y="484.92" font-size="5.3" text-anchor="middle" font-weight="normal" fill="#000" stroke="#000" stroke-width="0.04">−</text>
<text x="499.75" y="484.92" font-size="5.3" text-anchor="middle" font-weight="normal" fill="#000" stroke="#000" stroke-width="0.04">−</text>
<text x="392.70" y="494.97" font-size="5.3" text-anchor="middle" font-weight="normal" fill="#000" stroke="#000" stroke-width="0.04">CML CP</text>
<text x="413.75" y="494.97" font-size="5.3" text-anchor="middle" font-weight="normal" fill="#000" stroke="#000" stroke-width="0.04">13</text>
<text x="434.35" y="494.97" font-size="5.3" text-anchor="middle" font-weight="normal" fill="#000" stroke="#000" stroke-width="0.04">D</text>
<text x="455.85" y="494.97" font-size="5.3" text-anchor="middle" font-weight="normal" fill="#000" stroke="#000" stroke-width="0.04">+/−</text>
<text x="476.35" y="494.97" font-size="5.3" text-anchor="middle" font-weight="normal" fill="#000" stroke="#000" stroke-width="0.04">n.t.</text>
<text x="499.75" y="494.97" font-size="5.3" text-anchor="middle" font-weight="normal" fill="#000" stroke="#000" stroke-width="0.04">+/−</text>
<text x="392.70" y="505.02" font-size="5.3" text-anchor="middle" font-weight="normal" fill="#000" stroke="#000" stroke-width="0.04">CML CP</text>
<text x="413.75" y="505.02" font-size="5.3" text-anchor="middle" font-weight="normal" fill="#000" stroke="#000" stroke-width="0.04">45</text>
<text x="434.35" y="505.02" font-size="5.3" text-anchor="middle" font-weight="normal" fill="#000" stroke="#000" stroke-width="0.04">D</text>
<text x="455.85" y="505.02" font-size="5.3" text-anchor="middle" font-weight="normal" fill="#000" stroke="#000" stroke-width="0.04">++</text>
<text x="476.35" y="505.02" font-size="5.3" text-anchor="middle" font-weight="normal" fill="#000" stroke="#000" stroke-width="0.04">n.t.</text>
<text x="499.75" y="505.02" font-size="5.3" text-anchor="middle" font-weight="normal" fill="#000" stroke="#000" stroke-width="0.04">n.t.</text>
<text x="392.70" y="515.07" font-size="5.3" text-anchor="middle" font-weight="normal" fill="#000" stroke="#000" stroke-width="0.04">CML CP</text>
<text x="413.75" y="515.07" font-size="5.3" text-anchor="middle" font-weight="normal" fill="#000" stroke="#000" stroke-width="0.04">81</text>
<text x="434.35" y="515.07" font-size="5.3" text-anchor="middle" font-weight="normal" fill="#000" stroke="#000" stroke-width="0.04">R</text>
<text x="455.85" y="515.07" font-size="5.3" text-anchor="middle" font-weight="normal" fill="#000" stroke="#000" stroke-width="0.04">+</text>
<text x="476.35" y="515.07" font-size="5.3" text-anchor="middle" font-weight="normal" fill="#000" stroke="#000" stroke-width="0.04">+</text>
<text x="499.75" y="515.07" font-size="5.3" text-anchor="middle" font-weight="normal" fill="#000" stroke="#000" stroke-width="0.04">++</text>
<text x="392.70" y="525.12" font-size="5.3" text-anchor="middle" font-weight="normal" fill="#000" stroke="#000" stroke-width="0.04">CML CP</text>
<text x="413.75" y="525.12" font-size="5.3" text-anchor="middle" font-weight="normal" fill="#000" stroke="#000" stroke-width="0.04">73</text>
<text x="434.35" y="525.12" font-size="5.3" text-anchor="middle" font-weight="normal" fill="#000" stroke="#000" stroke-width="0.04">D</text>
<text x="455.85" y="525.12" font-size="5.3" text-anchor="middle" font-weight="normal" fill="#000" stroke="#000" stroke-width="0.04">+/−</text>
<text x="476.35" y="525.12" font-size="5.3" text-anchor="middle" font-weight="normal" fill="#000" stroke="#000" stroke-width="0.04">++</text>
<text x="499.75" y="525.12" font-size="5.3" text-anchor="middle" font-weight="normal" fill="#000" stroke="#000" stroke-width="0.04">+/−</text>
<text x="392.70" y="535.17" font-size="5.3" text-anchor="middle" font-weight="normal" fill="#000" stroke="#000" stroke-width="0.04">CML CP</text>
<text x="413.75" y="535.17" font-size="5.3" text-anchor="middle" font-weight="normal" fill="#000" stroke="#000" stroke-width="0.04">11</text>
<text x="434.35" y="535.17" font-size="5.3" text-anchor="middle" font-weight="normal" fill="#000" stroke="#000" stroke-width="0.04">D</text>
<text x="455.85" y="535.17" font-size="5.3" text-anchor="middle" font-weight="normal" fill="#000" stroke="#000" stroke-width="0.04">++</text>
<text x="476.35" y="535.17" font-size="5.3" text-anchor="middle" font-weight="normal" fill="#000" stroke="#000" stroke-width="0.04">++</text>
<text x="499.75" y="535.17" font-size="5.3" text-anchor="middle" font-weight="normal" fill="#000" stroke="#000" stroke-width="0.04">−</text>
<text x="392.70" y="545.22" font-size="5.3" text-anchor="middle" font-weight="normal" fill="#000" stroke="#000" stroke-width="0.04">CML CP</text>
<text x="413.75" y="545.22" font-size="5.3" text-anchor="middle" font-weight="normal" fill="#000" stroke="#000" stroke-width="0.04">5</text>
<text x="434.35" y="545.22" font-size="5.3" text-anchor="middle" font-weight="normal" fill="#000" stroke="#000" stroke-width="0.04">D</text>
<text x="455.85" y="545.22" font-size="5.3" text-anchor="middle" font-weight="normal" fill="#000" stroke="#000" stroke-width="0.04">++</text>
<text x="476.35" y="545.22" font-size="5.3" text-anchor="middle" font-weight="normal" fill="#000" stroke="#000" stroke-width="0.04">++</text>
<text x="499.75" y="545.22" font-size="5.3" text-anchor="middle" font-weight="normal" fill="#000" stroke="#000" stroke-width="0.04">+/−</text>
<text x="392.70" y="555.27" font-size="5.3" text-anchor="middle" font-weight="normal" fill="#000" stroke="#000" stroke-width="0.04">CML CP</text>
<text x="413.75" y="555.27" font-size="5.3" text-anchor="middle" font-weight="normal" fill="#000" stroke="#000" stroke-width="0.04">21</text>
<text x="434.35" y="555.27" font-size="5.3" text-anchor="middle" font-weight="normal" fill="#000" stroke="#000" stroke-width="0.04">D</text>
<text x="455.85" y="555.27" font-size="5.3" text-anchor="middle" font-weight="normal" fill="#000" stroke="#000" stroke-width="0.04">+</text>
<text x="476.35" y="555.27" font-size="5.3" text-anchor="middle" font-weight="normal" fill="#000" stroke="#000" stroke-width="0.04">++</text>
<text x="499.75" y="555.27" font-size="5.3" text-anchor="middle" font-weight="normal" fill="#000" stroke="#000" stroke-width="0.04">+/−</text>
<text x="392.70" y="565.32" font-size="5.3" text-anchor="middle" font-weight="normal" fill="#000" stroke="#000" stroke-width="0.04">CML CP</text>
<text x="413.75" y="565.32" font-size="5.3" text-anchor="middle" font-weight="normal" fill="#000" stroke="#000" stroke-width="0.04">70</text>
<text x="434.35" y="565.32" font-size="5.3" text-anchor="middle" font-weight="normal" fill="#000" stroke="#000" stroke-width="0.04">D</text>
<text x="455.85" y="565.32" font-size="5.3" text-anchor="middle" font-weight="normal" fill="#000" stroke="#000" stroke-width="0.04">++</text>
<text x="476.35" y="565.32" font-size="5.3" text-anchor="middle" font-weight="normal" fill="#000" stroke="#000" stroke-width="0.04">n.t.</text>
<text x="499.75" y="565.32" font-size="5.3" text-anchor="middle" font-weight="normal" fill="#000" stroke="#000" stroke-width="0.04">n.t.</text>
<text x="392.70" y="575.38" font-size="5.3" text-anchor="middle" font-weight="normal" fill="#000" stroke="#000" stroke-width="0.04">CML CP</text>
<text x="413.75" y="575.38" font-size="5.3" text-anchor="middle" font-weight="normal" fill="#000" stroke="#000" stroke-width="0.04">20</text>
<text x="434.35" y="575.38" font-size="5.3" text-anchor="middle" font-weight="normal" fill="#000" stroke="#000" stroke-width="0.04">D</text>
<text x="455.85" y="575.38" font-size="5.3" text-anchor="middle" font-weight="normal" fill="#000" stroke="#000" stroke-width="0.04">++</text>
<text x="476.35" y="575.38" font-size="5.3" text-anchor="middle" font-weight="normal" fill="#000" stroke="#000" stroke-width="0.04">n.t.</text>
<text x="499.75" y="575.38" font-size="5.3" text-anchor="middle" font-weight="normal" fill="#000" stroke="#000" stroke-width="0.04">n.t.</text>
<rect x="0.00" y="0.00" width="1.50" height="635.00" fill="#000"/>
<rect x="0.00" y="0.00" width="520.00" height="1.20" fill="#000"/>
<rect x="518.60" y="0.00" width="1.40" height="635.00" fill="#000"/>
<rect x="0.00" y="633.70" width="520.00" height="1.30" fill="#000"/>
</svg></body></html>
